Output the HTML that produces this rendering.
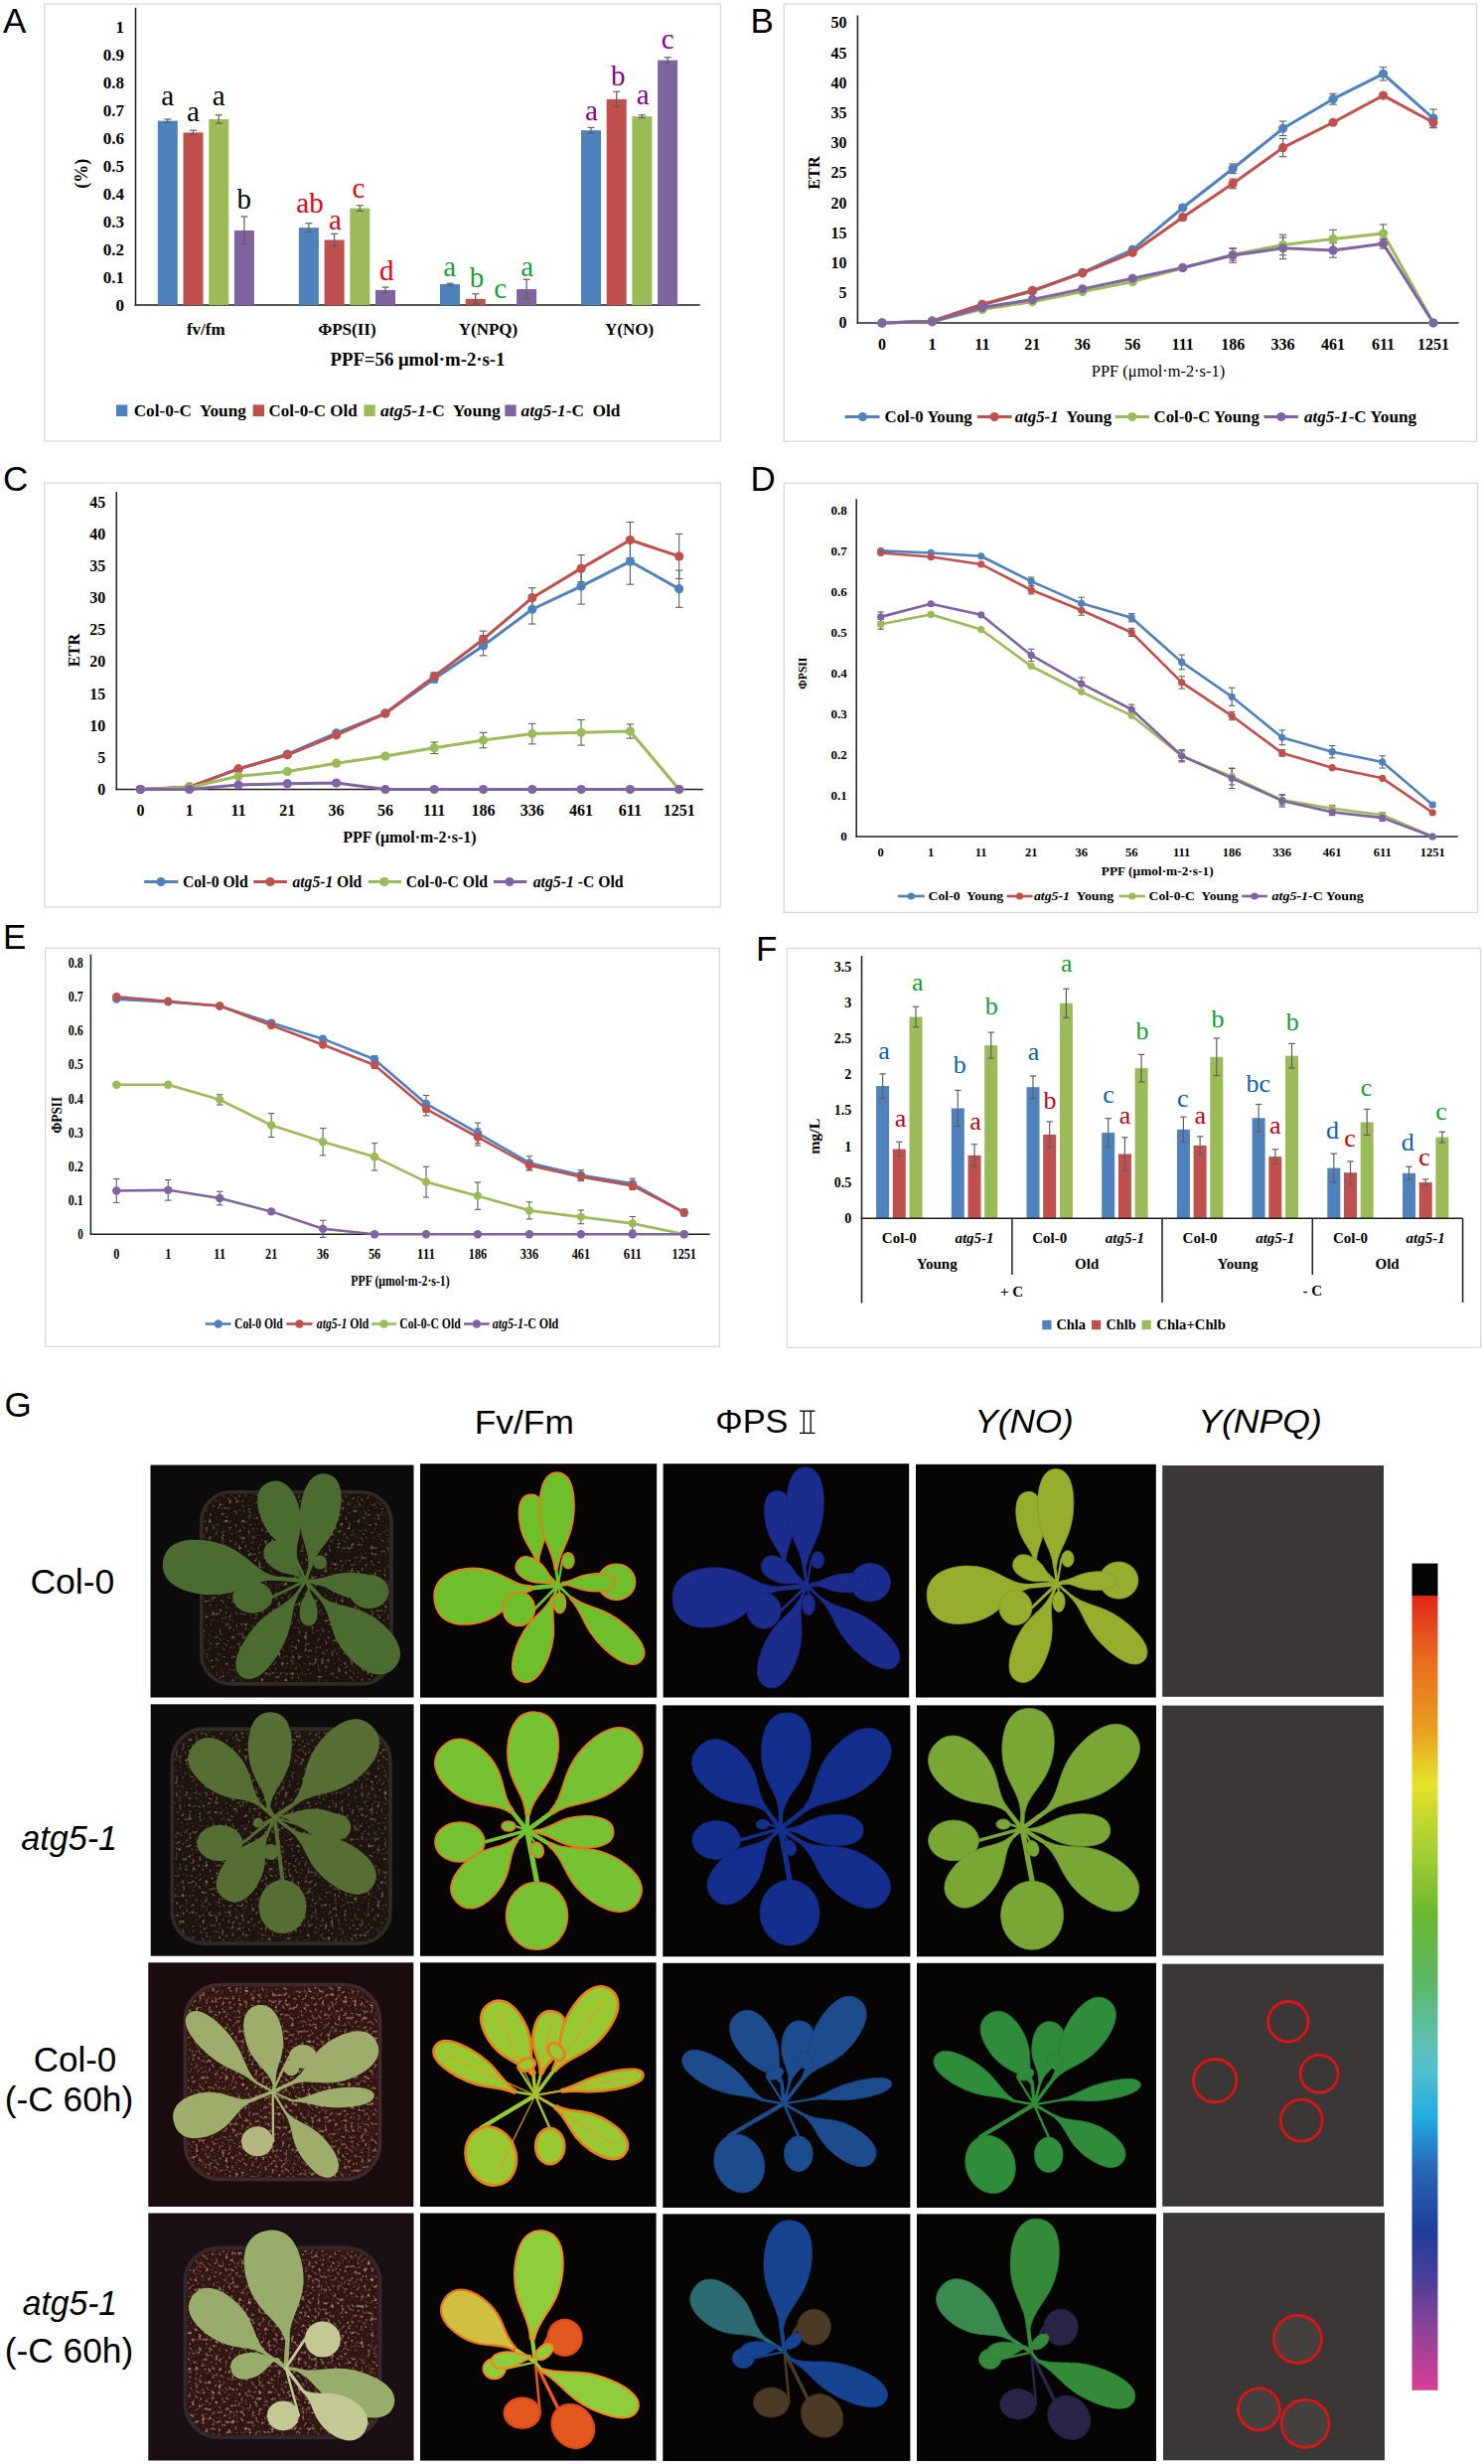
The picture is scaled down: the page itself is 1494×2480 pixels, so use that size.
<!DOCTYPE html><html><head><meta charset="utf-8"><style>html,body{margin:0;padding:0;background:#fff;width:1494px;height:2480px;overflow:hidden}svg{display:block}</style></head><body>
<svg width="1494" height="2480" viewBox="0 0 1494 2480">
<rect x="0" y="0" width="1494" height="2480" fill="#fff" stroke="none" stroke-width="0"/>
<rect x="44.8" y="4" width="680.6" height="440" fill="#fff" stroke="#d9d9d9" stroke-width="1.3"/>
<text x="3" y="33" font-family='"Liberation Sans", sans-serif' font-size="35" font-weight="normal" font-style="normal" text-anchor="start" fill="#000">A</text>
<text x="125" y="312.8" font-family='"Liberation Serif", serif' font-size="17" font-weight="bold" font-style="normal" text-anchor="end" fill="#000">0</text>
<text x="125" y="284.8" font-family='"Liberation Serif", serif' font-size="17" font-weight="bold" font-style="normal" text-anchor="end" fill="#000">0.1</text>
<text x="125" y="256.8" font-family='"Liberation Serif", serif' font-size="17" font-weight="bold" font-style="normal" text-anchor="end" fill="#000">0.2</text>
<text x="125" y="228.8" font-family='"Liberation Serif", serif' font-size="17" font-weight="bold" font-style="normal" text-anchor="end" fill="#000">0.3</text>
<text x="125" y="200.8" font-family='"Liberation Serif", serif' font-size="17" font-weight="bold" font-style="normal" text-anchor="end" fill="#000">0.4</text>
<text x="125" y="172.8" font-family='"Liberation Serif", serif' font-size="17" font-weight="bold" font-style="normal" text-anchor="end" fill="#000">0.5</text>
<text x="125" y="144.8" font-family='"Liberation Serif", serif' font-size="17" font-weight="bold" font-style="normal" text-anchor="end" fill="#000">0.6</text>
<text x="125" y="116.8" font-family='"Liberation Serif", serif' font-size="17" font-weight="bold" font-style="normal" text-anchor="end" fill="#000">0.7</text>
<text x="125" y="88.8" font-family='"Liberation Serif", serif' font-size="17" font-weight="bold" font-style="normal" text-anchor="end" fill="#000">0.8</text>
<text x="125" y="60.8" font-family='"Liberation Serif", serif' font-size="17" font-weight="bold" font-style="normal" text-anchor="end" fill="#000">0.9</text>
<text x="125" y="32.8" font-family='"Liberation Serif", serif' font-size="17" font-weight="bold" font-style="normal" text-anchor="end" fill="#000">1</text>
<text x="0" y="0" font-family='"Liberation Serif", serif' font-size="18" font-weight="bold" font-style="normal" text-anchor="middle" fill="#000" transform="translate(87.5,174.8) rotate(-90)">(%)</text>
<line x1="136.5" y1="7.7" x2="136.5" y2="307.7" stroke="#1e1e1e" stroke-width="1.5"/>
<line x1="135.8" y1="307" x2="704.7" y2="307" stroke="#1e1e1e" stroke-width="1.6"/>
<rect x="158.8" y="121.64" width="20" height="185.36" fill="#4f81bd" stroke="none" stroke-width="0"/>
<rect x="184.5" y="133.4" width="20" height="173.6" fill="#c0504d" stroke="none" stroke-width="0"/>
<rect x="210.2" y="119.96" width="20" height="187.04" fill="#9bbb59" stroke="none" stroke-width="0"/>
<rect x="235.9" y="231.96" width="20" height="75.04" fill="#8064a2" stroke="none" stroke-width="0"/>
<rect x="300.9" y="229.16" width="20" height="77.84" fill="#4f81bd" stroke="none" stroke-width="0"/>
<rect x="326.6" y="241.48" width="20" height="65.52" fill="#c0504d" stroke="none" stroke-width="0"/>
<rect x="352.3" y="209.56" width="20" height="97.44" fill="#9bbb59" stroke="none" stroke-width="0"/>
<rect x="378" y="291.88" width="20" height="15.12" fill="#8064a2" stroke="none" stroke-width="0"/>
<rect x="443" y="286" width="20" height="21" fill="#4f81bd" stroke="none" stroke-width="0"/>
<rect x="468.7" y="300.84" width="20" height="6.16" fill="#c0504d" stroke="none" stroke-width="0"/>
<rect x="520.1" y="291.04" width="20" height="15.96" fill="#8064a2" stroke="none" stroke-width="0"/>
<rect x="585" y="131.16" width="20" height="175.84" fill="#4f81bd" stroke="none" stroke-width="0"/>
<rect x="610.7" y="99.8" width="20" height="207.2" fill="#c0504d" stroke="none" stroke-width="0"/>
<rect x="636.4" y="117.16" width="20" height="189.84" fill="#9bbb59" stroke="none" stroke-width="0"/>
<rect x="662.1" y="60.6" width="20" height="246.4" fill="#8064a2" stroke="none" stroke-width="0"/>
<line x1="168.8" y1="119.96" x2="168.8" y2="123.32" stroke="#5f5f5f" stroke-width="1.2"/>
<line x1="165.3" y1="119.96" x2="172.3" y2="119.96" stroke="#5f5f5f" stroke-width="1.2"/>
<line x1="165.3" y1="123.32" x2="172.3" y2="123.32" stroke="#5f5f5f" stroke-width="1.2"/>
<line x1="194.5" y1="131.16" x2="194.5" y2="135.64" stroke="#5f5f5f" stroke-width="1.2"/>
<line x1="191" y1="131.16" x2="198" y2="131.16" stroke="#5f5f5f" stroke-width="1.2"/>
<line x1="191" y1="135.64" x2="198" y2="135.64" stroke="#5f5f5f" stroke-width="1.2"/>
<line x1="220.2" y1="115.76" x2="220.2" y2="124.16" stroke="#5f5f5f" stroke-width="1.2"/>
<line x1="216.7" y1="115.76" x2="223.7" y2="115.76" stroke="#5f5f5f" stroke-width="1.2"/>
<line x1="216.7" y1="124.16" x2="223.7" y2="124.16" stroke="#5f5f5f" stroke-width="1.2"/>
<line x1="245.9" y1="217.96" x2="245.9" y2="245.96" stroke="#5f5f5f" stroke-width="1.2"/>
<line x1="242.4" y1="217.96" x2="249.4" y2="217.96" stroke="#5f5f5f" stroke-width="1.2"/>
<line x1="242.4" y1="245.96" x2="249.4" y2="245.96" stroke="#5f5f5f" stroke-width="1.2"/>
<line x1="310.9" y1="224.68" x2="310.9" y2="233.64" stroke="#5f5f5f" stroke-width="1.2"/>
<line x1="307.4" y1="224.68" x2="314.4" y2="224.68" stroke="#5f5f5f" stroke-width="1.2"/>
<line x1="307.4" y1="233.64" x2="314.4" y2="233.64" stroke="#5f5f5f" stroke-width="1.2"/>
<line x1="336.6" y1="235.32" x2="336.6" y2="247.64" stroke="#5f5f5f" stroke-width="1.2"/>
<line x1="333.1" y1="235.32" x2="340.1" y2="235.32" stroke="#5f5f5f" stroke-width="1.2"/>
<line x1="333.1" y1="247.64" x2="340.1" y2="247.64" stroke="#5f5f5f" stroke-width="1.2"/>
<line x1="362.3" y1="206.76" x2="362.3" y2="212.36" stroke="#5f5f5f" stroke-width="1.2"/>
<line x1="358.8" y1="206.76" x2="365.8" y2="206.76" stroke="#5f5f5f" stroke-width="1.2"/>
<line x1="358.8" y1="212.36" x2="365.8" y2="212.36" stroke="#5f5f5f" stroke-width="1.2"/>
<line x1="388" y1="289.08" x2="388" y2="294.68" stroke="#5f5f5f" stroke-width="1.2"/>
<line x1="384.5" y1="289.08" x2="391.5" y2="289.08" stroke="#5f5f5f" stroke-width="1.2"/>
<line x1="384.5" y1="294.68" x2="391.5" y2="294.68" stroke="#5f5f5f" stroke-width="1.2"/>
<line x1="453" y1="285.16" x2="453" y2="286.84" stroke="#5f5f5f" stroke-width="1.2"/>
<line x1="449.5" y1="285.16" x2="456.5" y2="285.16" stroke="#5f5f5f" stroke-width="1.2"/>
<line x1="449.5" y1="286.84" x2="456.5" y2="286.84" stroke="#5f5f5f" stroke-width="1.2"/>
<line x1="478.7" y1="295.8" x2="478.7" y2="305.88" stroke="#5f5f5f" stroke-width="1.2"/>
<line x1="475.2" y1="295.8" x2="482.2" y2="295.8" stroke="#5f5f5f" stroke-width="1.2"/>
<line x1="475.2" y1="305.88" x2="482.2" y2="305.88" stroke="#5f5f5f" stroke-width="1.2"/>
<line x1="530.1" y1="281.24" x2="530.1" y2="300.84" stroke="#5f5f5f" stroke-width="1.2"/>
<line x1="526.6" y1="281.24" x2="533.6" y2="281.24" stroke="#5f5f5f" stroke-width="1.2"/>
<line x1="526.6" y1="300.84" x2="533.6" y2="300.84" stroke="#5f5f5f" stroke-width="1.2"/>
<line x1="595" y1="128.36" x2="595" y2="133.96" stroke="#5f5f5f" stroke-width="1.2"/>
<line x1="591.5" y1="128.36" x2="598.5" y2="128.36" stroke="#5f5f5f" stroke-width="1.2"/>
<line x1="591.5" y1="133.96" x2="598.5" y2="133.96" stroke="#5f5f5f" stroke-width="1.2"/>
<line x1="620.7" y1="92.24" x2="620.7" y2="107.36" stroke="#5f5f5f" stroke-width="1.2"/>
<line x1="617.2" y1="92.24" x2="624.2" y2="92.24" stroke="#5f5f5f" stroke-width="1.2"/>
<line x1="617.2" y1="107.36" x2="624.2" y2="107.36" stroke="#5f5f5f" stroke-width="1.2"/>
<line x1="646.4" y1="115.76" x2="646.4" y2="118.56" stroke="#5f5f5f" stroke-width="1.2"/>
<line x1="642.9" y1="115.76" x2="649.9" y2="115.76" stroke="#5f5f5f" stroke-width="1.2"/>
<line x1="642.9" y1="118.56" x2="649.9" y2="118.56" stroke="#5f5f5f" stroke-width="1.2"/>
<line x1="672.1" y1="57.8" x2="672.1" y2="63.4" stroke="#5f5f5f" stroke-width="1.2"/>
<line x1="668.6" y1="57.8" x2="675.6" y2="57.8" stroke="#5f5f5f" stroke-width="1.2"/>
<line x1="668.6" y1="63.4" x2="675.6" y2="63.4" stroke="#5f5f5f" stroke-width="1.2"/>
<text x="168.8" y="106" font-family='"Liberation Serif", serif' font-size="29" font-weight="normal" font-style="normal" text-anchor="middle" fill="#000">a</text>
<text x="194.5" y="122" font-family='"Liberation Serif", serif' font-size="29" font-weight="normal" font-style="normal" text-anchor="middle" fill="#000">a</text>
<text x="220.2" y="106" font-family='"Liberation Serif", serif' font-size="29" font-weight="normal" font-style="normal" text-anchor="middle" fill="#000">a</text>
<text x="245.8" y="210" font-family='"Liberation Serif", serif' font-size="29" font-weight="normal" font-style="normal" text-anchor="middle" fill="#000">b</text>
<text x="312" y="213.8" font-family='"Liberation Serif", serif' font-size="29" font-weight="normal" font-style="normal" text-anchor="middle" fill="#e00010">ab</text>
<text x="337.5" y="230.5" font-family='"Liberation Serif", serif' font-size="29" font-weight="normal" font-style="normal" text-anchor="middle" fill="#e00010">a</text>
<text x="361" y="198.5" font-family='"Liberation Serif", serif' font-size="29" font-weight="normal" font-style="normal" text-anchor="middle" fill="#e00010">c</text>
<text x="389.2" y="281.7" font-family='"Liberation Serif", serif' font-size="29" font-weight="normal" font-style="normal" text-anchor="middle" fill="#e00010">d</text>
<text x="452.7" y="277.8" font-family='"Liberation Serif", serif' font-size="29" font-weight="normal" font-style="normal" text-anchor="middle" fill="#18a038">a</text>
<text x="480.1" y="289.4" font-family='"Liberation Serif", serif' font-size="29" font-weight="normal" font-style="normal" text-anchor="middle" fill="#18a038">b</text>
<text x="503.7" y="299.6" font-family='"Liberation Serif", serif' font-size="29" font-weight="normal" font-style="normal" text-anchor="middle" fill="#18a038">c</text>
<text x="530.8" y="277.8" font-family='"Liberation Serif", serif' font-size="29" font-weight="normal" font-style="normal" text-anchor="middle" fill="#18a038">a</text>
<text x="595.4" y="120.9" font-family='"Liberation Serif", serif' font-size="29" font-weight="normal" font-style="normal" text-anchor="middle" fill="#850085">a</text>
<text x="622.2" y="85.8" font-family='"Liberation Serif", serif' font-size="29" font-weight="normal" font-style="normal" text-anchor="middle" fill="#850085">b</text>
<text x="647.3" y="105" font-family='"Liberation Serif", serif' font-size="29" font-weight="normal" font-style="normal" text-anchor="middle" fill="#850085">a</text>
<text x="672.2" y="48.7" font-family='"Liberation Serif", serif' font-size="29" font-weight="normal" font-style="normal" text-anchor="middle" fill="#850085">c</text>
<text x="207.3" y="336.5" font-family='"Liberation Serif", serif' font-size="17" font-weight="bold" font-style="normal" text-anchor="middle" fill="#000">fv/fm</text>
<text x="349.4" y="336.5" font-family='"Liberation Serif", serif' font-size="17" font-weight="bold" font-style="normal" text-anchor="middle" fill="#000">ΦPS(II)</text>
<text x="491.5" y="336.5" font-family='"Liberation Serif", serif' font-size="17" font-weight="bold" font-style="normal" text-anchor="middle" fill="#000">Y(NPQ)</text>
<text x="633.5" y="336.5" font-family='"Liberation Serif", serif' font-size="17" font-weight="bold" font-style="normal" text-anchor="middle" fill="#000">Y(NO)</text>
<text x="420.5" y="367.5" font-family='"Liberation Serif", serif' font-size="19" font-weight="bold" font-style="normal" text-anchor="middle" fill="#000" textLength="176" lengthAdjust="spacingAndGlyphs">PPF=56 μmol·m-2·s-1</text>
<rect x="117" y="407.4" width="11.3" height="11.6" fill="#4f81bd" stroke="none" stroke-width="0"/>
<rect x="254.7" y="407.4" width="11.3" height="11.6" fill="#c0504d" stroke="none" stroke-width="0"/>
<rect x="366.4" y="407.4" width="11.3" height="11.6" fill="#9bbb59" stroke="none" stroke-width="0"/>
<rect x="508.3" y="407.4" width="11.3" height="11.6" fill="#8064a2" stroke="none" stroke-width="0"/>
<text x="134.7" y="419.2" font-family='"Liberation Serif", serif' font-size="17.5" font-weight="bold" font-style="normal" text-anchor="start" fill="#000" textLength="113.2" lengthAdjust="spacingAndGlyphs">Col-0-C&#160; Young</text>
<text x="270.6" y="419.2" font-family='"Liberation Serif", serif' font-size="17.5" font-weight="bold" font-style="normal" text-anchor="start" fill="#000" textLength="89" lengthAdjust="spacingAndGlyphs">Col-0-C Old</text>
<text x="383" y="419.2" font-family='"Liberation Serif", serif' font-size="17.5" font-weight="bold" font-style="normal" text-anchor="start" fill="#000" textLength="120.8" lengthAdjust="spacingAndGlyphs"><tspan font-style="italic">atg5-1</tspan>-C&#160; Young</text>
<text x="524.5" y="419.2" font-family='"Liberation Serif", serif' font-size="17.5" font-weight="bold" font-style="normal" text-anchor="start" fill="#000" textLength="100" lengthAdjust="spacingAndGlyphs"><tspan font-style="italic">atg5-1</tspan>-C&#160; Old</text>
<rect x="789.2" y="4.1" width="697.5" height="440.2" fill="#fff" stroke="#d9d9d9" stroke-width="1.3"/>
<text x="755.5" y="32.5" font-family='"Liberation Sans", sans-serif' font-size="35" font-weight="normal" font-style="normal" text-anchor="start" fill="#000">B</text>
<line x1="863.4" y1="15.4" x2="863.4" y2="325.7" stroke="#1e1e1e" stroke-width="1.5"/>
<line x1="862.7" y1="325" x2="1468.6" y2="325" stroke="#1e1e1e" stroke-width="1.6"/>
<text x="852.5" y="330.44" font-family='"Liberation Serif", serif' font-size="16" font-weight="bold" font-style="normal" text-anchor="end" fill="#000">0</text>
<text x="852.5" y="300.24" font-family='"Liberation Serif", serif' font-size="16" font-weight="bold" font-style="normal" text-anchor="end" fill="#000">5</text>
<text x="852.5" y="270.04" font-family='"Liberation Serif", serif' font-size="16" font-weight="bold" font-style="normal" text-anchor="end" fill="#000">10</text>
<text x="852.5" y="239.84" font-family='"Liberation Serif", serif' font-size="16" font-weight="bold" font-style="normal" text-anchor="end" fill="#000">15</text>
<text x="852.5" y="209.64" font-family='"Liberation Serif", serif' font-size="16" font-weight="bold" font-style="normal" text-anchor="end" fill="#000">20</text>
<text x="852.5" y="179.44" font-family='"Liberation Serif", serif' font-size="16" font-weight="bold" font-style="normal" text-anchor="end" fill="#000">25</text>
<text x="852.5" y="149.24" font-family='"Liberation Serif", serif' font-size="16" font-weight="bold" font-style="normal" text-anchor="end" fill="#000">30</text>
<text x="852.5" y="119.04" font-family='"Liberation Serif", serif' font-size="16" font-weight="bold" font-style="normal" text-anchor="end" fill="#000">35</text>
<text x="852.5" y="88.84" font-family='"Liberation Serif", serif' font-size="16" font-weight="bold" font-style="normal" text-anchor="end" fill="#000">40</text>
<text x="852.5" y="58.64" font-family='"Liberation Serif", serif' font-size="16" font-weight="bold" font-style="normal" text-anchor="end" fill="#000">45</text>
<text x="852.5" y="28.44" font-family='"Liberation Serif", serif' font-size="16" font-weight="bold" font-style="normal" text-anchor="end" fill="#000">50</text>
<text x="888" y="351.64" font-family='"Liberation Serif", serif' font-size="16" font-weight="bold" font-style="normal" text-anchor="middle" fill="#000">0</text>
<text x="938.45" y="351.64" font-family='"Liberation Serif", serif' font-size="16" font-weight="bold" font-style="normal" text-anchor="middle" fill="#000">1</text>
<text x="988.9" y="351.64" font-family='"Liberation Serif", serif' font-size="16" font-weight="bold" font-style="normal" text-anchor="middle" fill="#000">11</text>
<text x="1039.35" y="351.64" font-family='"Liberation Serif", serif' font-size="16" font-weight="bold" font-style="normal" text-anchor="middle" fill="#000">21</text>
<text x="1089.8" y="351.64" font-family='"Liberation Serif", serif' font-size="16" font-weight="bold" font-style="normal" text-anchor="middle" fill="#000">36</text>
<text x="1140.25" y="351.64" font-family='"Liberation Serif", serif' font-size="16" font-weight="bold" font-style="normal" text-anchor="middle" fill="#000">56</text>
<text x="1190.7" y="351.64" font-family='"Liberation Serif", serif' font-size="16" font-weight="bold" font-style="normal" text-anchor="middle" fill="#000">111</text>
<text x="1241.15" y="351.64" font-family='"Liberation Serif", serif' font-size="16" font-weight="bold" font-style="normal" text-anchor="middle" fill="#000">186</text>
<text x="1291.6" y="351.64" font-family='"Liberation Serif", serif' font-size="16" font-weight="bold" font-style="normal" text-anchor="middle" fill="#000">336</text>
<text x="1342.05" y="351.64" font-family='"Liberation Serif", serif' font-size="16" font-weight="bold" font-style="normal" text-anchor="middle" fill="#000">461</text>
<text x="1392.5" y="351.64" font-family='"Liberation Serif", serif' font-size="16" font-weight="bold" font-style="normal" text-anchor="middle" fill="#000">611</text>
<text x="1442.95" y="351.64" font-family='"Liberation Serif", serif' font-size="16" font-weight="bold" font-style="normal" text-anchor="middle" fill="#000">1251</text>
<polyline points="888,325 938.45,323.19 988.9,306.88 1039.35,292.99 1089.8,274.26 1140.25,251.31 1190.7,209.03 1241.15,169.77 1291.6,129.3 1342.05,99.71 1392.5,74.34 1442.95,119.04" fill="none" stroke="#4f81bd" stroke-width="3" stroke-linejoin="round"/>
<polyline points="888,325 938.45,323.19 988.9,306.28 1039.35,292.38 1089.8,274.87 1140.25,254.33 1190.7,218.7 1241.15,184.87 1291.6,148.63 1342.05,123.26 1392.5,96.08 1442.95,123.26" fill="none" stroke="#c0504d" stroke-width="3" stroke-linejoin="round"/>
<polyline points="888,325 938.45,323.79 988.9,311.41 1039.35,303.86 1089.8,293.59 1140.25,283.63 1190.7,269.73 1241.15,256.14 1291.6,246.48 1342.05,240.44 1392.5,235 1442.95,325" fill="none" stroke="#9bbb59" stroke-width="3" stroke-linejoin="round"/>
<polyline points="888,325 938.45,323.79 988.9,309.6 1039.35,301.44 1089.8,290.87 1140.25,280.3 1190.7,269.43 1241.15,257.05 1291.6,249.8 1342.05,251.92 1392.5,245.27 1442.95,325" fill="none" stroke="#8064a2" stroke-width="3" stroke-linejoin="round"/>
<line x1="1190.7" y1="206.62" x2="1190.7" y2="211.45" stroke="#5f5f5f" stroke-width="1.1"/>
<line x1="1186.9" y1="206.62" x2="1194.5" y2="206.62" stroke="#5f5f5f" stroke-width="1.1"/>
<line x1="1186.9" y1="211.45" x2="1194.5" y2="211.45" stroke="#5f5f5f" stroke-width="1.1"/>
<line x1="1241.15" y1="164.94" x2="1241.15" y2="174.6" stroke="#5f5f5f" stroke-width="1.1"/>
<line x1="1237.35" y1="164.94" x2="1244.95" y2="164.94" stroke="#5f5f5f" stroke-width="1.1"/>
<line x1="1237.35" y1="174.6" x2="1244.95" y2="174.6" stroke="#5f5f5f" stroke-width="1.1"/>
<line x1="1291.6" y1="122.06" x2="1291.6" y2="136.55" stroke="#5f5f5f" stroke-width="1.1"/>
<line x1="1287.8" y1="122.06" x2="1295.4" y2="122.06" stroke="#5f5f5f" stroke-width="1.1"/>
<line x1="1287.8" y1="136.55" x2="1295.4" y2="136.55" stroke="#5f5f5f" stroke-width="1.1"/>
<line x1="1342.05" y1="94.27" x2="1342.05" y2="105.14" stroke="#5f5f5f" stroke-width="1.1"/>
<line x1="1338.25" y1="94.27" x2="1345.85" y2="94.27" stroke="#5f5f5f" stroke-width="1.1"/>
<line x1="1338.25" y1="105.14" x2="1345.85" y2="105.14" stroke="#5f5f5f" stroke-width="1.1"/>
<line x1="1392.5" y1="67.7" x2="1392.5" y2="80.98" stroke="#5f5f5f" stroke-width="1.1"/>
<line x1="1388.7" y1="67.7" x2="1396.3" y2="67.7" stroke="#5f5f5f" stroke-width="1.1"/>
<line x1="1388.7" y1="80.98" x2="1396.3" y2="80.98" stroke="#5f5f5f" stroke-width="1.1"/>
<line x1="1442.95" y1="109.98" x2="1442.95" y2="128.1" stroke="#5f5f5f" stroke-width="1.1"/>
<line x1="1439.15" y1="109.98" x2="1446.75" y2="109.98" stroke="#5f5f5f" stroke-width="1.1"/>
<line x1="1439.15" y1="128.1" x2="1446.75" y2="128.1" stroke="#5f5f5f" stroke-width="1.1"/>
<line x1="1190.7" y1="215.68" x2="1190.7" y2="221.72" stroke="#5f5f5f" stroke-width="1.1"/>
<line x1="1186.9" y1="215.68" x2="1194.5" y2="215.68" stroke="#5f5f5f" stroke-width="1.1"/>
<line x1="1186.9" y1="221.72" x2="1194.5" y2="221.72" stroke="#5f5f5f" stroke-width="1.1"/>
<line x1="1241.15" y1="180.04" x2="1241.15" y2="189.7" stroke="#5f5f5f" stroke-width="1.1"/>
<line x1="1237.35" y1="180.04" x2="1244.95" y2="180.04" stroke="#5f5f5f" stroke-width="1.1"/>
<line x1="1237.35" y1="189.7" x2="1244.95" y2="189.7" stroke="#5f5f5f" stroke-width="1.1"/>
<line x1="1291.6" y1="139.57" x2="1291.6" y2="157.69" stroke="#5f5f5f" stroke-width="1.1"/>
<line x1="1287.8" y1="139.57" x2="1295.4" y2="139.57" stroke="#5f5f5f" stroke-width="1.1"/>
<line x1="1287.8" y1="157.69" x2="1295.4" y2="157.69" stroke="#5f5f5f" stroke-width="1.1"/>
<line x1="1342.05" y1="121.45" x2="1342.05" y2="125.08" stroke="#5f5f5f" stroke-width="1.1"/>
<line x1="1338.25" y1="121.45" x2="1345.85" y2="121.45" stroke="#5f5f5f" stroke-width="1.1"/>
<line x1="1338.25" y1="125.08" x2="1345.85" y2="125.08" stroke="#5f5f5f" stroke-width="1.1"/>
<line x1="1392.5" y1="94.27" x2="1392.5" y2="97.9" stroke="#5f5f5f" stroke-width="1.1"/>
<line x1="1388.7" y1="94.27" x2="1396.3" y2="94.27" stroke="#5f5f5f" stroke-width="1.1"/>
<line x1="1388.7" y1="97.9" x2="1396.3" y2="97.9" stroke="#5f5f5f" stroke-width="1.1"/>
<line x1="1442.95" y1="117.83" x2="1442.95" y2="128.7" stroke="#5f5f5f" stroke-width="1.1"/>
<line x1="1439.15" y1="117.83" x2="1446.75" y2="117.83" stroke="#5f5f5f" stroke-width="1.1"/>
<line x1="1439.15" y1="128.7" x2="1446.75" y2="128.7" stroke="#5f5f5f" stroke-width="1.1"/>
<line x1="1241.15" y1="250.1" x2="1241.15" y2="262.18" stroke="#5f5f5f" stroke-width="1.1"/>
<line x1="1237.35" y1="250.1" x2="1244.95" y2="250.1" stroke="#5f5f5f" stroke-width="1.1"/>
<line x1="1237.35" y1="262.18" x2="1244.95" y2="262.18" stroke="#5f5f5f" stroke-width="1.1"/>
<line x1="1291.6" y1="236.21" x2="1291.6" y2="256.75" stroke="#5f5f5f" stroke-width="1.1"/>
<line x1="1287.8" y1="236.21" x2="1295.4" y2="236.21" stroke="#5f5f5f" stroke-width="1.1"/>
<line x1="1287.8" y1="256.75" x2="1295.4" y2="256.75" stroke="#5f5f5f" stroke-width="1.1"/>
<line x1="1342.05" y1="231.38" x2="1342.05" y2="249.5" stroke="#5f5f5f" stroke-width="1.1"/>
<line x1="1338.25" y1="231.38" x2="1345.85" y2="231.38" stroke="#5f5f5f" stroke-width="1.1"/>
<line x1="1338.25" y1="249.5" x2="1345.85" y2="249.5" stroke="#5f5f5f" stroke-width="1.1"/>
<line x1="1392.5" y1="225.94" x2="1392.5" y2="244.06" stroke="#5f5f5f" stroke-width="1.1"/>
<line x1="1388.7" y1="225.94" x2="1396.3" y2="225.94" stroke="#5f5f5f" stroke-width="1.1"/>
<line x1="1388.7" y1="244.06" x2="1396.3" y2="244.06" stroke="#5f5f5f" stroke-width="1.1"/>
<line x1="1241.15" y1="249.8" x2="1241.15" y2="264.3" stroke="#5f5f5f" stroke-width="1.1"/>
<line x1="1237.35" y1="249.8" x2="1244.95" y2="249.8" stroke="#5f5f5f" stroke-width="1.1"/>
<line x1="1237.35" y1="264.3" x2="1244.95" y2="264.3" stroke="#5f5f5f" stroke-width="1.1"/>
<line x1="1291.6" y1="238.93" x2="1291.6" y2="260.67" stroke="#5f5f5f" stroke-width="1.1"/>
<line x1="1287.8" y1="238.93" x2="1295.4" y2="238.93" stroke="#5f5f5f" stroke-width="1.1"/>
<line x1="1287.8" y1="260.67" x2="1295.4" y2="260.67" stroke="#5f5f5f" stroke-width="1.1"/>
<line x1="1342.05" y1="244.67" x2="1342.05" y2="259.16" stroke="#5f5f5f" stroke-width="1.1"/>
<line x1="1338.25" y1="244.67" x2="1345.85" y2="244.67" stroke="#5f5f5f" stroke-width="1.1"/>
<line x1="1338.25" y1="259.16" x2="1345.85" y2="259.16" stroke="#5f5f5f" stroke-width="1.1"/>
<line x1="1392.5" y1="240.44" x2="1392.5" y2="250.1" stroke="#5f5f5f" stroke-width="1.1"/>
<line x1="1388.7" y1="240.44" x2="1396.3" y2="240.44" stroke="#5f5f5f" stroke-width="1.1"/>
<line x1="1388.7" y1="250.1" x2="1396.3" y2="250.1" stroke="#5f5f5f" stroke-width="1.1"/>
<circle cx="888" cy="325" r="4.6" fill="#4f81bd"/>
<circle cx="938.45" cy="323.19" r="4.6" fill="#4f81bd"/>
<circle cx="988.9" cy="306.88" r="4.6" fill="#4f81bd"/>
<circle cx="1039.35" cy="292.99" r="4.6" fill="#4f81bd"/>
<circle cx="1089.8" cy="274.26" r="4.6" fill="#4f81bd"/>
<circle cx="1140.25" cy="251.31" r="4.6" fill="#4f81bd"/>
<circle cx="1190.7" cy="209.03" r="4.6" fill="#4f81bd"/>
<circle cx="1241.15" cy="169.77" r="4.6" fill="#4f81bd"/>
<circle cx="1291.6" cy="129.3" r="4.6" fill="#4f81bd"/>
<circle cx="1342.05" cy="99.71" r="4.6" fill="#4f81bd"/>
<circle cx="1392.5" cy="74.34" r="4.6" fill="#4f81bd"/>
<circle cx="1442.95" cy="119.04" r="4.6" fill="#4f81bd"/>
<circle cx="888" cy="325" r="4.6" fill="#c0504d"/>
<circle cx="938.45" cy="323.19" r="4.6" fill="#c0504d"/>
<circle cx="988.9" cy="306.28" r="4.6" fill="#c0504d"/>
<circle cx="1039.35" cy="292.38" r="4.6" fill="#c0504d"/>
<circle cx="1089.8" cy="274.87" r="4.6" fill="#c0504d"/>
<circle cx="1140.25" cy="254.33" r="4.6" fill="#c0504d"/>
<circle cx="1190.7" cy="218.7" r="4.6" fill="#c0504d"/>
<circle cx="1241.15" cy="184.87" r="4.6" fill="#c0504d"/>
<circle cx="1291.6" cy="148.63" r="4.6" fill="#c0504d"/>
<circle cx="1342.05" cy="123.26" r="4.6" fill="#c0504d"/>
<circle cx="1392.5" cy="96.08" r="4.6" fill="#c0504d"/>
<circle cx="1442.95" cy="123.26" r="4.6" fill="#c0504d"/>
<circle cx="888" cy="325" r="4.6" fill="#9bbb59"/>
<circle cx="938.45" cy="323.79" r="4.6" fill="#9bbb59"/>
<circle cx="988.9" cy="311.41" r="4.6" fill="#9bbb59"/>
<circle cx="1039.35" cy="303.86" r="4.6" fill="#9bbb59"/>
<circle cx="1089.8" cy="293.59" r="4.6" fill="#9bbb59"/>
<circle cx="1140.25" cy="283.63" r="4.6" fill="#9bbb59"/>
<circle cx="1190.7" cy="269.73" r="4.6" fill="#9bbb59"/>
<circle cx="1241.15" cy="256.14" r="4.6" fill="#9bbb59"/>
<circle cx="1291.6" cy="246.48" r="4.6" fill="#9bbb59"/>
<circle cx="1342.05" cy="240.44" r="4.6" fill="#9bbb59"/>
<circle cx="1392.5" cy="235" r="4.6" fill="#9bbb59"/>
<circle cx="1442.95" cy="325" r="4.6" fill="#9bbb59"/>
<circle cx="888" cy="325" r="4.6" fill="#8064a2"/>
<circle cx="938.45" cy="323.79" r="4.6" fill="#8064a2"/>
<circle cx="988.9" cy="309.6" r="4.6" fill="#8064a2"/>
<circle cx="1039.35" cy="301.44" r="4.6" fill="#8064a2"/>
<circle cx="1089.8" cy="290.87" r="4.6" fill="#8064a2"/>
<circle cx="1140.25" cy="280.3" r="4.6" fill="#8064a2"/>
<circle cx="1190.7" cy="269.43" r="4.6" fill="#8064a2"/>
<circle cx="1241.15" cy="257.05" r="4.6" fill="#8064a2"/>
<circle cx="1291.6" cy="249.8" r="4.6" fill="#8064a2"/>
<circle cx="1342.05" cy="251.92" r="4.6" fill="#8064a2"/>
<circle cx="1392.5" cy="245.27" r="4.6" fill="#8064a2"/>
<circle cx="1442.95" cy="325" r="4.6" fill="#8064a2"/>
<line x1="850.6" y1="419.5" x2="885.5" y2="419.5" stroke="#4f81bd" stroke-width="3"/>
<circle cx="868.5" cy="419.5" r="4.6" fill="#4f81bd"/>
<line x1="983.8" y1="419.5" x2="1018.6" y2="419.5" stroke="#c0504d" stroke-width="3"/>
<circle cx="1001.2" cy="419.5" r="4.6" fill="#c0504d"/>
<line x1="1122.6" y1="419.5" x2="1157" y2="419.5" stroke="#9bbb59" stroke-width="3"/>
<circle cx="1139.8" cy="419.5" r="4.6" fill="#9bbb59"/>
<line x1="1272.6" y1="419.5" x2="1307" y2="419.5" stroke="#8064a2" stroke-width="3"/>
<circle cx="1289.8" cy="419.5" r="4.6" fill="#8064a2"/>
<text x="890.6" y="425.11" font-family='"Liberation Serif", serif' font-size="17" font-weight="bold" font-style="normal" text-anchor="start" fill="#000" textLength="88.1" lengthAdjust="spacingAndGlyphs">Col-0 Young</text>
<text x="1021.7" y="425.11" font-family='"Liberation Serif", serif' font-size="17" font-weight="bold" font-style="normal" text-anchor="start" fill="#000" textLength="97.4" lengthAdjust="spacingAndGlyphs"><tspan font-style="italic">atg5-1</tspan>&#160; Young</text>
<text x="1161.6" y="425.11" font-family='"Liberation Serif", serif' font-size="17" font-weight="bold" font-style="normal" text-anchor="start" fill="#000" textLength="106.2" lengthAdjust="spacingAndGlyphs">Col-0-C Young</text>
<text x="1313" y="425.11" font-family='"Liberation Serif", serif' font-size="17" font-weight="bold" font-style="normal" text-anchor="start" fill="#000" textLength="113" lengthAdjust="spacingAndGlyphs"><tspan font-style="italic">atg5-1</tspan>-C Young</text>
<text x="1166" y="379.3" font-family='"Liberation Serif", serif' font-size="17" font-weight="normal" font-style="normal" text-anchor="middle" fill="#000" textLength="134.3" lengthAdjust="spacingAndGlyphs">PPF (μmol·m-2·s-1)</text>
<text x="0" y="0" font-family='"Liberation Serif", serif' font-size="16" font-weight="bold" font-style="normal" text-anchor="middle" fill="#000" textLength="33.5" lengthAdjust="spacingAndGlyphs" transform="translate(825,174) rotate(-90)">ETR</text>
<rect x="44.8" y="486" width="680.6" height="427" fill="#fff" stroke="#d9d9d9" stroke-width="1.3"/>
<text x="3" y="494" font-family='"Liberation Sans", sans-serif' font-size="35" font-weight="normal" font-style="normal" text-anchor="start" fill="#000">C</text>
<line x1="117.3" y1="495" x2="117.3" y2="795.2" stroke="#1e1e1e" stroke-width="1.5"/>
<line x1="116.6" y1="794.5" x2="707.8" y2="794.5" stroke="#1e1e1e" stroke-width="1.6"/>
<text x="106.3" y="799.94" font-family='"Liberation Serif", serif' font-size="16" font-weight="bold" font-style="normal" text-anchor="end" fill="#000">0</text>
<text x="106.3" y="767.81" font-family='"Liberation Serif", serif' font-size="16" font-weight="bold" font-style="normal" text-anchor="end" fill="#000">5</text>
<text x="106.3" y="735.67" font-family='"Liberation Serif", serif' font-size="16" font-weight="bold" font-style="normal" text-anchor="end" fill="#000">10</text>
<text x="106.3" y="703.54" font-family='"Liberation Serif", serif' font-size="16" font-weight="bold" font-style="normal" text-anchor="end" fill="#000">15</text>
<text x="106.3" y="671.4" font-family='"Liberation Serif", serif' font-size="16" font-weight="bold" font-style="normal" text-anchor="end" fill="#000">20</text>
<text x="106.3" y="639.27" font-family='"Liberation Serif", serif' font-size="16" font-weight="bold" font-style="normal" text-anchor="end" fill="#000">25</text>
<text x="106.3" y="607.13" font-family='"Liberation Serif", serif' font-size="16" font-weight="bold" font-style="normal" text-anchor="end" fill="#000">30</text>
<text x="106.3" y="575" font-family='"Liberation Serif", serif' font-size="16" font-weight="bold" font-style="normal" text-anchor="end" fill="#000">35</text>
<text x="106.3" y="542.86" font-family='"Liberation Serif", serif' font-size="16" font-weight="bold" font-style="normal" text-anchor="end" fill="#000">40</text>
<text x="106.3" y="510.73" font-family='"Liberation Serif", serif' font-size="16" font-weight="bold" font-style="normal" text-anchor="end" fill="#000">45</text>
<text x="141.4" y="821.44" font-family='"Liberation Serif", serif' font-size="16" font-weight="bold" font-style="normal" text-anchor="middle" fill="#000">0</text>
<text x="190.7" y="821.44" font-family='"Liberation Serif", serif' font-size="16" font-weight="bold" font-style="normal" text-anchor="middle" fill="#000">1</text>
<text x="240" y="821.44" font-family='"Liberation Serif", serif' font-size="16" font-weight="bold" font-style="normal" text-anchor="middle" fill="#000">11</text>
<text x="289.3" y="821.44" font-family='"Liberation Serif", serif' font-size="16" font-weight="bold" font-style="normal" text-anchor="middle" fill="#000">21</text>
<text x="338.6" y="821.44" font-family='"Liberation Serif", serif' font-size="16" font-weight="bold" font-style="normal" text-anchor="middle" fill="#000">36</text>
<text x="387.9" y="821.44" font-family='"Liberation Serif", serif' font-size="16" font-weight="bold" font-style="normal" text-anchor="middle" fill="#000">56</text>
<text x="437.2" y="821.44" font-family='"Liberation Serif", serif' font-size="16" font-weight="bold" font-style="normal" text-anchor="middle" fill="#000">111</text>
<text x="486.5" y="821.44" font-family='"Liberation Serif", serif' font-size="16" font-weight="bold" font-style="normal" text-anchor="middle" fill="#000">186</text>
<text x="535.8" y="821.44" font-family='"Liberation Serif", serif' font-size="16" font-weight="bold" font-style="normal" text-anchor="middle" fill="#000">336</text>
<text x="585.1" y="821.44" font-family='"Liberation Serif", serif' font-size="16" font-weight="bold" font-style="normal" text-anchor="middle" fill="#000">461</text>
<text x="634.4" y="821.44" font-family='"Liberation Serif", serif' font-size="16" font-weight="bold" font-style="normal" text-anchor="middle" fill="#000">611</text>
<text x="683.7" y="821.44" font-family='"Liberation Serif", serif' font-size="16" font-weight="bold" font-style="normal" text-anchor="middle" fill="#000">1251</text>
<polyline points="141.4,794.5 190.7,792.57 240,773.93 289.3,759.15 338.6,737.94 387.9,718.02 437.2,683.31 486.5,649.89 535.8,613.26 585.1,590.12 634.4,565.06 683.7,592.69" fill="none" stroke="#4f81bd" stroke-width="3" stroke-linejoin="round"/>
<polyline points="141.4,794.5 190.7,791.93 240,773.93 289.3,759.79 338.6,739.87 387.9,718.02 437.2,680.74 486.5,643.47 535.8,601.69 585.1,572.13 634.4,543.53 683.7,559.91" fill="none" stroke="#c0504d" stroke-width="3" stroke-linejoin="round"/>
<polyline points="141.4,794.5 190.7,792.57 240,781.32 289.3,776.5 338.6,768.15 387.9,761.08 437.2,752.72 486.5,745.01 535.8,738.59 585.1,737.3 634.4,736.01 683.7,794.5" fill="none" stroke="#9bbb59" stroke-width="3" stroke-linejoin="round"/>
<polyline points="141.4,794.5 190.7,794.5 240,790 289.3,788.72 338.6,788.07 387.9,794.5 437.2,794.5 486.5,794.5 535.8,794.5 585.1,794.5 634.4,794.5 683.7,794.5" fill="none" stroke="#8064a2" stroke-width="3" stroke-linejoin="round"/>
<line x1="437.2" y1="679.46" x2="437.2" y2="687.17" stroke="#5f5f5f" stroke-width="1.1"/>
<line x1="433.4" y1="679.46" x2="441" y2="679.46" stroke="#5f5f5f" stroke-width="1.1"/>
<line x1="433.4" y1="687.17" x2="441" y2="687.17" stroke="#5f5f5f" stroke-width="1.1"/>
<line x1="486.5" y1="639.93" x2="486.5" y2="659.85" stroke="#5f5f5f" stroke-width="1.1"/>
<line x1="482.7" y1="639.93" x2="490.3" y2="639.93" stroke="#5f5f5f" stroke-width="1.1"/>
<line x1="482.7" y1="659.85" x2="490.3" y2="659.85" stroke="#5f5f5f" stroke-width="1.1"/>
<line x1="535.8" y1="598.48" x2="535.8" y2="628.04" stroke="#5f5f5f" stroke-width="1.1"/>
<line x1="532" y1="598.48" x2="539.6" y2="598.48" stroke="#5f5f5f" stroke-width="1.1"/>
<line x1="532" y1="628.04" x2="539.6" y2="628.04" stroke="#5f5f5f" stroke-width="1.1"/>
<line x1="585.1" y1="572.13" x2="585.1" y2="608.12" stroke="#5f5f5f" stroke-width="1.1"/>
<line x1="581.3" y1="572.13" x2="588.9" y2="572.13" stroke="#5f5f5f" stroke-width="1.1"/>
<line x1="581.3" y1="608.12" x2="588.9" y2="608.12" stroke="#5f5f5f" stroke-width="1.1"/>
<line x1="634.4" y1="541.92" x2="634.4" y2="588.19" stroke="#5f5f5f" stroke-width="1.1"/>
<line x1="630.6" y1="541.92" x2="638.2" y2="541.92" stroke="#5f5f5f" stroke-width="1.1"/>
<line x1="630.6" y1="588.19" x2="638.2" y2="588.19" stroke="#5f5f5f" stroke-width="1.1"/>
<line x1="683.7" y1="574.05" x2="683.7" y2="611.33" stroke="#5f5f5f" stroke-width="1.1"/>
<line x1="679.9" y1="574.05" x2="687.5" y2="574.05" stroke="#5f5f5f" stroke-width="1.1"/>
<line x1="679.9" y1="611.33" x2="687.5" y2="611.33" stroke="#5f5f5f" stroke-width="1.1"/>
<line x1="437.2" y1="676.89" x2="437.2" y2="684.6" stroke="#5f5f5f" stroke-width="1.1"/>
<line x1="433.4" y1="676.89" x2="441" y2="676.89" stroke="#5f5f5f" stroke-width="1.1"/>
<line x1="433.4" y1="684.6" x2="441" y2="684.6" stroke="#5f5f5f" stroke-width="1.1"/>
<line x1="486.5" y1="635.11" x2="486.5" y2="651.82" stroke="#5f5f5f" stroke-width="1.1"/>
<line x1="482.7" y1="635.11" x2="490.3" y2="635.11" stroke="#5f5f5f" stroke-width="1.1"/>
<line x1="482.7" y1="651.82" x2="490.3" y2="651.82" stroke="#5f5f5f" stroke-width="1.1"/>
<line x1="535.8" y1="591.73" x2="535.8" y2="611.65" stroke="#5f5f5f" stroke-width="1.1"/>
<line x1="532" y1="591.73" x2="539.6" y2="591.73" stroke="#5f5f5f" stroke-width="1.1"/>
<line x1="532" y1="611.65" x2="539.6" y2="611.65" stroke="#5f5f5f" stroke-width="1.1"/>
<line x1="585.1" y1="558.63" x2="585.1" y2="585.62" stroke="#5f5f5f" stroke-width="1.1"/>
<line x1="581.3" y1="558.63" x2="588.9" y2="558.63" stroke="#5f5f5f" stroke-width="1.1"/>
<line x1="581.3" y1="585.62" x2="588.9" y2="585.62" stroke="#5f5f5f" stroke-width="1.1"/>
<line x1="634.4" y1="525.53" x2="634.4" y2="561.52" stroke="#5f5f5f" stroke-width="1.1"/>
<line x1="630.6" y1="525.53" x2="638.2" y2="525.53" stroke="#5f5f5f" stroke-width="1.1"/>
<line x1="630.6" y1="561.52" x2="638.2" y2="561.52" stroke="#5f5f5f" stroke-width="1.1"/>
<line x1="683.7" y1="537.42" x2="683.7" y2="582.41" stroke="#5f5f5f" stroke-width="1.1"/>
<line x1="679.9" y1="537.42" x2="687.5" y2="537.42" stroke="#5f5f5f" stroke-width="1.1"/>
<line x1="679.9" y1="582.41" x2="687.5" y2="582.41" stroke="#5f5f5f" stroke-width="1.1"/>
<line x1="437.2" y1="746.94" x2="437.2" y2="758.51" stroke="#5f5f5f" stroke-width="1.1"/>
<line x1="433.4" y1="746.94" x2="441" y2="746.94" stroke="#5f5f5f" stroke-width="1.1"/>
<line x1="433.4" y1="758.51" x2="441" y2="758.51" stroke="#5f5f5f" stroke-width="1.1"/>
<line x1="486.5" y1="737.3" x2="486.5" y2="752.72" stroke="#5f5f5f" stroke-width="1.1"/>
<line x1="482.7" y1="737.3" x2="490.3" y2="737.3" stroke="#5f5f5f" stroke-width="1.1"/>
<line x1="482.7" y1="752.72" x2="490.3" y2="752.72" stroke="#5f5f5f" stroke-width="1.1"/>
<line x1="535.8" y1="728.3" x2="535.8" y2="748.87" stroke="#5f5f5f" stroke-width="1.1"/>
<line x1="532" y1="728.3" x2="539.6" y2="728.3" stroke="#5f5f5f" stroke-width="1.1"/>
<line x1="532" y1="748.87" x2="539.6" y2="748.87" stroke="#5f5f5f" stroke-width="1.1"/>
<line x1="585.1" y1="724.45" x2="585.1" y2="750.15" stroke="#5f5f5f" stroke-width="1.1"/>
<line x1="581.3" y1="724.45" x2="588.9" y2="724.45" stroke="#5f5f5f" stroke-width="1.1"/>
<line x1="581.3" y1="750.15" x2="588.9" y2="750.15" stroke="#5f5f5f" stroke-width="1.1"/>
<line x1="634.4" y1="728.94" x2="634.4" y2="743.08" stroke="#5f5f5f" stroke-width="1.1"/>
<line x1="630.6" y1="728.94" x2="638.2" y2="728.94" stroke="#5f5f5f" stroke-width="1.1"/>
<line x1="630.6" y1="743.08" x2="638.2" y2="743.08" stroke="#5f5f5f" stroke-width="1.1"/>
<circle cx="141.4" cy="794.5" r="4.6" fill="#4f81bd"/>
<circle cx="190.7" cy="792.57" r="4.6" fill="#4f81bd"/>
<circle cx="240" cy="773.93" r="4.6" fill="#4f81bd"/>
<circle cx="289.3" cy="759.15" r="4.6" fill="#4f81bd"/>
<circle cx="338.6" cy="737.94" r="4.6" fill="#4f81bd"/>
<circle cx="387.9" cy="718.02" r="4.6" fill="#4f81bd"/>
<circle cx="437.2" cy="683.31" r="4.6" fill="#4f81bd"/>
<circle cx="486.5" cy="649.89" r="4.6" fill="#4f81bd"/>
<circle cx="535.8" cy="613.26" r="4.6" fill="#4f81bd"/>
<circle cx="585.1" cy="590.12" r="4.6" fill="#4f81bd"/>
<circle cx="634.4" cy="565.06" r="4.6" fill="#4f81bd"/>
<circle cx="683.7" cy="592.69" r="4.6" fill="#4f81bd"/>
<circle cx="141.4" cy="794.5" r="4.6" fill="#c0504d"/>
<circle cx="190.7" cy="791.93" r="4.6" fill="#c0504d"/>
<circle cx="240" cy="773.93" r="4.6" fill="#c0504d"/>
<circle cx="289.3" cy="759.79" r="4.6" fill="#c0504d"/>
<circle cx="338.6" cy="739.87" r="4.6" fill="#c0504d"/>
<circle cx="387.9" cy="718.02" r="4.6" fill="#c0504d"/>
<circle cx="437.2" cy="680.74" r="4.6" fill="#c0504d"/>
<circle cx="486.5" cy="643.47" r="4.6" fill="#c0504d"/>
<circle cx="535.8" cy="601.69" r="4.6" fill="#c0504d"/>
<circle cx="585.1" cy="572.13" r="4.6" fill="#c0504d"/>
<circle cx="634.4" cy="543.53" r="4.6" fill="#c0504d"/>
<circle cx="683.7" cy="559.91" r="4.6" fill="#c0504d"/>
<circle cx="141.4" cy="794.5" r="4.6" fill="#9bbb59"/>
<circle cx="190.7" cy="792.57" r="4.6" fill="#9bbb59"/>
<circle cx="240" cy="781.32" r="4.6" fill="#9bbb59"/>
<circle cx="289.3" cy="776.5" r="4.6" fill="#9bbb59"/>
<circle cx="338.6" cy="768.15" r="4.6" fill="#9bbb59"/>
<circle cx="387.9" cy="761.08" r="4.6" fill="#9bbb59"/>
<circle cx="437.2" cy="752.72" r="4.6" fill="#9bbb59"/>
<circle cx="486.5" cy="745.01" r="4.6" fill="#9bbb59"/>
<circle cx="535.8" cy="738.59" r="4.6" fill="#9bbb59"/>
<circle cx="585.1" cy="737.3" r="4.6" fill="#9bbb59"/>
<circle cx="634.4" cy="736.01" r="4.6" fill="#9bbb59"/>
<circle cx="683.7" cy="794.5" r="4.6" fill="#9bbb59"/>
<circle cx="141.4" cy="794.5" r="4.6" fill="#8064a2"/>
<circle cx="190.7" cy="794.5" r="4.6" fill="#8064a2"/>
<circle cx="240" cy="790" r="4.6" fill="#8064a2"/>
<circle cx="289.3" cy="788.72" r="4.6" fill="#8064a2"/>
<circle cx="338.6" cy="788.07" r="4.6" fill="#8064a2"/>
<circle cx="387.9" cy="794.5" r="4.6" fill="#8064a2"/>
<circle cx="437.2" cy="794.5" r="4.6" fill="#8064a2"/>
<circle cx="486.5" cy="794.5" r="4.6" fill="#8064a2"/>
<circle cx="535.8" cy="794.5" r="4.6" fill="#8064a2"/>
<circle cx="585.1" cy="794.5" r="4.6" fill="#8064a2"/>
<circle cx="634.4" cy="794.5" r="4.6" fill="#8064a2"/>
<circle cx="683.7" cy="794.5" r="4.6" fill="#8064a2"/>
<line x1="145.2" y1="887.5" x2="179.3" y2="887.5" stroke="#4f81bd" stroke-width="3"/>
<circle cx="162" cy="887.5" r="4.6" fill="#4f81bd"/>
<line x1="255.3" y1="887.5" x2="288.9" y2="887.5" stroke="#c0504d" stroke-width="3"/>
<circle cx="272" cy="887.5" r="4.6" fill="#c0504d"/>
<line x1="370.8" y1="887.5" x2="404" y2="887.5" stroke="#9bbb59" stroke-width="3"/>
<circle cx="386.9" cy="887.5" r="4.6" fill="#9bbb59"/>
<line x1="497" y1="887.5" x2="530.3" y2="887.5" stroke="#8064a2" stroke-width="3"/>
<circle cx="513" cy="887.5" r="4.6" fill="#8064a2"/>
<text x="183.9" y="893.11" font-family='"Liberation Serif", serif' font-size="17" font-weight="bold" font-style="normal" text-anchor="start" fill="#000" textLength="65.8" lengthAdjust="spacingAndGlyphs">Col-0 Old</text>
<text x="294.5" y="893.11" font-family='"Liberation Serif", serif' font-size="17" font-weight="bold" font-style="normal" text-anchor="start" fill="#000" textLength="69.7" lengthAdjust="spacingAndGlyphs"><tspan font-style="italic">atg5-1</tspan> Old</text>
<text x="408.7" y="893.11" font-family='"Liberation Serif", serif' font-size="17" font-weight="bold" font-style="normal" text-anchor="start" fill="#000" textLength="82.3" lengthAdjust="spacingAndGlyphs">Col-0-C Old</text>
<text x="536.7" y="893.11" font-family='"Liberation Serif", serif' font-size="17" font-weight="bold" font-style="normal" text-anchor="start" fill="#000" textLength="90.9" lengthAdjust="spacingAndGlyphs"><tspan font-style="italic">atg5-1</tspan> -C Old</text>
<text x="412.4" y="848.3" font-family='"Liberation Serif", serif' font-size="17" font-weight="bold" font-style="normal" text-anchor="middle" fill="#000" textLength="134.4" lengthAdjust="spacingAndGlyphs">PPF (μmol·m-2·s-1)</text>
<text x="0" y="0" font-family='"Liberation Serif", serif' font-size="16" font-weight="bold" font-style="normal" text-anchor="middle" fill="#000" textLength="33.5" lengthAdjust="spacingAndGlyphs" transform="translate(79.5,654.6) rotate(-90)">ETR</text>
<rect x="789.2" y="486.3" width="698.5" height="432.1" fill="#fff" stroke="#d9d9d9" stroke-width="1.3"/>
<text x="755.5" y="494" font-family='"Liberation Sans", sans-serif' font-size="35" font-weight="normal" font-style="normal" text-anchor="start" fill="#000">D</text>
<line x1="862.2" y1="502.3" x2="862.2" y2="842.7" stroke="#1e1e1e" stroke-width="1.5"/>
<line x1="861.5" y1="842" x2="1467.8" y2="842" stroke="#1e1e1e" stroke-width="1.6"/>
<text x="852.7" y="846.42" font-family='"Liberation Serif", serif' font-size="13" font-weight="bold" font-style="normal" text-anchor="end" fill="#000">0</text>
<text x="852.7" y="805.39" font-family='"Liberation Serif", serif' font-size="13" font-weight="bold" font-style="normal" text-anchor="end" fill="#000">0.1</text>
<text x="852.7" y="764.37" font-family='"Liberation Serif", serif' font-size="13" font-weight="bold" font-style="normal" text-anchor="end" fill="#000">0.2</text>
<text x="852.7" y="723.34" font-family='"Liberation Serif", serif' font-size="13" font-weight="bold" font-style="normal" text-anchor="end" fill="#000">0.3</text>
<text x="852.7" y="682.32" font-family='"Liberation Serif", serif' font-size="13" font-weight="bold" font-style="normal" text-anchor="end" fill="#000">0.4</text>
<text x="852.7" y="641.29" font-family='"Liberation Serif", serif' font-size="13" font-weight="bold" font-style="normal" text-anchor="end" fill="#000">0.5</text>
<text x="852.7" y="600.27" font-family='"Liberation Serif", serif' font-size="13" font-weight="bold" font-style="normal" text-anchor="end" fill="#000">0.6</text>
<text x="852.7" y="559.25" font-family='"Liberation Serif", serif' font-size="13" font-weight="bold" font-style="normal" text-anchor="end" fill="#000">0.7</text>
<text x="852.7" y="518.22" font-family='"Liberation Serif", serif' font-size="13" font-weight="bold" font-style="normal" text-anchor="end" fill="#000">0.8</text>
<text x="886.7" y="861.55" font-family='"Liberation Serif", serif' font-size="12.5" font-weight="bold" font-style="normal" text-anchor="middle" fill="#000">0</text>
<text x="937.2" y="861.55" font-family='"Liberation Serif", serif' font-size="12.5" font-weight="bold" font-style="normal" text-anchor="middle" fill="#000">1</text>
<text x="987.7" y="861.55" font-family='"Liberation Serif", serif' font-size="12.5" font-weight="bold" font-style="normal" text-anchor="middle" fill="#000">11</text>
<text x="1038.2" y="861.55" font-family='"Liberation Serif", serif' font-size="12.5" font-weight="bold" font-style="normal" text-anchor="middle" fill="#000">21</text>
<text x="1088.7" y="861.55" font-family='"Liberation Serif", serif' font-size="12.5" font-weight="bold" font-style="normal" text-anchor="middle" fill="#000">36</text>
<text x="1139.2" y="861.55" font-family='"Liberation Serif", serif' font-size="12.5" font-weight="bold" font-style="normal" text-anchor="middle" fill="#000">56</text>
<text x="1189.7" y="861.55" font-family='"Liberation Serif", serif' font-size="12.5" font-weight="bold" font-style="normal" text-anchor="middle" fill="#000">111</text>
<text x="1240.2" y="861.55" font-family='"Liberation Serif", serif' font-size="12.5" font-weight="bold" font-style="normal" text-anchor="middle" fill="#000">186</text>
<text x="1290.7" y="861.55" font-family='"Liberation Serif", serif' font-size="12.5" font-weight="bold" font-style="normal" text-anchor="middle" fill="#000">336</text>
<text x="1341.2" y="861.55" font-family='"Liberation Serif", serif' font-size="12.5" font-weight="bold" font-style="normal" text-anchor="middle" fill="#000">461</text>
<text x="1391.7" y="861.55" font-family='"Liberation Serif", serif' font-size="12.5" font-weight="bold" font-style="normal" text-anchor="middle" fill="#000">611</text>
<text x="1442.2" y="861.55" font-family='"Liberation Serif", serif' font-size="12.5" font-weight="bold" font-style="normal" text-anchor="middle" fill="#000">1251</text>
<polyline points="886.7,554.41 937.2,556.47 987.7,559.75 1038.2,585.18 1088.7,607.34 1139.2,621.7 1189.7,666.41 1240.2,701.28 1290.7,742.31 1341.2,756.67 1391.7,766.92 1442.2,810" fill="none" stroke="#4f81bd" stroke-width="2.6" stroke-linejoin="round"/>
<polyline points="886.7,556.47 937.2,560.57 987.7,567.95 1038.2,593.8 1088.7,614.31 1139.2,636.46 1189.7,686.93 1240.2,720.57 1290.7,757.9 1341.2,772.67 1391.7,783.33 1442.2,817.8" fill="none" stroke="#c0504d" stroke-width="2.6" stroke-linejoin="round"/>
<polyline points="886.7,628.26 937.2,618.41 987.7,633.59 1038.2,670.52 1088.7,696.36 1139.2,720.16 1189.7,760.77 1240.2,781.69 1290.7,805.08 1341.2,813.69 1391.7,820.26 1442.2,842" fill="none" stroke="#9bbb59" stroke-width="2.6" stroke-linejoin="round"/>
<polyline points="886.7,620.88 937.2,607.75 987.7,618.82 1038.2,659.44 1088.7,688.16 1139.2,714 1189.7,760.77 1240.2,783.33 1290.7,805.9 1341.2,817.38 1391.7,823.13 1442.2,842" fill="none" stroke="#8064a2" stroke-width="2.6" stroke-linejoin="round"/>
<line x1="1038.2" y1="581.08" x2="1038.2" y2="589.29" stroke="#5f5f5f" stroke-width="1.1"/>
<line x1="1035" y1="581.08" x2="1041.4" y2="581.08" stroke="#5f5f5f" stroke-width="1.1"/>
<line x1="1035" y1="589.29" x2="1041.4" y2="589.29" stroke="#5f5f5f" stroke-width="1.1"/>
<line x1="1088.7" y1="601.18" x2="1088.7" y2="613.49" stroke="#5f5f5f" stroke-width="1.1"/>
<line x1="1085.5" y1="601.18" x2="1091.9" y2="601.18" stroke="#5f5f5f" stroke-width="1.1"/>
<line x1="1085.5" y1="613.49" x2="1091.9" y2="613.49" stroke="#5f5f5f" stroke-width="1.1"/>
<line x1="1139.2" y1="617.59" x2="1139.2" y2="625.8" stroke="#5f5f5f" stroke-width="1.1"/>
<line x1="1136" y1="617.59" x2="1142.4" y2="617.59" stroke="#5f5f5f" stroke-width="1.1"/>
<line x1="1136" y1="625.8" x2="1142.4" y2="625.8" stroke="#5f5f5f" stroke-width="1.1"/>
<line x1="1189.7" y1="659.03" x2="1189.7" y2="673.8" stroke="#5f5f5f" stroke-width="1.1"/>
<line x1="1186.5" y1="659.03" x2="1192.9" y2="659.03" stroke="#5f5f5f" stroke-width="1.1"/>
<line x1="1186.5" y1="673.8" x2="1192.9" y2="673.8" stroke="#5f5f5f" stroke-width="1.1"/>
<line x1="1240.2" y1="692.26" x2="1240.2" y2="710.31" stroke="#5f5f5f" stroke-width="1.1"/>
<line x1="1237" y1="692.26" x2="1243.4" y2="692.26" stroke="#5f5f5f" stroke-width="1.1"/>
<line x1="1237" y1="710.31" x2="1243.4" y2="710.31" stroke="#5f5f5f" stroke-width="1.1"/>
<line x1="1290.7" y1="734.92" x2="1290.7" y2="749.69" stroke="#5f5f5f" stroke-width="1.1"/>
<line x1="1287.5" y1="734.92" x2="1293.9" y2="734.92" stroke="#5f5f5f" stroke-width="1.1"/>
<line x1="1287.5" y1="749.69" x2="1293.9" y2="749.69" stroke="#5f5f5f" stroke-width="1.1"/>
<line x1="1341.2" y1="750.51" x2="1341.2" y2="762.82" stroke="#5f5f5f" stroke-width="1.1"/>
<line x1="1338" y1="750.51" x2="1344.4" y2="750.51" stroke="#5f5f5f" stroke-width="1.1"/>
<line x1="1338" y1="762.82" x2="1344.4" y2="762.82" stroke="#5f5f5f" stroke-width="1.1"/>
<line x1="1391.7" y1="760.77" x2="1391.7" y2="773.08" stroke="#5f5f5f" stroke-width="1.1"/>
<line x1="1388.5" y1="760.77" x2="1394.9" y2="760.77" stroke="#5f5f5f" stroke-width="1.1"/>
<line x1="1388.5" y1="773.08" x2="1394.9" y2="773.08" stroke="#5f5f5f" stroke-width="1.1"/>
<line x1="1442.2" y1="807.54" x2="1442.2" y2="812.46" stroke="#5f5f5f" stroke-width="1.1"/>
<line x1="1439" y1="807.54" x2="1445.4" y2="807.54" stroke="#5f5f5f" stroke-width="1.1"/>
<line x1="1439" y1="812.46" x2="1445.4" y2="812.46" stroke="#5f5f5f" stroke-width="1.1"/>
<line x1="1038.2" y1="589.7" x2="1038.2" y2="597.9" stroke="#5f5f5f" stroke-width="1.1"/>
<line x1="1035" y1="589.7" x2="1041.4" y2="589.7" stroke="#5f5f5f" stroke-width="1.1"/>
<line x1="1035" y1="597.9" x2="1041.4" y2="597.9" stroke="#5f5f5f" stroke-width="1.1"/>
<line x1="1088.7" y1="609.39" x2="1088.7" y2="619.23" stroke="#5f5f5f" stroke-width="1.1"/>
<line x1="1085.5" y1="609.39" x2="1091.9" y2="609.39" stroke="#5f5f5f" stroke-width="1.1"/>
<line x1="1085.5" y1="619.23" x2="1091.9" y2="619.23" stroke="#5f5f5f" stroke-width="1.1"/>
<line x1="1139.2" y1="632.36" x2="1139.2" y2="640.57" stroke="#5f5f5f" stroke-width="1.1"/>
<line x1="1136" y1="632.36" x2="1142.4" y2="632.36" stroke="#5f5f5f" stroke-width="1.1"/>
<line x1="1136" y1="640.57" x2="1142.4" y2="640.57" stroke="#5f5f5f" stroke-width="1.1"/>
<line x1="1189.7" y1="680.77" x2="1189.7" y2="693.08" stroke="#5f5f5f" stroke-width="1.1"/>
<line x1="1186.5" y1="680.77" x2="1192.9" y2="680.77" stroke="#5f5f5f" stroke-width="1.1"/>
<line x1="1186.5" y1="693.08" x2="1192.9" y2="693.08" stroke="#5f5f5f" stroke-width="1.1"/>
<line x1="1240.2" y1="716.46" x2="1240.2" y2="724.67" stroke="#5f5f5f" stroke-width="1.1"/>
<line x1="1237" y1="716.46" x2="1243.4" y2="716.46" stroke="#5f5f5f" stroke-width="1.1"/>
<line x1="1237" y1="724.67" x2="1243.4" y2="724.67" stroke="#5f5f5f" stroke-width="1.1"/>
<line x1="1290.7" y1="754.62" x2="1290.7" y2="761.18" stroke="#5f5f5f" stroke-width="1.1"/>
<line x1="1287.5" y1="754.62" x2="1293.9" y2="754.62" stroke="#5f5f5f" stroke-width="1.1"/>
<line x1="1287.5" y1="761.18" x2="1293.9" y2="761.18" stroke="#5f5f5f" stroke-width="1.1"/>
<line x1="886.7" y1="623.34" x2="886.7" y2="633.18" stroke="#5f5f5f" stroke-width="1.1"/>
<line x1="883.5" y1="623.34" x2="889.9" y2="623.34" stroke="#5f5f5f" stroke-width="1.1"/>
<line x1="883.5" y1="633.18" x2="889.9" y2="633.18" stroke="#5f5f5f" stroke-width="1.1"/>
<line x1="1189.7" y1="755.85" x2="1189.7" y2="765.69" stroke="#5f5f5f" stroke-width="1.1"/>
<line x1="1186.5" y1="755.85" x2="1192.9" y2="755.85" stroke="#5f5f5f" stroke-width="1.1"/>
<line x1="1186.5" y1="765.69" x2="1192.9" y2="765.69" stroke="#5f5f5f" stroke-width="1.1"/>
<line x1="1240.2" y1="773.49" x2="1240.2" y2="789.9" stroke="#5f5f5f" stroke-width="1.1"/>
<line x1="1237" y1="773.49" x2="1243.4" y2="773.49" stroke="#5f5f5f" stroke-width="1.1"/>
<line x1="1237" y1="789.9" x2="1243.4" y2="789.9" stroke="#5f5f5f" stroke-width="1.1"/>
<line x1="1290.7" y1="800.15" x2="1290.7" y2="810" stroke="#5f5f5f" stroke-width="1.1"/>
<line x1="1287.5" y1="800.15" x2="1293.9" y2="800.15" stroke="#5f5f5f" stroke-width="1.1"/>
<line x1="1287.5" y1="810" x2="1293.9" y2="810" stroke="#5f5f5f" stroke-width="1.1"/>
<line x1="1341.2" y1="810.41" x2="1341.2" y2="816.97" stroke="#5f5f5f" stroke-width="1.1"/>
<line x1="1338" y1="810.41" x2="1344.4" y2="810.41" stroke="#5f5f5f" stroke-width="1.1"/>
<line x1="1338" y1="816.97" x2="1344.4" y2="816.97" stroke="#5f5f5f" stroke-width="1.1"/>
<line x1="1391.7" y1="817.8" x2="1391.7" y2="822.72" stroke="#5f5f5f" stroke-width="1.1"/>
<line x1="1388.5" y1="817.8" x2="1394.9" y2="817.8" stroke="#5f5f5f" stroke-width="1.1"/>
<line x1="1388.5" y1="822.72" x2="1394.9" y2="822.72" stroke="#5f5f5f" stroke-width="1.1"/>
<line x1="886.7" y1="615.95" x2="886.7" y2="625.8" stroke="#5f5f5f" stroke-width="1.1"/>
<line x1="883.5" y1="615.95" x2="889.9" y2="615.95" stroke="#5f5f5f" stroke-width="1.1"/>
<line x1="883.5" y1="625.8" x2="889.9" y2="625.8" stroke="#5f5f5f" stroke-width="1.1"/>
<line x1="1038.2" y1="653.28" x2="1038.2" y2="665.59" stroke="#5f5f5f" stroke-width="1.1"/>
<line x1="1035" y1="653.28" x2="1041.4" y2="653.28" stroke="#5f5f5f" stroke-width="1.1"/>
<line x1="1035" y1="665.59" x2="1041.4" y2="665.59" stroke="#5f5f5f" stroke-width="1.1"/>
<line x1="1088.7" y1="682" x2="1088.7" y2="694.31" stroke="#5f5f5f" stroke-width="1.1"/>
<line x1="1085.5" y1="682" x2="1091.9" y2="682" stroke="#5f5f5f" stroke-width="1.1"/>
<line x1="1085.5" y1="694.31" x2="1091.9" y2="694.31" stroke="#5f5f5f" stroke-width="1.1"/>
<line x1="1139.2" y1="709.08" x2="1139.2" y2="718.92" stroke="#5f5f5f" stroke-width="1.1"/>
<line x1="1136" y1="709.08" x2="1142.4" y2="709.08" stroke="#5f5f5f" stroke-width="1.1"/>
<line x1="1136" y1="718.92" x2="1142.4" y2="718.92" stroke="#5f5f5f" stroke-width="1.1"/>
<line x1="1189.7" y1="754.62" x2="1189.7" y2="766.92" stroke="#5f5f5f" stroke-width="1.1"/>
<line x1="1186.5" y1="754.62" x2="1192.9" y2="754.62" stroke="#5f5f5f" stroke-width="1.1"/>
<line x1="1186.5" y1="766.92" x2="1192.9" y2="766.92" stroke="#5f5f5f" stroke-width="1.1"/>
<line x1="1240.2" y1="773.08" x2="1240.2" y2="793.59" stroke="#5f5f5f" stroke-width="1.1"/>
<line x1="1237" y1="773.08" x2="1243.4" y2="773.08" stroke="#5f5f5f" stroke-width="1.1"/>
<line x1="1237" y1="793.59" x2="1243.4" y2="793.59" stroke="#5f5f5f" stroke-width="1.1"/>
<line x1="1290.7" y1="799.74" x2="1290.7" y2="812.05" stroke="#5f5f5f" stroke-width="1.1"/>
<line x1="1287.5" y1="799.74" x2="1293.9" y2="799.74" stroke="#5f5f5f" stroke-width="1.1"/>
<line x1="1287.5" y1="812.05" x2="1293.9" y2="812.05" stroke="#5f5f5f" stroke-width="1.1"/>
<line x1="1341.2" y1="814.1" x2="1341.2" y2="820.67" stroke="#5f5f5f" stroke-width="1.1"/>
<line x1="1338" y1="814.1" x2="1344.4" y2="814.1" stroke="#5f5f5f" stroke-width="1.1"/>
<line x1="1338" y1="820.67" x2="1344.4" y2="820.67" stroke="#5f5f5f" stroke-width="1.1"/>
<line x1="1391.7" y1="819.85" x2="1391.7" y2="826.41" stroke="#5f5f5f" stroke-width="1.1"/>
<line x1="1388.5" y1="819.85" x2="1394.9" y2="819.85" stroke="#5f5f5f" stroke-width="1.1"/>
<line x1="1388.5" y1="826.41" x2="1394.9" y2="826.41" stroke="#5f5f5f" stroke-width="1.1"/>
<circle cx="886.7" cy="554.41" r="3.6" fill="#4f81bd"/>
<circle cx="937.2" cy="556.47" r="3.6" fill="#4f81bd"/>
<circle cx="987.7" cy="559.75" r="3.6" fill="#4f81bd"/>
<circle cx="1038.2" cy="585.18" r="3.6" fill="#4f81bd"/>
<circle cx="1088.7" cy="607.34" r="3.6" fill="#4f81bd"/>
<circle cx="1139.2" cy="621.7" r="3.6" fill="#4f81bd"/>
<circle cx="1189.7" cy="666.41" r="3.6" fill="#4f81bd"/>
<circle cx="1240.2" cy="701.28" r="3.6" fill="#4f81bd"/>
<circle cx="1290.7" cy="742.31" r="3.6" fill="#4f81bd"/>
<circle cx="1341.2" cy="756.67" r="3.6" fill="#4f81bd"/>
<circle cx="1391.7" cy="766.92" r="3.6" fill="#4f81bd"/>
<circle cx="1442.2" cy="810" r="3.6" fill="#4f81bd"/>
<circle cx="886.7" cy="556.47" r="3.6" fill="#c0504d"/>
<circle cx="937.2" cy="560.57" r="3.6" fill="#c0504d"/>
<circle cx="987.7" cy="567.95" r="3.6" fill="#c0504d"/>
<circle cx="1038.2" cy="593.8" r="3.6" fill="#c0504d"/>
<circle cx="1088.7" cy="614.31" r="3.6" fill="#c0504d"/>
<circle cx="1139.2" cy="636.46" r="3.6" fill="#c0504d"/>
<circle cx="1189.7" cy="686.93" r="3.6" fill="#c0504d"/>
<circle cx="1240.2" cy="720.57" r="3.6" fill="#c0504d"/>
<circle cx="1290.7" cy="757.9" r="3.6" fill="#c0504d"/>
<circle cx="1341.2" cy="772.67" r="3.6" fill="#c0504d"/>
<circle cx="1391.7" cy="783.33" r="3.6" fill="#c0504d"/>
<circle cx="1442.2" cy="817.8" r="3.6" fill="#c0504d"/>
<circle cx="886.7" cy="628.26" r="3.6" fill="#9bbb59"/>
<circle cx="937.2" cy="618.41" r="3.6" fill="#9bbb59"/>
<circle cx="987.7" cy="633.59" r="3.6" fill="#9bbb59"/>
<circle cx="1038.2" cy="670.52" r="3.6" fill="#9bbb59"/>
<circle cx="1088.7" cy="696.36" r="3.6" fill="#9bbb59"/>
<circle cx="1139.2" cy="720.16" r="3.6" fill="#9bbb59"/>
<circle cx="1189.7" cy="760.77" r="3.6" fill="#9bbb59"/>
<circle cx="1240.2" cy="781.69" r="3.6" fill="#9bbb59"/>
<circle cx="1290.7" cy="805.08" r="3.6" fill="#9bbb59"/>
<circle cx="1341.2" cy="813.69" r="3.6" fill="#9bbb59"/>
<circle cx="1391.7" cy="820.26" r="3.6" fill="#9bbb59"/>
<circle cx="1442.2" cy="842" r="3.6" fill="#9bbb59"/>
<circle cx="886.7" cy="620.88" r="3.6" fill="#8064a2"/>
<circle cx="937.2" cy="607.75" r="3.6" fill="#8064a2"/>
<circle cx="987.7" cy="618.82" r="3.6" fill="#8064a2"/>
<circle cx="1038.2" cy="659.44" r="3.6" fill="#8064a2"/>
<circle cx="1088.7" cy="688.16" r="3.6" fill="#8064a2"/>
<circle cx="1139.2" cy="714" r="3.6" fill="#8064a2"/>
<circle cx="1189.7" cy="760.77" r="3.6" fill="#8064a2"/>
<circle cx="1240.2" cy="783.33" r="3.6" fill="#8064a2"/>
<circle cx="1290.7" cy="805.9" r="3.6" fill="#8064a2"/>
<circle cx="1341.2" cy="817.38" r="3.6" fill="#8064a2"/>
<circle cx="1391.7" cy="823.13" r="3.6" fill="#8064a2"/>
<circle cx="1442.2" cy="842" r="3.6" fill="#8064a2"/>
<line x1="903.9" y1="902" x2="930.8" y2="902" stroke="#4f81bd" stroke-width="2.6"/>
<circle cx="917.4" cy="902" r="3.6" fill="#4f81bd"/>
<line x1="1013.5" y1="902" x2="1039.6" y2="902" stroke="#c0504d" stroke-width="2.6"/>
<circle cx="1026.5" cy="902" r="3.6" fill="#c0504d"/>
<line x1="1126.5" y1="902" x2="1153" y2="902" stroke="#9bbb59" stroke-width="2.6"/>
<circle cx="1139.8" cy="902" r="3.6" fill="#9bbb59"/>
<line x1="1250" y1="902" x2="1275.8" y2="902" stroke="#8064a2" stroke-width="2.6"/>
<circle cx="1263" cy="902" r="3.6" fill="#8064a2"/>
<text x="934.6" y="906.29" font-family='"Liberation Serif", serif' font-size="13" font-weight="bold" font-style="normal" text-anchor="start" fill="#000" textLength="75.6" lengthAdjust="spacingAndGlyphs">Col-0&#160; Young</text>
<text x="1040.9" y="906.29" font-family='"Liberation Serif", serif' font-size="13" font-weight="bold" font-style="normal" text-anchor="start" fill="#000" textLength="80.3" lengthAdjust="spacingAndGlyphs"><tspan font-style="italic">atg5-1</tspan>&#160; Young</text>
<text x="1156.6" y="906.29" font-family='"Liberation Serif", serif' font-size="13" font-weight="bold" font-style="normal" text-anchor="start" fill="#000" textLength="90" lengthAdjust="spacingAndGlyphs">Col-0-C&#160; Young</text>
<text x="1280.6" y="906.29" font-family='"Liberation Serif", serif' font-size="13" font-weight="bold" font-style="normal" text-anchor="start" fill="#000" textLength="92.1" lengthAdjust="spacingAndGlyphs"><tspan font-style="italic">atg5-1</tspan>-C Young</text>
<text x="1165.2" y="881" font-family='"Liberation Serif", serif' font-size="13" font-weight="bold" font-style="normal" text-anchor="middle" fill="#000" textLength="112.8" lengthAdjust="spacingAndGlyphs">PPF (μmol·m-2·s-1)</text>
<text x="0" y="0" font-family='"Liberation Serif", serif' font-size="13" font-weight="bold" font-style="normal" text-anchor="middle" fill="#000" textLength="32" lengthAdjust="spacingAndGlyphs" transform="translate(811.5,677.7) rotate(-90)">ΦPSII</text>
<rect x="45.6" y="954.3" width="678.8" height="401.1" fill="#fff" stroke="#d9d9d9" stroke-width="1.3"/>
<text x="3" y="955" font-family='"Liberation Sans", sans-serif' font-size="35" font-weight="normal" font-style="normal" text-anchor="start" fill="#000">E</text>
<line x1="91.4" y1="960.5" x2="91.4" y2="1243" stroke="#1e1e1e" stroke-width="1.5"/>
<line x1="90.7" y1="1242.3" x2="714.7" y2="1242.3" stroke="#1e1e1e" stroke-width="1.6"/>
<text x="83.7" y="1247.4" font-family='"Liberation Serif", serif' font-size="15" font-weight="bold" font-style="normal" text-anchor="end" fill="#000" textLength="5.5" lengthAdjust="spacingAndGlyphs">0</text>
<text x="83.7" y="1213.2" font-family='"Liberation Serif", serif' font-size="15" font-weight="bold" font-style="normal" text-anchor="end" fill="#000" textLength="15" lengthAdjust="spacingAndGlyphs">0.1</text>
<text x="83.7" y="1179" font-family='"Liberation Serif", serif' font-size="15" font-weight="bold" font-style="normal" text-anchor="end" fill="#000" textLength="15" lengthAdjust="spacingAndGlyphs">0.2</text>
<text x="83.7" y="1144.8" font-family='"Liberation Serif", serif' font-size="15" font-weight="bold" font-style="normal" text-anchor="end" fill="#000" textLength="15" lengthAdjust="spacingAndGlyphs">0.3</text>
<text x="83.7" y="1110.6" font-family='"Liberation Serif", serif' font-size="15" font-weight="bold" font-style="normal" text-anchor="end" fill="#000" textLength="15" lengthAdjust="spacingAndGlyphs">0.4</text>
<text x="83.7" y="1076.4" font-family='"Liberation Serif", serif' font-size="15" font-weight="bold" font-style="normal" text-anchor="end" fill="#000" textLength="15" lengthAdjust="spacingAndGlyphs">0.5</text>
<text x="83.7" y="1042.2" font-family='"Liberation Serif", serif' font-size="15" font-weight="bold" font-style="normal" text-anchor="end" fill="#000" textLength="15" lengthAdjust="spacingAndGlyphs">0.6</text>
<text x="83.7" y="1008" font-family='"Liberation Serif", serif' font-size="15" font-weight="bold" font-style="normal" text-anchor="end" fill="#000" textLength="15" lengthAdjust="spacingAndGlyphs">0.7</text>
<text x="83.7" y="973.8" font-family='"Liberation Serif", serif' font-size="15" font-weight="bold" font-style="normal" text-anchor="end" fill="#000" textLength="15" lengthAdjust="spacingAndGlyphs">0.8</text>
<text x="117.3" y="1267.3" font-family='"Liberation Serif", serif' font-size="15" font-weight="bold" font-style="normal" text-anchor="middle" fill="#000" textLength="6.1" lengthAdjust="spacingAndGlyphs">0</text>
<text x="169.25" y="1267.3" font-family='"Liberation Serif", serif' font-size="15" font-weight="bold" font-style="normal" text-anchor="middle" fill="#000" textLength="6.1" lengthAdjust="spacingAndGlyphs">1</text>
<text x="221.2" y="1267.3" font-family='"Liberation Serif", serif' font-size="15" font-weight="bold" font-style="normal" text-anchor="middle" fill="#000" textLength="12.2" lengthAdjust="spacingAndGlyphs">11</text>
<text x="273.15" y="1267.3" font-family='"Liberation Serif", serif' font-size="15" font-weight="bold" font-style="normal" text-anchor="middle" fill="#000" textLength="12.2" lengthAdjust="spacingAndGlyphs">21</text>
<text x="325.1" y="1267.3" font-family='"Liberation Serif", serif' font-size="15" font-weight="bold" font-style="normal" text-anchor="middle" fill="#000" textLength="12.2" lengthAdjust="spacingAndGlyphs">36</text>
<text x="377.05" y="1267.3" font-family='"Liberation Serif", serif' font-size="15" font-weight="bold" font-style="normal" text-anchor="middle" fill="#000" textLength="12.2" lengthAdjust="spacingAndGlyphs">56</text>
<text x="429" y="1267.3" font-family='"Liberation Serif", serif' font-size="15" font-weight="bold" font-style="normal" text-anchor="middle" fill="#000" textLength="18.3" lengthAdjust="spacingAndGlyphs">111</text>
<text x="480.95" y="1267.3" font-family='"Liberation Serif", serif' font-size="15" font-weight="bold" font-style="normal" text-anchor="middle" fill="#000" textLength="18.3" lengthAdjust="spacingAndGlyphs">186</text>
<text x="532.9" y="1267.3" font-family='"Liberation Serif", serif' font-size="15" font-weight="bold" font-style="normal" text-anchor="middle" fill="#000" textLength="18.3" lengthAdjust="spacingAndGlyphs">336</text>
<text x="584.85" y="1267.3" font-family='"Liberation Serif", serif' font-size="15" font-weight="bold" font-style="normal" text-anchor="middle" fill="#000" textLength="18.3" lengthAdjust="spacingAndGlyphs">461</text>
<text x="636.8" y="1267.3" font-family='"Liberation Serif", serif' font-size="15" font-weight="bold" font-style="normal" text-anchor="middle" fill="#000" textLength="18.3" lengthAdjust="spacingAndGlyphs">611</text>
<text x="688.75" y="1267.3" font-family='"Liberation Serif", serif' font-size="15" font-weight="bold" font-style="normal" text-anchor="middle" fill="#000" textLength="24.4" lengthAdjust="spacingAndGlyphs">1251</text>
<polyline points="117.3,1005.64 169.25,1008.37 221.2,1012.48 273.15,1029.58 325.1,1045.65 377.05,1066.17 429,1110.97 480.95,1140.38 532.9,1170.48 584.85,1182.79 636.8,1191.34 688.75,1220.41" fill="none" stroke="#4f81bd" stroke-width="2.6" stroke-linejoin="round"/>
<polyline points="117.3,1003.24 169.25,1007.69 221.2,1012.48 273.15,1031.97 325.1,1051.46 377.05,1071.98 429,1116.1 480.95,1144.49 532.9,1172.87 584.85,1184.5 636.8,1193.39 688.75,1220.41" fill="none" stroke="#c0504d" stroke-width="2.6" stroke-linejoin="round"/>
<polyline points="117.3,1091.82 169.25,1091.82 221.2,1106.87 273.15,1132.52 325.1,1149.28 377.05,1164.32 429,1189.63 480.95,1203.65 532.9,1218.36 584.85,1224.86 636.8,1231.36 688.75,1242.3" fill="none" stroke="#9bbb59" stroke-width="2.6" stroke-linejoin="round"/>
<polyline points="117.3,1198.52 169.25,1197.84 221.2,1206.05 273.15,1219.39 325.1,1236.83 377.05,1242.3 429,1242.3 480.95,1242.3 532.9,1242.3 584.85,1242.3 636.8,1242.3 688.75,1242.3" fill="none" stroke="#8064a2" stroke-width="2.6" stroke-linejoin="round"/>
<line x1="377.05" y1="1062.75" x2="377.05" y2="1069.59" stroke="#5f5f5f" stroke-width="1.1"/>
<line x1="373.85" y1="1062.75" x2="380.25" y2="1062.75" stroke="#5f5f5f" stroke-width="1.1"/>
<line x1="373.85" y1="1069.59" x2="380.25" y2="1069.59" stroke="#5f5f5f" stroke-width="1.1"/>
<line x1="429" y1="1102.42" x2="429" y2="1119.52" stroke="#5f5f5f" stroke-width="1.1"/>
<line x1="425.8" y1="1102.42" x2="432.2" y2="1102.42" stroke="#5f5f5f" stroke-width="1.1"/>
<line x1="425.8" y1="1119.52" x2="432.2" y2="1119.52" stroke="#5f5f5f" stroke-width="1.1"/>
<line x1="480.95" y1="1130.12" x2="480.95" y2="1150.64" stroke="#5f5f5f" stroke-width="1.1"/>
<line x1="477.75" y1="1130.12" x2="484.15" y2="1130.12" stroke="#5f5f5f" stroke-width="1.1"/>
<line x1="477.75" y1="1150.64" x2="484.15" y2="1150.64" stroke="#5f5f5f" stroke-width="1.1"/>
<line x1="532.9" y1="1163.64" x2="532.9" y2="1177.32" stroke="#5f5f5f" stroke-width="1.1"/>
<line x1="529.7" y1="1163.64" x2="536.1" y2="1163.64" stroke="#5f5f5f" stroke-width="1.1"/>
<line x1="529.7" y1="1177.32" x2="536.1" y2="1177.32" stroke="#5f5f5f" stroke-width="1.1"/>
<line x1="584.85" y1="1177.66" x2="584.85" y2="1187.92" stroke="#5f5f5f" stroke-width="1.1"/>
<line x1="581.65" y1="1177.66" x2="588.05" y2="1177.66" stroke="#5f5f5f" stroke-width="1.1"/>
<line x1="581.65" y1="1187.92" x2="588.05" y2="1187.92" stroke="#5f5f5f" stroke-width="1.1"/>
<line x1="636.8" y1="1186.21" x2="636.8" y2="1196.47" stroke="#5f5f5f" stroke-width="1.1"/>
<line x1="633.6" y1="1186.21" x2="640" y2="1186.21" stroke="#5f5f5f" stroke-width="1.1"/>
<line x1="633.6" y1="1196.47" x2="640" y2="1196.47" stroke="#5f5f5f" stroke-width="1.1"/>
<line x1="688.75" y1="1216.99" x2="688.75" y2="1223.83" stroke="#5f5f5f" stroke-width="1.1"/>
<line x1="685.55" y1="1216.99" x2="691.95" y2="1216.99" stroke="#5f5f5f" stroke-width="1.1"/>
<line x1="685.55" y1="1223.83" x2="691.95" y2="1223.83" stroke="#5f5f5f" stroke-width="1.1"/>
<line x1="377.05" y1="1068.56" x2="377.05" y2="1075.4" stroke="#5f5f5f" stroke-width="1.1"/>
<line x1="373.85" y1="1068.56" x2="380.25" y2="1068.56" stroke="#5f5f5f" stroke-width="1.1"/>
<line x1="373.85" y1="1075.4" x2="380.25" y2="1075.4" stroke="#5f5f5f" stroke-width="1.1"/>
<line x1="429" y1="1109.26" x2="429" y2="1122.94" stroke="#5f5f5f" stroke-width="1.1"/>
<line x1="425.8" y1="1109.26" x2="432.2" y2="1109.26" stroke="#5f5f5f" stroke-width="1.1"/>
<line x1="425.8" y1="1122.94" x2="432.2" y2="1122.94" stroke="#5f5f5f" stroke-width="1.1"/>
<line x1="480.95" y1="1135.94" x2="480.95" y2="1153.04" stroke="#5f5f5f" stroke-width="1.1"/>
<line x1="477.75" y1="1135.94" x2="484.15" y2="1135.94" stroke="#5f5f5f" stroke-width="1.1"/>
<line x1="477.75" y1="1153.04" x2="484.15" y2="1153.04" stroke="#5f5f5f" stroke-width="1.1"/>
<line x1="532.9" y1="1167.74" x2="532.9" y2="1178" stroke="#5f5f5f" stroke-width="1.1"/>
<line x1="529.7" y1="1167.74" x2="536.1" y2="1167.74" stroke="#5f5f5f" stroke-width="1.1"/>
<line x1="529.7" y1="1178" x2="536.1" y2="1178" stroke="#5f5f5f" stroke-width="1.1"/>
<line x1="584.85" y1="1180.4" x2="584.85" y2="1188.61" stroke="#5f5f5f" stroke-width="1.1"/>
<line x1="581.65" y1="1180.4" x2="588.05" y2="1180.4" stroke="#5f5f5f" stroke-width="1.1"/>
<line x1="581.65" y1="1188.61" x2="588.05" y2="1188.61" stroke="#5f5f5f" stroke-width="1.1"/>
<line x1="636.8" y1="1189.29" x2="636.8" y2="1197.5" stroke="#5f5f5f" stroke-width="1.1"/>
<line x1="633.6" y1="1189.29" x2="640" y2="1189.29" stroke="#5f5f5f" stroke-width="1.1"/>
<line x1="633.6" y1="1197.5" x2="640" y2="1197.5" stroke="#5f5f5f" stroke-width="1.1"/>
<line x1="117.3" y1="1090.11" x2="117.3" y2="1093.53" stroke="#5f5f5f" stroke-width="1.1"/>
<line x1="114.1" y1="1090.11" x2="120.5" y2="1090.11" stroke="#5f5f5f" stroke-width="1.1"/>
<line x1="114.1" y1="1093.53" x2="120.5" y2="1093.53" stroke="#5f5f5f" stroke-width="1.1"/>
<line x1="169.25" y1="1090.11" x2="169.25" y2="1093.53" stroke="#5f5f5f" stroke-width="1.1"/>
<line x1="166.05" y1="1090.11" x2="172.45" y2="1090.11" stroke="#5f5f5f" stroke-width="1.1"/>
<line x1="166.05" y1="1093.53" x2="172.45" y2="1093.53" stroke="#5f5f5f" stroke-width="1.1"/>
<line x1="221.2" y1="1101.74" x2="221.2" y2="1112" stroke="#5f5f5f" stroke-width="1.1"/>
<line x1="218" y1="1101.74" x2="224.4" y2="1101.74" stroke="#5f5f5f" stroke-width="1.1"/>
<line x1="218" y1="1112" x2="224.4" y2="1112" stroke="#5f5f5f" stroke-width="1.1"/>
<line x1="273.15" y1="1120.55" x2="273.15" y2="1144.49" stroke="#5f5f5f" stroke-width="1.1"/>
<line x1="269.95" y1="1120.55" x2="276.35" y2="1120.55" stroke="#5f5f5f" stroke-width="1.1"/>
<line x1="269.95" y1="1144.49" x2="276.35" y2="1144.49" stroke="#5f5f5f" stroke-width="1.1"/>
<line x1="325.1" y1="1135.6" x2="325.1" y2="1162.96" stroke="#5f5f5f" stroke-width="1.1"/>
<line x1="321.9" y1="1135.6" x2="328.3" y2="1135.6" stroke="#5f5f5f" stroke-width="1.1"/>
<line x1="321.9" y1="1162.96" x2="328.3" y2="1162.96" stroke="#5f5f5f" stroke-width="1.1"/>
<line x1="377.05" y1="1150.64" x2="377.05" y2="1178" stroke="#5f5f5f" stroke-width="1.1"/>
<line x1="373.85" y1="1150.64" x2="380.25" y2="1150.64" stroke="#5f5f5f" stroke-width="1.1"/>
<line x1="373.85" y1="1178" x2="380.25" y2="1178" stroke="#5f5f5f" stroke-width="1.1"/>
<line x1="429" y1="1174.24" x2="429" y2="1205.02" stroke="#5f5f5f" stroke-width="1.1"/>
<line x1="425.8" y1="1174.24" x2="432.2" y2="1174.24" stroke="#5f5f5f" stroke-width="1.1"/>
<line x1="425.8" y1="1205.02" x2="432.2" y2="1205.02" stroke="#5f5f5f" stroke-width="1.1"/>
<line x1="480.95" y1="1189.97" x2="480.95" y2="1217.33" stroke="#5f5f5f" stroke-width="1.1"/>
<line x1="477.75" y1="1189.97" x2="484.15" y2="1189.97" stroke="#5f5f5f" stroke-width="1.1"/>
<line x1="477.75" y1="1217.33" x2="484.15" y2="1217.33" stroke="#5f5f5f" stroke-width="1.1"/>
<line x1="532.9" y1="1209.81" x2="532.9" y2="1226.91" stroke="#5f5f5f" stroke-width="1.1"/>
<line x1="529.7" y1="1209.81" x2="536.1" y2="1209.81" stroke="#5f5f5f" stroke-width="1.1"/>
<line x1="529.7" y1="1226.91" x2="536.1" y2="1226.91" stroke="#5f5f5f" stroke-width="1.1"/>
<line x1="584.85" y1="1218.02" x2="584.85" y2="1231.7" stroke="#5f5f5f" stroke-width="1.1"/>
<line x1="581.65" y1="1218.02" x2="588.05" y2="1218.02" stroke="#5f5f5f" stroke-width="1.1"/>
<line x1="581.65" y1="1231.7" x2="588.05" y2="1231.7" stroke="#5f5f5f" stroke-width="1.1"/>
<line x1="636.8" y1="1224.52" x2="636.8" y2="1238.2" stroke="#5f5f5f" stroke-width="1.1"/>
<line x1="633.6" y1="1224.52" x2="640" y2="1224.52" stroke="#5f5f5f" stroke-width="1.1"/>
<line x1="633.6" y1="1238.2" x2="640" y2="1238.2" stroke="#5f5f5f" stroke-width="1.1"/>
<line x1="117.3" y1="1186.55" x2="117.3" y2="1210.49" stroke="#5f5f5f" stroke-width="1.1"/>
<line x1="114.1" y1="1186.55" x2="120.5" y2="1186.55" stroke="#5f5f5f" stroke-width="1.1"/>
<line x1="114.1" y1="1210.49" x2="120.5" y2="1210.49" stroke="#5f5f5f" stroke-width="1.1"/>
<line x1="169.25" y1="1187.58" x2="169.25" y2="1208.1" stroke="#5f5f5f" stroke-width="1.1"/>
<line x1="166.05" y1="1187.58" x2="172.45" y2="1187.58" stroke="#5f5f5f" stroke-width="1.1"/>
<line x1="166.05" y1="1208.1" x2="172.45" y2="1208.1" stroke="#5f5f5f" stroke-width="1.1"/>
<line x1="221.2" y1="1199.21" x2="221.2" y2="1212.89" stroke="#5f5f5f" stroke-width="1.1"/>
<line x1="218" y1="1199.21" x2="224.4" y2="1199.21" stroke="#5f5f5f" stroke-width="1.1"/>
<line x1="218" y1="1212.89" x2="224.4" y2="1212.89" stroke="#5f5f5f" stroke-width="1.1"/>
<line x1="325.1" y1="1228.28" x2="325.1" y2="1245.38" stroke="#5f5f5f" stroke-width="1.1"/>
<line x1="321.9" y1="1228.28" x2="328.3" y2="1228.28" stroke="#5f5f5f" stroke-width="1.1"/>
<line x1="321.9" y1="1245.38" x2="328.3" y2="1245.38" stroke="#5f5f5f" stroke-width="1.1"/>
<circle cx="117.3" cy="1005.64" r="4.2" fill="#4f81bd"/>
<circle cx="169.25" cy="1008.37" r="4.2" fill="#4f81bd"/>
<circle cx="221.2" cy="1012.48" r="4.2" fill="#4f81bd"/>
<circle cx="273.15" cy="1029.58" r="4.2" fill="#4f81bd"/>
<circle cx="325.1" cy="1045.65" r="4.2" fill="#4f81bd"/>
<circle cx="377.05" cy="1066.17" r="4.2" fill="#4f81bd"/>
<circle cx="429" cy="1110.97" r="4.2" fill="#4f81bd"/>
<circle cx="480.95" cy="1140.38" r="4.2" fill="#4f81bd"/>
<circle cx="532.9" cy="1170.48" r="4.2" fill="#4f81bd"/>
<circle cx="584.85" cy="1182.79" r="4.2" fill="#4f81bd"/>
<circle cx="636.8" cy="1191.34" r="4.2" fill="#4f81bd"/>
<circle cx="688.75" cy="1220.41" r="4.2" fill="#4f81bd"/>
<circle cx="117.3" cy="1003.24" r="4.2" fill="#c0504d"/>
<circle cx="169.25" cy="1007.69" r="4.2" fill="#c0504d"/>
<circle cx="221.2" cy="1012.48" r="4.2" fill="#c0504d"/>
<circle cx="273.15" cy="1031.97" r="4.2" fill="#c0504d"/>
<circle cx="325.1" cy="1051.46" r="4.2" fill="#c0504d"/>
<circle cx="377.05" cy="1071.98" r="4.2" fill="#c0504d"/>
<circle cx="429" cy="1116.1" r="4.2" fill="#c0504d"/>
<circle cx="480.95" cy="1144.49" r="4.2" fill="#c0504d"/>
<circle cx="532.9" cy="1172.87" r="4.2" fill="#c0504d"/>
<circle cx="584.85" cy="1184.5" r="4.2" fill="#c0504d"/>
<circle cx="636.8" cy="1193.39" r="4.2" fill="#c0504d"/>
<circle cx="688.75" cy="1220.41" r="4.2" fill="#c0504d"/>
<circle cx="117.3" cy="1091.82" r="4.2" fill="#9bbb59"/>
<circle cx="169.25" cy="1091.82" r="4.2" fill="#9bbb59"/>
<circle cx="221.2" cy="1106.87" r="4.2" fill="#9bbb59"/>
<circle cx="273.15" cy="1132.52" r="4.2" fill="#9bbb59"/>
<circle cx="325.1" cy="1149.28" r="4.2" fill="#9bbb59"/>
<circle cx="377.05" cy="1164.32" r="4.2" fill="#9bbb59"/>
<circle cx="429" cy="1189.63" r="4.2" fill="#9bbb59"/>
<circle cx="480.95" cy="1203.65" r="4.2" fill="#9bbb59"/>
<circle cx="532.9" cy="1218.36" r="4.2" fill="#9bbb59"/>
<circle cx="584.85" cy="1224.86" r="4.2" fill="#9bbb59"/>
<circle cx="636.8" cy="1231.36" r="4.2" fill="#9bbb59"/>
<circle cx="688.75" cy="1242.3" r="4.2" fill="#9bbb59"/>
<circle cx="117.3" cy="1198.52" r="4.2" fill="#8064a2"/>
<circle cx="169.25" cy="1197.84" r="4.2" fill="#8064a2"/>
<circle cx="221.2" cy="1206.05" r="4.2" fill="#8064a2"/>
<circle cx="273.15" cy="1219.39" r="4.2" fill="#8064a2"/>
<circle cx="325.1" cy="1236.83" r="4.2" fill="#8064a2"/>
<circle cx="377.05" cy="1242.3" r="4.2" fill="#8064a2"/>
<circle cx="429" cy="1242.3" r="4.2" fill="#8064a2"/>
<circle cx="480.95" cy="1242.3" r="4.2" fill="#8064a2"/>
<circle cx="532.9" cy="1242.3" r="4.2" fill="#8064a2"/>
<circle cx="584.85" cy="1242.3" r="4.2" fill="#8064a2"/>
<circle cx="636.8" cy="1242.3" r="4.2" fill="#8064a2"/>
<circle cx="688.75" cy="1242.3" r="4.2" fill="#8064a2"/>
<line x1="206.9" y1="1332.5" x2="232.5" y2="1332.5" stroke="#4f81bd" stroke-width="2.6"/>
<circle cx="219.7" cy="1332.5" r="4.2" fill="#4f81bd"/>
<line x1="288.3" y1="1332.5" x2="314.5" y2="1332.5" stroke="#c0504d" stroke-width="2.6"/>
<circle cx="301.4" cy="1332.5" r="4.2" fill="#c0504d"/>
<line x1="374" y1="1332.5" x2="399" y2="1332.5" stroke="#9bbb59" stroke-width="2.6"/>
<circle cx="386.5" cy="1332.5" r="4.2" fill="#9bbb59"/>
<line x1="467" y1="1332.5" x2="492.7" y2="1332.5" stroke="#8064a2" stroke-width="2.6"/>
<circle cx="479.9" cy="1332.5" r="4.2" fill="#8064a2"/>
<text x="236" y="1337.45" font-family='"Liberation Serif", serif' font-size="15" font-weight="bold" font-style="normal" text-anchor="start" fill="#000" textLength="48.8" lengthAdjust="spacingAndGlyphs">Col-0 Old</text>
<text x="318.8" y="1337.45" font-family='"Liberation Serif", serif' font-size="15" font-weight="bold" font-style="normal" text-anchor="start" fill="#000" textLength="52.5" lengthAdjust="spacingAndGlyphs"><tspan font-style="italic">atg5-1</tspan> Old</text>
<text x="402.3" y="1337.45" font-family='"Liberation Serif", serif' font-size="15" font-weight="bold" font-style="normal" text-anchor="start" fill="#000" textLength="61.4" lengthAdjust="spacingAndGlyphs">Col-0-C Old</text>
<text x="495.7" y="1337.45" font-family='"Liberation Serif", serif' font-size="15" font-weight="bold" font-style="normal" text-anchor="start" fill="#000" textLength="66.6" lengthAdjust="spacingAndGlyphs"><tspan font-style="italic">atg5-1</tspan>-C Old</text>
<text x="403" y="1293.5" font-family='"Liberation Serif", serif' font-size="15" font-weight="bold" font-style="normal" text-anchor="middle" fill="#000" textLength="99.3" lengthAdjust="spacingAndGlyphs">PPF (μmol·m-2·s-1)</text>
<text x="0" y="0" font-family='"Liberation Serif", serif' font-size="15" font-weight="bold" font-style="normal" text-anchor="middle" fill="#000" textLength="37" lengthAdjust="spacingAndGlyphs" transform="translate(61.5,1122.3) rotate(-90)">ΦPSII</text>
<rect x="792.5" y="954.4" width="698.3" height="401.9" fill="#fff" stroke="#d9d9d9" stroke-width="1.3"/>
<text x="761" y="967" font-family='"Liberation Sans", sans-serif' font-size="35" font-weight="normal" font-style="normal" text-anchor="start" fill="#000">F</text>
<text x="857.3" y="1231.1" font-family='"Liberation Serif", serif' font-size="14" font-weight="bold" font-style="normal" text-anchor="end" fill="#000">0</text>
<text x="857.3" y="1194.88" font-family='"Liberation Serif", serif' font-size="14" font-weight="bold" font-style="normal" text-anchor="end" fill="#000">0.5</text>
<text x="857.3" y="1158.67" font-family='"Liberation Serif", serif' font-size="14" font-weight="bold" font-style="normal" text-anchor="end" fill="#000">1</text>
<text x="857.3" y="1122.45" font-family='"Liberation Serif", serif' font-size="14" font-weight="bold" font-style="normal" text-anchor="end" fill="#000">1.5</text>
<text x="857.3" y="1086.24" font-family='"Liberation Serif", serif' font-size="14" font-weight="bold" font-style="normal" text-anchor="end" fill="#000">2</text>
<text x="857.3" y="1050.02" font-family='"Liberation Serif", serif' font-size="14" font-weight="bold" font-style="normal" text-anchor="end" fill="#000">2.5</text>
<text x="857.3" y="1013.81" font-family='"Liberation Serif", serif' font-size="14" font-weight="bold" font-style="normal" text-anchor="end" fill="#000">3</text>
<text x="857.3" y="977.59" font-family='"Liberation Serif", serif' font-size="14" font-weight="bold" font-style="normal" text-anchor="end" fill="#000">3.5</text>
<text x="0" y="0" font-family='"Liberation Serif", serif' font-size="15" font-weight="bold" font-style="normal" text-anchor="middle" fill="#000" textLength="36" lengthAdjust="spacingAndGlyphs" transform="translate(824.5,1143.8) rotate(-90)">mg/L</text>
<rect x="882.1" y="1093.03" width="13" height="133.27" fill="#4f81bd" stroke="none" stroke-width="0"/>
<rect x="898.8" y="1156.55" width="13" height="69.75" fill="#c0504d" stroke="none" stroke-width="0"/>
<rect x="915.5" y="1023.5" width="13" height="202.8" fill="#9bbb59" stroke="none" stroke-width="0"/>
<rect x="957.8" y="1115.48" width="13" height="110.82" fill="#4f81bd" stroke="none" stroke-width="0"/>
<rect x="974.5" y="1162.92" width="13" height="63.38" fill="#c0504d" stroke="none" stroke-width="0"/>
<rect x="991.2" y="1052.11" width="13" height="174.19" fill="#9bbb59" stroke="none" stroke-width="0"/>
<rect x="1033.5" y="1094.19" width="13" height="132.11" fill="#4f81bd" stroke="none" stroke-width="0"/>
<rect x="1050.2" y="1141.99" width="13" height="84.31" fill="#c0504d" stroke="none" stroke-width="0"/>
<rect x="1066.9" y="1009.73" width="13" height="216.57" fill="#9bbb59" stroke="none" stroke-width="0"/>
<rect x="1109.2" y="1140.11" width="13" height="86.19" fill="#4f81bd" stroke="none" stroke-width="0"/>
<rect x="1125.9" y="1161.48" width="13" height="64.82" fill="#c0504d" stroke="none" stroke-width="0"/>
<rect x="1142.6" y="1075.14" width="13" height="151.16" fill="#9bbb59" stroke="none" stroke-width="0"/>
<rect x="1184.9" y="1136.85" width="13" height="89.45" fill="#4f81bd" stroke="none" stroke-width="0"/>
<rect x="1201.6" y="1153" width="13" height="73.3" fill="#c0504d" stroke="none" stroke-width="0"/>
<rect x="1218.3" y="1063.77" width="13" height="162.53" fill="#9bbb59" stroke="none" stroke-width="0"/>
<rect x="1260.6" y="1125.26" width="13" height="101.04" fill="#4f81bd" stroke="none" stroke-width="0"/>
<rect x="1277.3" y="1164.16" width="13" height="62.14" fill="#c0504d" stroke="none" stroke-width="0"/>
<rect x="1294" y="1062.68" width="13" height="163.62" fill="#9bbb59" stroke="none" stroke-width="0"/>
<rect x="1336.3" y="1175.6" width="13" height="50.7" fill="#4f81bd" stroke="none" stroke-width="0"/>
<rect x="1353" y="1180.31" width="13" height="45.99" fill="#c0504d" stroke="none" stroke-width="0"/>
<rect x="1369.7" y="1129.46" width="13" height="96.84" fill="#9bbb59" stroke="none" stroke-width="0"/>
<rect x="1412" y="1180.81" width="13" height="45.49" fill="#4f81bd" stroke="none" stroke-width="0"/>
<rect x="1428.7" y="1190.09" width="13" height="36.21" fill="#c0504d" stroke="none" stroke-width="0"/>
<rect x="1445.4" y="1144.6" width="13" height="81.7" fill="#9bbb59" stroke="none" stroke-width="0"/>
<line x1="888.6" y1="1080.86" x2="888.6" y2="1105.2" stroke="#5f5f5f" stroke-width="1.2"/>
<line x1="885.4" y1="1080.86" x2="891.8" y2="1080.86" stroke="#5f5f5f" stroke-width="1.2"/>
<line x1="885.4" y1="1105.2" x2="891.8" y2="1105.2" stroke="#5f5f5f" stroke-width="1.2"/>
<line x1="905.3" y1="1149.31" x2="905.3" y2="1163.79" stroke="#5f5f5f" stroke-width="1.2"/>
<line x1="902.1" y1="1149.31" x2="908.5" y2="1149.31" stroke="#5f5f5f" stroke-width="1.2"/>
<line x1="902.1" y1="1163.79" x2="908.5" y2="1163.79" stroke="#5f5f5f" stroke-width="1.2"/>
<line x1="922" y1="1013.21" x2="922" y2="1033.78" stroke="#5f5f5f" stroke-width="1.2"/>
<line x1="918.8" y1="1013.21" x2="925.2" y2="1013.21" stroke="#5f5f5f" stroke-width="1.2"/>
<line x1="918.8" y1="1033.78" x2="925.2" y2="1033.78" stroke="#5f5f5f" stroke-width="1.2"/>
<line x1="964.3" y1="1097.37" x2="964.3" y2="1133.59" stroke="#5f5f5f" stroke-width="1.2"/>
<line x1="961.1" y1="1097.37" x2="967.5" y2="1097.37" stroke="#5f5f5f" stroke-width="1.2"/>
<line x1="961.1" y1="1133.59" x2="967.5" y2="1133.59" stroke="#5f5f5f" stroke-width="1.2"/>
<line x1="981" y1="1151.7" x2="981" y2="1174.15" stroke="#5f5f5f" stroke-width="1.2"/>
<line x1="977.8" y1="1151.7" x2="984.2" y2="1151.7" stroke="#5f5f5f" stroke-width="1.2"/>
<line x1="977.8" y1="1174.15" x2="984.2" y2="1174.15" stroke="#5f5f5f" stroke-width="1.2"/>
<line x1="997.7" y1="1039.07" x2="997.7" y2="1065.14" stroke="#5f5f5f" stroke-width="1.2"/>
<line x1="994.5" y1="1039.07" x2="1000.9" y2="1039.07" stroke="#5f5f5f" stroke-width="1.2"/>
<line x1="994.5" y1="1065.14" x2="1000.9" y2="1065.14" stroke="#5f5f5f" stroke-width="1.2"/>
<line x1="1040" y1="1082.96" x2="1040" y2="1105.41" stroke="#5f5f5f" stroke-width="1.2"/>
<line x1="1036.8" y1="1082.96" x2="1043.2" y2="1082.96" stroke="#5f5f5f" stroke-width="1.2"/>
<line x1="1036.8" y1="1105.41" x2="1043.2" y2="1105.41" stroke="#5f5f5f" stroke-width="1.2"/>
<line x1="1056.7" y1="1128.95" x2="1056.7" y2="1155.03" stroke="#5f5f5f" stroke-width="1.2"/>
<line x1="1053.5" y1="1128.95" x2="1059.9" y2="1128.95" stroke="#5f5f5f" stroke-width="1.2"/>
<line x1="1053.5" y1="1155.03" x2="1059.9" y2="1155.03" stroke="#5f5f5f" stroke-width="1.2"/>
<line x1="1073.4" y1="995.25" x2="1073.4" y2="1024.22" stroke="#5f5f5f" stroke-width="1.2"/>
<line x1="1070.2" y1="995.25" x2="1076.6" y2="995.25" stroke="#5f5f5f" stroke-width="1.2"/>
<line x1="1070.2" y1="1024.22" x2="1076.6" y2="1024.22" stroke="#5f5f5f" stroke-width="1.2"/>
<line x1="1115.7" y1="1125.62" x2="1115.7" y2="1154.59" stroke="#5f5f5f" stroke-width="1.2"/>
<line x1="1112.5" y1="1125.62" x2="1118.9" y2="1125.62" stroke="#5f5f5f" stroke-width="1.2"/>
<line x1="1112.5" y1="1154.59" x2="1118.9" y2="1154.59" stroke="#5f5f5f" stroke-width="1.2"/>
<line x1="1132.4" y1="1144.82" x2="1132.4" y2="1178.13" stroke="#5f5f5f" stroke-width="1.2"/>
<line x1="1129.2" y1="1144.82" x2="1135.6" y2="1144.82" stroke="#5f5f5f" stroke-width="1.2"/>
<line x1="1129.2" y1="1178.13" x2="1135.6" y2="1178.13" stroke="#5f5f5f" stroke-width="1.2"/>
<line x1="1149.1" y1="1061.38" x2="1149.1" y2="1088.9" stroke="#5f5f5f" stroke-width="1.2"/>
<line x1="1145.9" y1="1061.38" x2="1152.3" y2="1061.38" stroke="#5f5f5f" stroke-width="1.2"/>
<line x1="1145.9" y1="1088.9" x2="1152.3" y2="1088.9" stroke="#5f5f5f" stroke-width="1.2"/>
<line x1="1191.4" y1="1124.17" x2="1191.4" y2="1149.52" stroke="#5f5f5f" stroke-width="1.2"/>
<line x1="1188.2" y1="1124.17" x2="1194.6" y2="1124.17" stroke="#5f5f5f" stroke-width="1.2"/>
<line x1="1188.2" y1="1149.52" x2="1194.6" y2="1149.52" stroke="#5f5f5f" stroke-width="1.2"/>
<line x1="1208.1" y1="1143.8" x2="1208.1" y2="1162.2" stroke="#5f5f5f" stroke-width="1.2"/>
<line x1="1204.9" y1="1143.8" x2="1211.3" y2="1143.8" stroke="#5f5f5f" stroke-width="1.2"/>
<line x1="1204.9" y1="1162.2" x2="1211.3" y2="1162.2" stroke="#5f5f5f" stroke-width="1.2"/>
<line x1="1224.8" y1="1044.94" x2="1224.8" y2="1082.6" stroke="#5f5f5f" stroke-width="1.2"/>
<line x1="1221.6" y1="1044.94" x2="1228" y2="1044.94" stroke="#5f5f5f" stroke-width="1.2"/>
<line x1="1221.6" y1="1082.6" x2="1228" y2="1082.6" stroke="#5f5f5f" stroke-width="1.2"/>
<line x1="1267.1" y1="1111.5" x2="1267.1" y2="1139.02" stroke="#5f5f5f" stroke-width="1.2"/>
<line x1="1263.9" y1="1111.5" x2="1270.3" y2="1111.5" stroke="#5f5f5f" stroke-width="1.2"/>
<line x1="1263.9" y1="1139.02" x2="1270.3" y2="1139.02" stroke="#5f5f5f" stroke-width="1.2"/>
<line x1="1283.8" y1="1156.91" x2="1283.8" y2="1171.4" stroke="#5f5f5f" stroke-width="1.2"/>
<line x1="1280.6" y1="1156.91" x2="1287" y2="1156.91" stroke="#5f5f5f" stroke-width="1.2"/>
<line x1="1280.6" y1="1171.4" x2="1287" y2="1171.4" stroke="#5f5f5f" stroke-width="1.2"/>
<line x1="1300.5" y1="1050.37" x2="1300.5" y2="1074.99" stroke="#5f5f5f" stroke-width="1.2"/>
<line x1="1297.3" y1="1050.37" x2="1303.7" y2="1050.37" stroke="#5f5f5f" stroke-width="1.2"/>
<line x1="1297.3" y1="1074.99" x2="1303.7" y2="1074.99" stroke="#5f5f5f" stroke-width="1.2"/>
<line x1="1342.8" y1="1161.11" x2="1342.8" y2="1190.09" stroke="#5f5f5f" stroke-width="1.2"/>
<line x1="1339.6" y1="1161.11" x2="1346" y2="1161.11" stroke="#5f5f5f" stroke-width="1.2"/>
<line x1="1339.6" y1="1190.09" x2="1346" y2="1190.09" stroke="#5f5f5f" stroke-width="1.2"/>
<line x1="1359.5" y1="1168.94" x2="1359.5" y2="1191.68" stroke="#5f5f5f" stroke-width="1.2"/>
<line x1="1356.3" y1="1168.94" x2="1362.7" y2="1168.94" stroke="#5f5f5f" stroke-width="1.2"/>
<line x1="1356.3" y1="1191.68" x2="1362.7" y2="1191.68" stroke="#5f5f5f" stroke-width="1.2"/>
<line x1="1376.2" y1="1116.42" x2="1376.2" y2="1142.5" stroke="#5f5f5f" stroke-width="1.2"/>
<line x1="1373" y1="1116.42" x2="1379.4" y2="1116.42" stroke="#5f5f5f" stroke-width="1.2"/>
<line x1="1373" y1="1142.5" x2="1379.4" y2="1142.5" stroke="#5f5f5f" stroke-width="1.2"/>
<line x1="1418.5" y1="1174.3" x2="1418.5" y2="1187.33" stroke="#5f5f5f" stroke-width="1.2"/>
<line x1="1415.3" y1="1174.3" x2="1421.7" y2="1174.3" stroke="#5f5f5f" stroke-width="1.2"/>
<line x1="1415.3" y1="1187.33" x2="1421.7" y2="1187.33" stroke="#5f5f5f" stroke-width="1.2"/>
<line x1="1435.2" y1="1186.9" x2="1435.2" y2="1193.27" stroke="#5f5f5f" stroke-width="1.2"/>
<line x1="1432" y1="1186.9" x2="1438.4" y2="1186.9" stroke="#5f5f5f" stroke-width="1.2"/>
<line x1="1432" y1="1193.27" x2="1438.4" y2="1193.27" stroke="#5f5f5f" stroke-width="1.2"/>
<line x1="1451.9" y1="1139.17" x2="1451.9" y2="1150.03" stroke="#5f5f5f" stroke-width="1.2"/>
<line x1="1448.7" y1="1139.17" x2="1455.1" y2="1139.17" stroke="#5f5f5f" stroke-width="1.2"/>
<line x1="1448.7" y1="1150.03" x2="1455.1" y2="1150.03" stroke="#5f5f5f" stroke-width="1.2"/>
<line x1="867.5" y1="962" x2="867.5" y2="1311.6" stroke="#1e1e1e" stroke-width="1.5"/>
<line x1="866.8" y1="1226.3" x2="1472.6" y2="1226.3" stroke="#1e1e1e" stroke-width="1.6"/>
<line x1="1018.9" y1="1226.3" x2="1018.9" y2="1283" stroke="#1e1e1e" stroke-width="1.5"/>
<line x1="1170" y1="1226.3" x2="1170" y2="1311" stroke="#1e1e1e" stroke-width="1.5"/>
<line x1="1321.3" y1="1226.3" x2="1321.3" y2="1283" stroke="#1e1e1e" stroke-width="1.5"/>
<line x1="1472.6" y1="1226.3" x2="1472.6" y2="1311" stroke="#1e1e1e" stroke-width="1.5"/>
<text x="890.1" y="1066" font-family='"Liberation Serif", serif' font-size="26" font-weight="normal" font-style="normal" text-anchor="middle" fill="#1060b0">a</text>
<text x="906.5" y="1133.6" font-family='"Liberation Serif", serif' font-size="26" font-weight="normal" font-style="normal" text-anchor="middle" fill="#c00010">a</text>
<text x="923.8" y="996.9" font-family='"Liberation Serif", serif' font-size="26" font-weight="normal" font-style="normal" text-anchor="middle" fill="#10a030">a</text>
<text x="966.2" y="1080" font-family='"Liberation Serif", serif' font-size="26" font-weight="normal" font-style="normal" text-anchor="middle" fill="#1060b0">b</text>
<text x="982" y="1136.9" font-family='"Liberation Serif", serif' font-size="26" font-weight="normal" font-style="normal" text-anchor="middle" fill="#c00010">a</text>
<text x="998.3" y="1020.7" font-family='"Liberation Serif", serif' font-size="26" font-weight="normal" font-style="normal" text-anchor="middle" fill="#10a030">b</text>
<text x="1040.5" y="1067.4" font-family='"Liberation Serif", serif' font-size="26" font-weight="normal" font-style="normal" text-anchor="middle" fill="#1060b0">a</text>
<text x="1057" y="1115.7" font-family='"Liberation Serif", serif' font-size="26" font-weight="normal" font-style="normal" text-anchor="middle" fill="#c00010">b</text>
<text x="1073.8" y="978.2" font-family='"Liberation Serif", serif' font-size="26" font-weight="normal" font-style="normal" text-anchor="middle" fill="#10a030">a</text>
<text x="1116" y="1110" font-family='"Liberation Serif", serif' font-size="26" font-weight="normal" font-style="normal" text-anchor="middle" fill="#1060b0">c</text>
<text x="1132.4" y="1130.5" font-family='"Liberation Serif", serif' font-size="26" font-weight="normal" font-style="normal" text-anchor="middle" fill="#c00010">a</text>
<text x="1150" y="1046.3" font-family='"Liberation Serif", serif' font-size="26" font-weight="normal" font-style="normal" text-anchor="middle" fill="#10a030">b</text>
<text x="1190.8" y="1113.7" font-family='"Liberation Serif", serif' font-size="26" font-weight="normal" font-style="normal" text-anchor="middle" fill="#1060b0">c</text>
<text x="1208.3" y="1130.5" font-family='"Liberation Serif", serif' font-size="26" font-weight="normal" font-style="normal" text-anchor="middle" fill="#c00010">a</text>
<text x="1225.9" y="1034.4" font-family='"Liberation Serif", serif' font-size="26" font-weight="normal" font-style="normal" text-anchor="middle" fill="#10a030">b</text>
<text x="1266.8" y="1098.6" font-family='"Liberation Serif", serif' font-size="26" font-weight="normal" font-style="normal" text-anchor="middle" fill="#1060b0">bc</text>
<text x="1283.7" y="1140.6" font-family='"Liberation Serif", serif' font-size="26" font-weight="normal" font-style="normal" text-anchor="middle" fill="#c00010">a</text>
<text x="1301.3" y="1037" font-family='"Liberation Serif", serif' font-size="26" font-weight="normal" font-style="normal" text-anchor="middle" fill="#10a030">b</text>
<text x="1341.6" y="1146.4" font-family='"Liberation Serif", serif' font-size="26" font-weight="normal" font-style="normal" text-anchor="middle" fill="#1060b0">d</text>
<text x="1358.9" y="1153.8" font-family='"Liberation Serif", serif' font-size="26" font-weight="normal" font-style="normal" text-anchor="middle" fill="#c00010">c</text>
<text x="1375.6" y="1102.6" font-family='"Liberation Serif", serif' font-size="26" font-weight="normal" font-style="normal" text-anchor="middle" fill="#10a030">c</text>
<text x="1417.3" y="1158.4" font-family='"Liberation Serif", serif' font-size="26" font-weight="normal" font-style="normal" text-anchor="middle" fill="#1060b0">d</text>
<text x="1434" y="1173" font-family='"Liberation Serif", serif' font-size="26" font-weight="normal" font-style="normal" text-anchor="middle" fill="#c00010">c</text>
<text x="1451" y="1126.5" font-family='"Liberation Serif", serif' font-size="26" font-weight="normal" font-style="normal" text-anchor="middle" fill="#10a030">c</text>
<text x="905.3" y="1250.5" font-family='"Liberation Serif", serif' font-size="15" font-weight="bold" font-style="normal" text-anchor="middle" fill="#000">Col-0</text>
<text x="981" y="1250.5" font-family='"Liberation Serif", serif' font-size="15" font-weight="bold" font-style="italic" text-anchor="middle" fill="#000">atg5-1</text>
<text x="1056.7" y="1250.5" font-family='"Liberation Serif", serif' font-size="15" font-weight="bold" font-style="normal" text-anchor="middle" fill="#000">Col-0</text>
<text x="1132.4" y="1250.5" font-family='"Liberation Serif", serif' font-size="15" font-weight="bold" font-style="italic" text-anchor="middle" fill="#000">atg5-1</text>
<text x="1208.1" y="1250.5" font-family='"Liberation Serif", serif' font-size="15" font-weight="bold" font-style="normal" text-anchor="middle" fill="#000">Col-0</text>
<text x="1283.8" y="1250.5" font-family='"Liberation Serif", serif' font-size="15" font-weight="bold" font-style="italic" text-anchor="middle" fill="#000">atg5-1</text>
<text x="1359.5" y="1250.5" font-family='"Liberation Serif", serif' font-size="15" font-weight="bold" font-style="normal" text-anchor="middle" fill="#000">Col-0</text>
<text x="1435.2" y="1250.5" font-family='"Liberation Serif", serif' font-size="15" font-weight="bold" font-style="italic" text-anchor="middle" fill="#000">atg5-1</text>
<text x="943.3" y="1277.4" font-family='"Liberation Serif", serif' font-size="15" font-weight="bold" font-style="normal" text-anchor="middle" fill="#000">Young</text>
<text x="1094.2" y="1277.4" font-family='"Liberation Serif", serif' font-size="15" font-weight="bold" font-style="normal" text-anchor="middle" fill="#000">Old</text>
<text x="1246" y="1277.4" font-family='"Liberation Serif", serif' font-size="15" font-weight="bold" font-style="normal" text-anchor="middle" fill="#000">Young</text>
<text x="1396.6" y="1277.4" font-family='"Liberation Serif", serif' font-size="15" font-weight="bold" font-style="normal" text-anchor="middle" fill="#000">Old</text>
<text x="1018.5" y="1304.6" font-family='"Liberation Serif", serif' font-size="15" font-weight="bold" font-style="normal" text-anchor="middle" fill="#000">+ C</text>
<text x="1321.3" y="1304.4" font-family='"Liberation Serif", serif' font-size="15" font-weight="bold" font-style="normal" text-anchor="middle" fill="#000">- C</text>
<rect x="1049.3" y="1328.8" width="9.2" height="9.4" fill="#4f81bd" stroke="none" stroke-width="0"/>
<rect x="1099" y="1328.8" width="9.2" height="9.4" fill="#c0504d" stroke="none" stroke-width="0"/>
<rect x="1149.6" y="1328.8" width="9.2" height="9.4" fill="#9bbb59" stroke="none" stroke-width="0"/>
<text x="1063.4" y="1338.4" font-family='"Liberation Serif", serif' font-size="15" font-weight="bold" font-style="normal" text-anchor="start" fill="#000" textLength="29.6" lengthAdjust="spacingAndGlyphs">Chla</text>
<text x="1113.6" y="1338.4" font-family='"Liberation Serif", serif' font-size="15" font-weight="bold" font-style="normal" text-anchor="start" fill="#000" textLength="30" lengthAdjust="spacingAndGlyphs">Chlb</text>
<text x="1164.3" y="1338.4" font-family='"Liberation Serif", serif' font-size="15" font-weight="bold" font-style="normal" text-anchor="start" fill="#000" textLength="69.5" lengthAdjust="spacingAndGlyphs">Chla+Chlb</text>
<text x="4.5" y="1425.8" font-family='"Liberation Sans", sans-serif' font-size="35" font-weight="normal" font-style="normal" text-anchor="start" fill="#000">G</text>
<text x="477.8" y="1443.4" font-family='"Liberation Sans", sans-serif' font-size="34" font-weight="normal" font-style="normal" text-anchor="start" fill="#000" textLength="100" lengthAdjust="spacingAndGlyphs">Fv/Fm</text>
<text x="720.3" y="1441.8" font-family='"Liberation Sans", sans-serif' font-size="34" font-weight="normal" font-style="normal" text-anchor="start" fill="#000" textLength="73.2" lengthAdjust="spacingAndGlyphs">ΦPS</text>
<g stroke="#000" fill="none" stroke-width="1.3"><line x1="805" y1="1420.2" x2="820.5" y2="1420.2"/><line x1="805" y1="1442.4" x2="820.5" y2="1442.4"/><line x1="809.3" y1="1420.2" x2="809.3" y2="1442.4"/><line x1="816.2" y1="1420.2" x2="816.2" y2="1442.4"/></g>
<text x="981.3" y="1441.8" font-family='"Liberation Sans", sans-serif' font-size="34" font-weight="normal" font-style="italic" text-anchor="start" fill="#000" textLength="99.5" lengthAdjust="spacingAndGlyphs">Y(NO)</text>
<text x="1206.3" y="1441.8" font-family='"Liberation Sans", sans-serif' font-size="34" font-weight="normal" font-style="italic" text-anchor="start" fill="#000" textLength="124.5" lengthAdjust="spacingAndGlyphs">Y(NPQ)</text>
<text x="30.4" y="1604" font-family='"Liberation Sans", sans-serif' font-size="35" font-weight="normal" font-style="normal" text-anchor="start" fill="#000" textLength="85" lengthAdjust="spacingAndGlyphs">Col-0</text>
<text x="21.3" y="1862.3" font-family='"Liberation Sans", sans-serif' font-size="35" font-weight="normal" font-style="italic" text-anchor="start" fill="#000" textLength="96.8" lengthAdjust="spacingAndGlyphs">atg5-1</text>
<text x="33.7" y="2084.6" font-family='"Liberation Sans", sans-serif' font-size="35" font-weight="normal" font-style="normal" text-anchor="start" fill="#000" textLength="83.6" lengthAdjust="spacingAndGlyphs">Col-0</text>
<text x="4.7" y="2125" font-family='"Liberation Sans", sans-serif' font-size="35" font-weight="normal" font-style="normal" text-anchor="start" fill="#000" textLength="129.5" lengthAdjust="spacingAndGlyphs">(-C 60h)</text>
<text x="22.8" y="2329.5" font-family='"Liberation Sans", sans-serif' font-size="35" font-weight="normal" font-style="italic" text-anchor="start" fill="#000" textLength="95.2" lengthAdjust="spacingAndGlyphs">atg5-1</text>
<text x="4.7" y="2377.5" font-family='"Liberation Sans", sans-serif' font-size="35" font-weight="normal" font-style="normal" text-anchor="start" fill="#000" textLength="129.5" lengthAdjust="spacingAndGlyphs">(-C 60h)</text>
<defs>
<filter id="soiltex0" x="0" y="0" width="1" height="1"><feTurbulence type="fractalNoise" baseFrequency="0.3" numOctaves="2" seed="3" result="n"/><feColorMatrix in="n" type="matrix" values="0 0 0 0 0.24  0 0 0 0 0.15  0 0 0 0 0.1  3.4 0 0 0 -1.95" result="c"/><feComposite in="c" in2="SourceGraphic" operator="in"/></filter>
<filter id="soiltex1" x="0" y="0" width="1" height="1"><feTurbulence type="fractalNoise" baseFrequency="0.3" numOctaves="2" seed="4" result="n"/><feColorMatrix in="n" type="matrix" values="0 0 0 0 0.26  0 0 0 0 0.16  0 0 0 0 0.11  3.4 0 0 0 -1.92" result="c"/><feComposite in="c" in2="SourceGraphic" operator="in"/></filter>
<filter id="soiltex2" x="0" y="0" width="1" height="1"><feTurbulence type="fractalNoise" baseFrequency="0.3" numOctaves="2" seed="5" result="n"/><feColorMatrix in="n" type="matrix" values="0 0 0 0 0.42  0 0 0 0 0.2  0 0 0 0 0.15  3.4 0 0 0 -1.8" result="c"/><feComposite in="c" in2="SourceGraphic" operator="in"/></filter>
<filter id="soiltex3" x="0" y="0" width="1" height="1"><feTurbulence type="fractalNoise" baseFrequency="0.3" numOctaves="2" seed="6" result="n"/><feColorMatrix in="n" type="matrix" values="0 0 0 0 0.42  0 0 0 0 0.22  0 0 0 0 0.19  3.4 0 0 0 -1.8" result="c"/><feComposite in="c" in2="SourceGraphic" operator="in"/></filter>
<clipPath id="cp1_0"><rect x="151.5" y="1474.5" width="265" height="234"/></clipPath>
<clipPath id="cp2_0"><rect x="423" y="1473.2" width="238.2" height="235.4"/></clipPath>
<clipPath id="cp3_0"><rect x="667.6" y="1473.2" width="247.6" height="235.3"/></clipPath>
<clipPath id="cp4_0"><rect x="922" y="1473.8" width="241.8" height="234.7"/></clipPath>
<clipPath id="cp1_1"><rect x="151.7" y="1715.3" width="264.8" height="253.4"/></clipPath>
<clipPath id="cp2_1"><rect x="423" y="1715.3" width="237.6" height="253.5"/></clipPath>
<clipPath id="cp3_1"><rect x="667.3" y="1716.4" width="249.1" height="252.9"/></clipPath>
<clipPath id="cp4_1"><rect x="923" y="1716.4" width="241" height="252.9"/></clipPath>
<clipPath id="cp1_2"><rect x="149.3" y="1975.3" width="267" height="245.7"/></clipPath>
<clipPath id="cp2_2"><rect x="423" y="1975.3" width="237.6" height="245.7"/></clipPath>
<clipPath id="cp3_2"><rect x="667.3" y="1975.8" width="249.1" height="246.2"/></clipPath>
<clipPath id="cp4_2"><rect x="923" y="1975.8" width="241" height="246.2"/></clipPath>
<clipPath id="cp1_3"><rect x="149.3" y="2227.5" width="267.2" height="249"/></clipPath>
<clipPath id="cp2_3"><rect x="423" y="2227.5" width="237.6" height="249.1"/></clipPath>
<clipPath id="cp3_3"><rect x="667.3" y="2228.4" width="249.1" height="248.6"/></clipPath>
<clipPath id="cp4_3"><rect x="923" y="2228.4" width="241" height="248.6"/></clipPath>
</defs>
<rect x="151.5" y="1474.5" width="265" height="234" fill="#0c0a0a" stroke="none" stroke-width="0"/>
<rect x="202.7" y="1501.7" width="191.2" height="193.2" rx="30" fill="#1d130e" stroke="#2e2a28" stroke-width="3.6"/>
<rect x="205.2" y="1504.2" width="186.2" height="188.2" rx="27" fill="#000" filter="url(#soiltex0)"/>
<g clip-path="url(#cp1_0)"><line x1="307.5" y1="1591" x2="298.02" y2="1569.99" stroke="#4c6b31" stroke-width="3.2" stroke-linecap="round"/><path d="M299.53,1569.48 C295.6,1551.59 308.64,1540.2 300.02,1513.42 C293.67,1494.61 283.29,1487.63 271.54,1491.6 C259.8,1495.57 255.77,1507.4 262.13,1526.22 C271.5,1552.74 288.78,1553.9 296.5,1570.5Z" fill="#4c6b31" stroke="none" stroke-width="0"/><line x1="307.5" y1="1591" x2="311.92" y2="1577.52" stroke="#4c6b31" stroke-width="3.2" stroke-linecap="round"/><path d="M313.49,1577.8 C319.15,1557.47 336.24,1552.76 342.33,1520.87 C346.35,1498.31 340.88,1485.69 328.67,1483.52 C316.46,1481.34 306.97,1491.29 302.95,1513.85 C297.65,1545.88 312.06,1556.2 310.34,1577.23Z" fill="#4c6b31" stroke="none" stroke-width="0"/><line x1="307.5" y1="1591" x2="277.42" y2="1588.7" stroke="#4c6b31" stroke-width="4.32" stroke-linecap="round"/><path d="M277.75,1586.56 C253.25,1580.04 247.5,1557.3 209.08,1550.81 C181.9,1546.6 166.74,1554.64 164.18,1571.19 C161.63,1587.73 173.65,1599.97 200.82,1604.17 C239.41,1609.59 251.77,1589.65 277.09,1590.83Z" fill="#4c6b31" stroke="none" stroke-width="0"/><line x1="307.5" y1="1591" x2="303.41" y2="1588.01" stroke="#4c6b31" stroke-width="2.08" stroke-linecap="round"/><path d="M304.13,1587.26 C297.46,1578.95 301.96,1568.81 290.42,1557.21 C282.15,1549.16 274.57,1548.67 268.94,1554.44 C263.32,1560.22 264.01,1567.78 272.28,1575.84 C284.18,1587.06 294.19,1582.3 302.68,1588.75Z" fill="#4c6b31" stroke="none" stroke-width="0"/><line x1="307.5" y1="1591" x2="274.3" y2="1607.5" stroke="#4c6b31" stroke-width="2.56" stroke-linecap="round"/><ellipse cx="254.3" cy="1607.5" rx="20" ry="16" transform="rotate(0 254.3 1607.5)" fill="#4c6b31" stroke="none" stroke-width="0"/><line x1="307.5" y1="1591" x2="300.47" y2="1602.26" stroke="#4c6b31" stroke-width="2.88" stroke-linecap="round"/><path d="M299.28,1601.45 C285.2,1619.26 268.65,1618.09 248.91,1646.95 C235.18,1667.47 234,1681.53 243.28,1687.74 C252.55,1693.94 265.1,1687.49 278.83,1666.97 C297.97,1637.71 290.58,1622.86 301.67,1603.06Z" fill="#4c6b31" stroke="none" stroke-width="0"/><line x1="307.5" y1="1591" x2="310.74" y2="1598.35" stroke="#4c6b31" stroke-width="2" stroke-linecap="round"/><path d="M309.74,1598.34 C308.81,1606.68 301.88,1609.68 301.65,1622.57 C301.62,1631.66 305.03,1636.22 310.61,1636.24 C316.19,1636.26 319.62,1631.72 319.65,1622.63 C319.52,1609.75 312.61,1606.69 311.74,1598.35Z" fill="#4c6b31" stroke="none" stroke-width="0"/><line x1="307.5" y1="1591" x2="351.6" y2="1602" stroke="#4c6b31" stroke-width="2.72" stroke-linecap="round"/><ellipse cx="371.6" cy="1602" rx="20" ry="17" transform="rotate(0 371.6 1602)" fill="#4c6b31" stroke="none" stroke-width="0"/><line x1="307.5" y1="1591" x2="312.58" y2="1590.3" stroke="#4c6b31" stroke-width="2.08" stroke-linecap="round"/><path d="M312.45,1591.33 C328.46,1594.64 333.05,1605.69 358,1609.07 C375.63,1611.27 385.06,1607.47 386.06,1599.47 C387.06,1591.47 378.85,1585.47 361.22,1583.27 C336.2,1580.41 329.04,1590 312.71,1589.27Z" fill="#4c6b31" stroke="none" stroke-width="0"/><line x1="307.5" y1="1591" x2="322.7" y2="1608.12" stroke="#4c6b31" stroke-width="3.84" stroke-linecap="round"/><path d="M321.38,1609.51 C336.08,1626.81 328.8,1646.39 353.75,1670.79 C371.6,1687.77 386.81,1689.65 397.07,1678.87 C407.32,1668.09 404.68,1653 386.84,1636.02 C361.22,1612.31 342.04,1620.56 324.02,1606.73Z" fill="#4c6b31" stroke="none" stroke-width="0"/><line x1="307.5" y1="1591" x2="315.1" y2="1572.6" stroke="#4c6b31" stroke-width="2" stroke-linecap="round"/><ellipse cx="322.1" cy="1572.6" rx="7" ry="7" transform="rotate(0 322.1 1572.6)" fill="#4c6b31" stroke="none" stroke-width="0"/></g>
<rect x="423" y="1473.2" width="238.2" height="235.4" fill="#070404" stroke="none" stroke-width="0"/>
<g clip-path="url(#cp2_0)">
<line x1="562" y1="1595.5" x2="541.37" y2="1573.56" stroke="#6fbf2c" stroke-width="2.3" stroke-linecap="round"/><path d="M542.51,1573.43 C542.12,1558.06 552.16,1551.32 549.76,1527.77 C547.87,1511.17 541.83,1503.45 533.51,1504.39 C525.2,1505.34 521.04,1514.22 522.93,1530.82 C525.87,1554.3 537.16,1558.62 540.23,1573.69Z" fill="#6fbf2c" stroke="#f07818" stroke-width="1.6"/><line x1="562" y1="1595.5" x2="559.82" y2="1579.26" stroke="#6fbf2c" stroke-width="2.98" stroke-linecap="round"/><path d="M561.31,1579.28 C563.31,1557.91 577.31,1550.29 578.05,1517.24 C578.33,1493.9 571.82,1482.15 560.97,1482.03 C550.12,1481.9 543.33,1493.49 543.05,1516.82 C543.01,1549.89 556.83,1557.83 558.33,1579.24Z" fill="#6fbf2c" stroke="#f07818" stroke-width="1.6"/><line x1="562" y1="1595.5" x2="534.85" y2="1598.37" stroke="#6fbf2c" stroke-width="4.76" stroke-linecap="round"/><path d="M534.53,1596.01 C512.72,1596.07 502,1575.04 468.78,1578.88 C445.39,1581.98 435.09,1594.08 437.37,1611.29 C439.65,1628.5 452.75,1637.5 476.14,1634.39 C509.21,1629.44 514.08,1606.34 535.16,1600.73Z" fill="#6fbf2c" stroke="#f07818" stroke-width="1.6"/><line x1="562" y1="1595.5" x2="558.33" y2="1593.58" stroke="#6fbf2c" stroke-width="2.2" stroke-linecap="round"/><path d="M558.87,1592.62 C551.14,1586.92 552.39,1577.75 539.7,1570.22 C530.67,1565.05 524.07,1566.08 520.68,1572 C517.29,1577.92 519.73,1584.13 528.76,1589.31 C541.67,1596.46 548.95,1590.74 557.78,1594.53Z" fill="#6fbf2c" stroke="#f07818" stroke-width="1.6"/><line x1="562" y1="1595.5" x2="538.4" y2="1619.4" stroke="#6fbf2c" stroke-width="2.89" stroke-linecap="round"/><ellipse cx="522.4" cy="1619.4" rx="16" ry="17" transform="rotate(0 522.4 1619.4)" fill="#6fbf2c" stroke="#f07818" stroke-width="1.6"/><line x1="562" y1="1595.5" x2="557.18" y2="1607.69" stroke="#6fbf2c" stroke-width="2.89" stroke-linecap="round"/><path d="M555.83,1607.17 C547.07,1625.18 531.85,1627.09 520.44,1655.76 C512.62,1676.07 514.73,1688.55 524.57,1692.34 C534.4,1696.13 544.34,1688.3 552.17,1667.98 C562.94,1639.07 552.94,1627.44 558.53,1608.21Z" fill="#6fbf2c" stroke="#f07818" stroke-width="1.6"/><line x1="562" y1="1595.5" x2="574.88" y2="1608.29" stroke="#6fbf2c" stroke-width="2.72" stroke-linecap="round"/><path d="M573.97,1609.31 C588.51,1624.35 585.74,1638.9 609.64,1660.55 C626.66,1675.65 639.2,1678.66 645.79,1671.24 C652.37,1663.82 647.9,1651.72 630.88,1636.61 C606.56,1615.45 592.44,1619.93 575.78,1607.27Z" fill="#6fbf2c" stroke="#f07818" stroke-width="1.6"/><line x1="562" y1="1595.5" x2="601.6" y2="1592.2" stroke="#6fbf2c" stroke-width="3.06" stroke-linecap="round"/><ellipse cx="620.6" cy="1592.2" rx="19" ry="18" transform="rotate(0 620.6 1592.2)" fill="#6fbf2c" stroke="#f07818" stroke-width="1.6"/><line x1="562" y1="1595.5" x2="566.18" y2="1593.68" stroke="#6fbf2c" stroke-width="2.2" stroke-linecap="round"/><path d="M566.21,1594.78 C577.99,1595.36 582.45,1602.06 600.62,1601.73 C613.44,1601.37 619.76,1597.78 619.6,1592.2 C619.44,1586.62 612.94,1583.38 600.12,1583.74 C581.96,1584.42 577.88,1591.36 566.15,1592.59Z" fill="#6fbf2c" stroke="#f07818" stroke-width="1.6"/><line x1="562" y1="1595.5" x2="566" y2="1570.7" stroke="#6fbf2c" stroke-width="2.2" stroke-linecap="round"/><ellipse cx="572" cy="1570.7" rx="6" ry="8" transform="rotate(0 572 1570.7)" fill="#6fbf2c" stroke="#f07818" stroke-width="1.6"/><line x1="562" y1="1595.5" x2="563.6" y2="1603.6" stroke="#6fbf2c" stroke-width="2.2" stroke-linecap="round"/><ellipse cx="563.6" cy="1613.6" rx="10" ry="6" transform="rotate(90 563.6 1613.6)" fill="#6fbf2c" stroke="#f07818" stroke-width="1.6"/>
</g>
<rect x="667.6" y="1473.2" width="247.6" height="235.3" fill="#070404" stroke="none" stroke-width="0"/>
<g clip-path="url(#cp3_0)">
<line x1="812.3" y1="1596.1" x2="789.87" y2="1573.55" stroke="#1b2c8c" stroke-width="2.3" stroke-linecap="round"/><path d="M791.01,1573.41 C790.52,1557.16 801.26,1549.95 798.58,1525.07 C796.49,1507.54 790.01,1499.42 781.15,1500.48 C772.28,1501.53 767.9,1510.95 769.99,1528.49 C773.24,1553.3 785.38,1557.78 788.73,1573.68Z" fill="#1b2c8c" stroke="#182680" stroke-width="0.8"/><line x1="812.3" y1="1596.1" x2="809.94" y2="1579.71" stroke="#1b2c8c" stroke-width="2.98" stroke-linecap="round"/><path d="M811.43,1579.72 C813.56,1557.1 828.59,1549.03 829.37,1514.04 C829.66,1489.33 822.71,1476.89 811.14,1476.76 C799.57,1476.63 792.33,1488.9 792.04,1513.6 C792.01,1548.61 806.85,1557.02 808.45,1579.69Z" fill="#1b2c8c" stroke="#182680" stroke-width="0.8"/><line x1="812.3" y1="1596.1" x2="782.22" y2="1599.02" stroke="#1b2c8c" stroke-width="4.76" stroke-linecap="round"/><path d="M781.91,1596.66 C758.45,1596.71 746.97,1574.1 711.23,1578.16 C686.06,1581.44 674.94,1594.33 677.34,1612.69 C679.73,1631.05 693.78,1640.66 718.95,1637.38 C754.54,1632.14 759.84,1607.35 782.52,1601.38Z" fill="#1b2c8c" stroke="#182680" stroke-width="0.8"/><line x1="812.3" y1="1596.1" x2="808.07" y2="1594.22" stroke="#1b2c8c" stroke-width="2.2" stroke-linecap="round"/><path d="M808.61,1593.26 C800.3,1587.21 801.61,1577.36 787.99,1569.38 C778.29,1563.89 771.25,1565.02 767.67,1571.35 C764.09,1577.68 766.74,1584.31 776.43,1589.8 C790.29,1597.37 798.06,1591.17 807.53,1595.18Z" fill="#1b2c8c" stroke="#182680" stroke-width="0.8"/><line x1="812.3" y1="1596.1" x2="786.2" y2="1621.03" stroke="#1b2c8c" stroke-width="2.89" stroke-linecap="round"/><ellipse cx="769.14" cy="1621.03" rx="17.06" ry="18.13" transform="rotate(0 769.14 1621.03)" fill="#1b2c8c" stroke="#182680" stroke-width="0.8"/><line x1="812.3" y1="1596.1" x2="806.86" y2="1608.33" stroke="#1b2c8c" stroke-width="2.89" stroke-linecap="round"/><path d="M805.51,1607.8 C796.12,1626.87 779.8,1628.76 767.56,1659.11 C759.15,1680.63 761.36,1693.89 771.83,1697.99 C782.3,1702.08 792.92,1693.82 801.33,1672.31 C812.9,1641.69 802.19,1629.24 808.21,1608.85Z" fill="#1b2c8c" stroke="#182680" stroke-width="0.8"/><line x1="812.3" y1="1596.1" x2="826.73" y2="1609.1" stroke="#1b2c8c" stroke-width="2.72" stroke-linecap="round"/><path d="M825.83,1610.13 C841.47,1626.07 838.58,1641.68 864.26,1664.58 C882.55,1680.57 895.96,1683.68 902.92,1675.72 C909.88,1667.75 905.01,1654.88 886.72,1638.89 C860.59,1616.5 845.51,1621.45 827.62,1608.08Z" fill="#1b2c8c" stroke="#182680" stroke-width="0.8"/><line x1="812.3" y1="1596.1" x2="855.91" y2="1592.66" stroke="#1b2c8c" stroke-width="3.06" stroke-linecap="round"/><ellipse cx="876.17" cy="1592.66" rx="20.26" ry="19.2" transform="rotate(0 876.17 1592.66)" fill="#1b2c8c" stroke="#182680" stroke-width="0.8"/><line x1="812.3" y1="1596.1" x2="817.18" y2="1594.21" stroke="#1b2c8c" stroke-width="2.2" stroke-linecap="round"/><path d="M817.21,1595.31 C829.84,1595.93 834.63,1603.15 854.12,1602.81 C867.88,1602.44 874.66,1598.61 874.5,1592.66 C874.34,1586.71 867.36,1583.25 853.6,1583.62 C834.12,1584.34 829.73,1591.81 817.15,1593.11Z" fill="#1b2c8c" stroke="#182680" stroke-width="0.8"/><line x1="812.3" y1="1596.1" x2="816.8" y2="1570.23" stroke="#1b2c8c" stroke-width="2.2" stroke-linecap="round"/><ellipse cx="823.2" cy="1570.23" rx="6.4" ry="8.53" transform="rotate(0 823.2 1570.23)" fill="#1b2c8c" stroke="#182680" stroke-width="0.8"/><line x1="812.3" y1="1596.1" x2="814.04" y2="1604.31" stroke="#1b2c8c" stroke-width="2.2" stroke-linecap="round"/><ellipse cx="814.04" cy="1614.98" rx="10.66" ry="6.4" transform="rotate(90 814.04 1614.98)" fill="#1b2c8c" stroke="#182680" stroke-width="0.8"/>
</g>
<rect x="922" y="1473.8" width="241.8" height="234.7" fill="#070404" stroke="none" stroke-width="0"/>
<g clip-path="url(#cp4_0)">
<line x1="1064.3" y1="1593.9" x2="1042.55" y2="1572.13" stroke="#96ae2e" stroke-width="2.3" stroke-linecap="round"/><path d="M1043.69,1571.99 C1043.21,1556.27 1053.57,1549.3 1050.97,1525.23 C1048.94,1508.26 1042.66,1500.41 1034.08,1501.44 C1025.5,1502.47 1021.26,1511.58 1023.29,1528.55 C1026.45,1552.55 1038.16,1556.88 1041.41,1572.26Z" fill="#96ae2e" stroke="#849c2a" stroke-width="0.8"/><line x1="1064.3" y1="1593.9" x2="1062.01" y2="1578.1" stroke="#96ae2e" stroke-width="2.98" stroke-linecap="round"/><path d="M1063.5,1578.11 C1065.56,1556.22 1080.07,1548.42 1080.82,1514.56 C1081.1,1490.65 1074.37,1478.62 1063.17,1478.49 C1051.97,1478.36 1044.96,1490.23 1044.69,1514.14 C1044.66,1548.01 1058.97,1556.14 1060.53,1578.08Z" fill="#96ae2e" stroke="#849c2a" stroke-width="0.8"/><line x1="1064.3" y1="1593.9" x2="1035.09" y2="1596.72" stroke="#96ae2e" stroke-width="4.76" stroke-linecap="round"/><path d="M1034.78,1594.36 C1012.06,1594.4 1000.95,1572.59 966.33,1576.51 C941.95,1579.69 931.17,1592.17 933.49,1609.94 C935.8,1627.72 949.41,1637.03 973.8,1633.85 C1008.27,1628.78 1013.42,1604.85 1035.4,1599.08Z" fill="#96ae2e" stroke="#849c2a" stroke-width="0.8"/><line x1="1064.3" y1="1593.9" x2="1060.18" y2="1592.09" stroke="#96ae2e" stroke-width="2.2" stroke-linecap="round"/><path d="M1060.72,1591.14 C1052.67,1585.28 1053.92,1575.77 1040.73,1568.05 C1031.33,1562.74 1024.51,1563.84 1021.05,1569.97 C1017.58,1576.1 1020.15,1582.51 1029.55,1587.82 C1042.96,1595.15 1050.47,1589.17 1059.64,1593.05Z" fill="#96ae2e" stroke="#849c2a" stroke-width="0.8"/><line x1="1064.3" y1="1593.9" x2="1038.96" y2="1617.99" stroke="#96ae2e" stroke-width="2.89" stroke-linecap="round"/><ellipse cx="1022.44" cy="1617.99" rx="16.52" ry="17.55" transform="rotate(0 1022.44 1617.99)" fill="#96ae2e" stroke="#849c2a" stroke-width="0.8"/><line x1="1064.3" y1="1593.9" x2="1059.01" y2="1605.68" stroke="#96ae2e" stroke-width="2.89" stroke-linecap="round"/><path d="M1057.67,1605.15 C1048.57,1623.6 1032.81,1625.44 1020.95,1654.81 C1012.81,1675.63 1014.95,1688.47 1025.08,1692.43 C1035.22,1696.4 1045.5,1688.42 1053.64,1667.6 C1064.85,1637.97 1054.53,1625.93 1060.36,1606.21Z" fill="#96ae2e" stroke="#849c2a" stroke-width="0.8"/><line x1="1064.3" y1="1593.9" x2="1078.32" y2="1606.44" stroke="#96ae2e" stroke-width="2.72" stroke-linecap="round"/><path d="M1077.42,1607.46 C1092.57,1622.89 1089.81,1637.97 1114.69,1660.13 C1132.4,1675.6 1145.39,1678.61 1152.12,1670.89 C1158.86,1663.18 1154.13,1650.71 1136.42,1635.25 C1111.11,1613.58 1096.54,1618.35 1079.21,1605.42Z" fill="#96ae2e" stroke="#849c2a" stroke-width="0.8"/><line x1="1064.3" y1="1593.9" x2="1106.62" y2="1590.57" stroke="#96ae2e" stroke-width="3.06" stroke-linecap="round"/><ellipse cx="1126.24" cy="1590.57" rx="19.62" ry="18.59" transform="rotate(0 1126.24 1590.57)" fill="#96ae2e" stroke="#849c2a" stroke-width="0.8"/><line x1="1064.3" y1="1593.9" x2="1069.06" y2="1592.07" stroke="#96ae2e" stroke-width="2.2" stroke-linecap="round"/><path d="M1069.08,1593.17 C1081.32,1593.77 1085.96,1600.72 1104.84,1600.4 C1118.16,1600.04 1124.73,1596.33 1124.57,1590.57 C1124.42,1584.81 1117.66,1581.46 1104.33,1581.82 C1085.46,1582.52 1081.21,1589.71 1069.03,1590.97Z" fill="#96ae2e" stroke="#849c2a" stroke-width="0.8"/><line x1="1064.3" y1="1593.9" x2="1068.67" y2="1568.9" stroke="#96ae2e" stroke-width="2.2" stroke-linecap="round"/><ellipse cx="1074.87" cy="1568.9" rx="6.2" ry="8.26" transform="rotate(0 1074.87 1568.9)" fill="#96ae2e" stroke="#849c2a" stroke-width="0.8"/><line x1="1064.3" y1="1593.9" x2="1065.99" y2="1601.82" stroke="#96ae2e" stroke-width="2.2" stroke-linecap="round"/><ellipse cx="1065.99" cy="1612.14" rx="10.32" ry="6.2" transform="rotate(90 1065.99 1612.14)" fill="#96ae2e" stroke="#849c2a" stroke-width="0.8"/>
</g>
<rect x="1170.2" y="1475" width="222.8" height="232.8" fill="#3a3736" stroke="none" stroke-width="0"/>
<rect x="151.7" y="1715.3" width="264.8" height="253.4" fill="#0c0a0a" stroke="none" stroke-width="0"/>
<rect x="173.3" y="1740.1" width="219.7" height="216" rx="32" fill="#1e140f" stroke="#2e2a28" stroke-width="3.6"/>
<rect x="175.8" y="1742.6" width="214.7" height="211" rx="29" fill="#000" filter="url(#soiltex1)"/>
<g clip-path="url(#cp1_1)"><line x1="276.3" y1="1829.3" x2="270.18" y2="1819.14" stroke="#566d33" stroke-width="3.52" stroke-linecap="round"/><path d="M271.94,1819.19 C274.72,1798.14 292.53,1790.95 293.87,1758.33 C294.51,1735.29 286.47,1723.55 272.83,1723.17 C259.2,1722.79 250.52,1734.08 249.89,1757.11 C249.42,1789.75 266.8,1797.92 268.42,1819.09Z" fill="#566d33" stroke="none" stroke-width="0"/><line x1="276.3" y1="1829.3" x2="262.57" y2="1817.05" stroke="#566d33" stroke-width="3.68" stroke-linecap="round"/><path d="M263.8,1815.68 C250.44,1800.58 257.33,1782.03 234.61,1760.98 C218.36,1746.37 204.39,1745.57 194.86,1756.17 C185.33,1766.78 187.61,1780.58 203.86,1795.19 C227.19,1815.55 244.91,1806.74 261.34,1818.42Z" fill="#566d33" stroke="none" stroke-width="0"/><line x1="276.3" y1="1829.3" x2="296.71" y2="1815.17" stroke="#566d33" stroke-width="4.32" stroke-linecap="round"/><path d="M298.23,1816.71 C317.31,1801.6 338.76,1810.75 365.69,1784.82 C384.43,1766.25 386.57,1749.68 374.79,1737.79 C363.01,1725.9 346.41,1727.9 327.68,1746.47 C301.51,1773.16 310.47,1794.7 295.19,1813.64Z" fill="#566d33" stroke="none" stroke-width="0"/><line x1="276.3" y1="1829.3" x2="244.3" y2="1855" stroke="#566d33" stroke-width="2.88" stroke-linecap="round"/><ellipse cx="221.3" cy="1855" rx="23" ry="18" transform="rotate(0 221.3 1855)" fill="#566d33" stroke="none" stroke-width="0"/><line x1="276.3" y1="1829.3" x2="269.55" y2="1844.68" stroke="#566d33" stroke-width="3.2" stroke-linecap="round"/><path d="M268.21,1843.81 C256.99,1857.38 240.11,1853.99 225.03,1876.43 C214.61,1892.42 215.78,1904.57 226.17,1911.33 C236.56,1918.1 248.14,1914.24 258.55,1898.25 C272.96,1875.37 263.02,1861.31 270.89,1845.56Z" fill="#566d33" stroke="none" stroke-width="0"/><line x1="276.3" y1="1829.3" x2="284.5" y2="1892.1" stroke="#566d33" stroke-width="3.84" stroke-linecap="round"/><ellipse cx="284.5" cy="1919.1" rx="27" ry="24" transform="rotate(90 284.5 1919.1)" fill="#566d33" stroke="none" stroke-width="0"/><line x1="276.3" y1="1829.3" x2="296.54" y2="1835.35" stroke="#566d33" stroke-width="2.24" stroke-linecap="round"/><path d="M296.44,1836.47 C308.76,1838.95 312.31,1850.5 331.52,1852.46 C345.09,1853.65 352.34,1848.95 353.1,1840.3 C353.86,1831.65 347.53,1825.76 333.96,1824.57 C314.7,1823.17 309.2,1833.93 296.64,1834.23Z" fill="#566d33" stroke="none" stroke-width="0"/><line x1="276.3" y1="1829.3" x2="282.31" y2="1827.62" stroke="#566d33" stroke-width="2" stroke-linecap="round"/><path d="M282.17,1828.61 C295.22,1831.63 298.71,1841.77 319.1,1844.84 C333.52,1846.85 341.35,1843.33 342.37,1835.96 C343.4,1828.59 336.82,1823.07 322.4,1821.07 C301.95,1818.47 295.83,1827.27 282.45,1826.63Z" fill="#566d33" stroke="none" stroke-width="0"/><line x1="276.3" y1="1829.3" x2="294.36" y2="1842.68" stroke="#566d33" stroke-width="3.52" stroke-linecap="round"/><path d="M293.36,1844.13 C309.96,1858.2 306.49,1877.16 333.81,1896.46 C353.28,1909.82 367.74,1909.61 375.46,1898.37 C383.18,1887.12 378.18,1873.55 358.72,1860.18 C330.89,1841.61 314.44,1851.67 295.36,1841.23Z" fill="#566d33" stroke="none" stroke-width="0"/><line x1="276.3" y1="1829.3" x2="280.6" y2="1864.1" stroke="#566d33" stroke-width="2" stroke-linecap="round"/><ellipse cx="272.6" cy="1864.1" rx="8" ry="8" transform="rotate(0 272.6 1864.1)" fill="#566d33" stroke="none" stroke-width="0"/><line x1="276.3" y1="1829.3" x2="264.8" y2="1834.8" stroke="#566d33" stroke-width="2" stroke-linecap="round"/><ellipse cx="259.8" cy="1834.8" rx="5" ry="5" transform="rotate(0 259.8 1834.8)" fill="#566d33" stroke="none" stroke-width="0"/></g>
<rect x="423" y="1715.3" width="237.6" height="253.5" fill="#070404" stroke="none" stroke-width="0"/>
<g clip-path="url(#cp2_1)">
<line x1="530.6" y1="1842.4" x2="531.19" y2="1826.19" stroke="#76c232" stroke-width="4.35" stroke-linecap="round"/><path d="M533.36,1826.37 C537.75,1803.93 558.7,1797.34 562.04,1762.39 C564.04,1737.69 555.34,1724.55 539.52,1723.27 C523.7,1721.99 513.01,1733.56 511.01,1758.26 C508.69,1793.29 528.3,1803.17 529.02,1826.02Z" fill="#76c232" stroke="#f07018" stroke-width="1.6"/><line x1="530.6" y1="1842.4" x2="515.32" y2="1823.16" stroke="#76c232" stroke-width="4.42" stroke-linecap="round"/><path d="M516.81,1821.53 C503,1805.4 511.28,1784.97 487.58,1762.63 C470.61,1747.13 455.46,1746.67 444.59,1758.57 C433.72,1770.48 435.54,1785.52 452.52,1801.03 C476.92,1822.6 496.51,1812.51 513.83,1824.8Z" fill="#76c232" stroke="#f07018" stroke-width="1.6"/><line x1="530.6" y1="1842.4" x2="555.48" y2="1824.17" stroke="#76c232" stroke-width="4.59" stroke-linecap="round"/><path d="M557.02,1825.87 C577.56,1810.83 598.81,1820.51 628.11,1794.59 C648.53,1776 651.84,1759.12 640.57,1746.74 C629.3,1734.36 612.19,1736.06 591.76,1754.65 C563.2,1781.37 570.84,1803.44 553.93,1822.48Z" fill="#76c232" stroke="#f07018" stroke-width="1.6"/><line x1="530.6" y1="1842.4" x2="487.9" y2="1854" stroke="#76c232" stroke-width="3.4" stroke-linecap="round"/><ellipse cx="462.9" cy="1854" rx="25" ry="20" transform="rotate(0 462.9 1854)" fill="#76c232" stroke="#f07018" stroke-width="1.6"/><line x1="530.6" y1="1842.4" x2="520.16" y2="1851.5" stroke="#76c232" stroke-width="3.74" stroke-linecap="round"/><path d="M518.8,1850.22 C504.05,1862.69 486.52,1855.79 465.87,1877.11 C451.53,1892.36 450.44,1905.72 460.38,1915.06 C470.31,1924.41 483.58,1922.51 497.92,1907.25 C517.93,1885.34 509.97,1868.27 521.53,1852.78Z" fill="#76c232" stroke="#f07018" stroke-width="1.6"/><line x1="530.6" y1="1842.4" x2="540.5" y2="1894.3" stroke="#76c232" stroke-width="5.27" stroke-linecap="round"/><ellipse cx="540.5" cy="1928.3" rx="34" ry="31" transform="rotate(90 540.5 1928.3)" fill="#76c232" stroke="#f07018" stroke-width="1.6"/><line x1="530.6" y1="1842.4" x2="538.96" y2="1843.28" stroke="#76c232" stroke-width="2.72" stroke-linecap="round"/><path d="M538.95,1844.64 C556.28,1846.4 562.47,1859.18 589.27,1859.74 C608.19,1859.91 617.71,1853.92 617.8,1844 C617.89,1834.08 608.49,1827.91 589.56,1827.74 C562.76,1827.82 556.33,1840.48 538.97,1841.92Z" fill="#76c232" stroke="#f07018" stroke-width="1.6"/><line x1="530.6" y1="1842.4" x2="553.56" y2="1856.41" stroke="#76c232" stroke-width="4.25" stroke-linecap="round"/><path d="M552.4,1858.2 C570.6,1872.99 566.89,1894.28 596.85,1914.32 C618.18,1928.17 634.02,1927.12 642.46,1914.12 C650.9,1901.12 645.41,1886.23 624.07,1872.38 C593.57,1853.18 575.63,1865.23 554.71,1854.63Z" fill="#76c232" stroke="#f07018" stroke-width="1.6"/><line x1="530.6" y1="1842.4" x2="538.26" y2="1854.48" stroke="#76c232" stroke-width="2.2" stroke-linecap="round"/><ellipse cx="541" cy="1862" rx="8" ry="6" transform="rotate(70 541 1862)" fill="#76c232" stroke="#f07018" stroke-width="1.6"/><line x1="530.6" y1="1842.4" x2="519" y2="1838" stroke="#76c232" stroke-width="2.2" stroke-linecap="round"/><ellipse cx="512" cy="1838" rx="7" ry="5" transform="rotate(0 512 1838)" fill="#76c232" stroke="#f07018" stroke-width="1.6"/>
</g>
<rect x="667.3" y="1716.4" width="249.1" height="252.9" fill="#070404" stroke="none" stroke-width="0"/>
<g clip-path="url(#cp3_1)">
<line x1="785.6" y1="1840.6" x2="786.13" y2="1824.27" stroke="#142e8e" stroke-width="4.35" stroke-linecap="round"/><path d="M788.3,1824.44 C792.54,1802.6 812.76,1796.15 815.99,1762.12 C817.91,1738.08 809.49,1725.3 794.16,1724.07 C778.84,1722.84 768.49,1734.11 766.56,1758.16 C764.32,1792.27 783.26,1801.85 783.96,1824.09Z" fill="#142e8e" stroke="#122a80" stroke-width="0.8"/><line x1="785.6" y1="1840.6" x2="771.28" y2="1821.46" stroke="#142e8e" stroke-width="4.42" stroke-linecap="round"/><path d="M772.78,1819.84 C759.51,1804.14 767.61,1784.45 744.79,1762.67 C728.45,1747.56 713.78,1747.03 703.18,1758.49 C692.58,1769.96 694.26,1784.54 710.6,1799.65 C734.1,1820.69 753.09,1811.08 769.78,1823.09Z" fill="#142e8e" stroke="#122a80" stroke-width="0.8"/><line x1="785.6" y1="1840.6" x2="809.03" y2="1822.4" stroke="#142e8e" stroke-width="4.59" stroke-linecap="round"/><path d="M810.59,1824.09 C830.37,1809.41 850.96,1818.61 879.15,1793.34 C898.8,1775.24 901.89,1758.88 890.9,1746.96 C879.92,1735.03 863.36,1736.78 843.71,1754.88 C816.23,1780.92 823.72,1802.19 807.48,1820.71Z" fill="#142e8e" stroke="#122a80" stroke-width="0.8"/><line x1="785.6" y1="1840.6" x2="745.29" y2="1852.01" stroke="#142e8e" stroke-width="3.4" stroke-linecap="round"/><ellipse cx="721.08" cy="1852.01" rx="24.21" ry="19.37" transform="rotate(0 721.08 1852.01)" fill="#142e8e" stroke="#122a80" stroke-width="0.8"/><line x1="785.6" y1="1840.6" x2="775.87" y2="1849.79" stroke="#142e8e" stroke-width="3.74" stroke-linecap="round"/><path d="M774.5,1848.52 C760.27,1860.68 743.31,1854.13 723.42,1874.87 C709.59,1889.72 708.61,1902.66 718.28,1911.66 C727.95,1920.66 740.79,1918.76 754.61,1903.91 C773.88,1882.58 766.13,1866.13 777.24,1851.06Z" fill="#142e8e" stroke="#122a80" stroke-width="0.8"/><line x1="785.6" y1="1840.6" x2="795.03" y2="1892.2" stroke="#142e8e" stroke-width="5.27" stroke-linecap="round"/><ellipse cx="795.03" cy="1925.13" rx="32.93" ry="30.02" transform="rotate(90 795.03 1925.13)" fill="#142e8e" stroke="#122a80" stroke-width="0.8"/><line x1="785.6" y1="1840.6" x2="793.26" y2="1841.47" stroke="#142e8e" stroke-width="2.72" stroke-linecap="round"/><path d="M793.25,1842.83 C809.95,1844.53 815.92,1856.86 841.76,1857.41 C860,1857.58 869.17,1851.78 869.26,1842.17 C869.35,1832.57 860.28,1826.59 842.04,1826.42 C816.2,1826.49 810.01,1838.71 793.27,1840.11Z" fill="#142e8e" stroke="#122a80" stroke-width="0.8"/><line x1="785.6" y1="1840.6" x2="807.18" y2="1854.59" stroke="#142e8e" stroke-width="4.25" stroke-linecap="round"/><path d="M806.01,1856.36 C823.51,1870.76 819.82,1891.29 848.65,1910.81 C869.18,1924.3 884.51,1923.36 892.75,1910.81 C900.99,1898.27 895.78,1883.83 875.24,1870.34 C845.88,1851.62 828.5,1863.16 808.34,1852.81Z" fill="#142e8e" stroke="#122a80" stroke-width="0.8"/><line x1="785.6" y1="1840.6" x2="792.86" y2="1852.61" stroke="#142e8e" stroke-width="2.2" stroke-linecap="round"/><ellipse cx="795.51" cy="1859.89" rx="7.75" ry="5.81" transform="rotate(70 795.51 1859.89)" fill="#142e8e" stroke="#122a80" stroke-width="0.8"/><line x1="785.6" y1="1840.6" x2="774.65" y2="1836.27" stroke="#142e8e" stroke-width="2.2" stroke-linecap="round"/><ellipse cx="767.87" cy="1836.27" rx="6.78" ry="4.84" transform="rotate(0 767.87 1836.27)" fill="#142e8e" stroke="#122a80" stroke-width="0.8"/>
</g>
<rect x="923" y="1716.4" width="241" height="252.9" fill="#070404" stroke="none" stroke-width="0"/>
<g clip-path="url(#cp4_1)">
<line x1="1029" y1="1840.6" x2="1029.61" y2="1824.2" stroke="#7aa636" stroke-width="4.35" stroke-linecap="round"/><path d="M1031.78,1824.37 C1036.24,1801.57 1057.58,1794.88 1060.98,1759.35 C1063.02,1734.25 1054.17,1720.9 1038.08,1719.59 C1021.99,1718.29 1011.12,1730.04 1009.08,1755.15 C1006.72,1790.76 1026.71,1800.8 1027.44,1824.02Z" fill="#7aa636" stroke="#6a9630" stroke-width="0.8"/><line x1="1029" y1="1840.6" x2="1013.39" y2="1821.1" stroke="#7aa636" stroke-width="4.42" stroke-linecap="round"/><path d="M1014.88,1819.47 C1000.83,1803.08 1009.26,1782.26 985.14,1759.56 C967.87,1743.81 952.46,1743.35 941.41,1755.47 C930.37,1767.58 932.24,1782.88 949.51,1798.63 C974.34,1820.56 994.29,1810.25 1011.9,1822.74Z" fill="#7aa636" stroke="#6a9630" stroke-width="0.8"/><line x1="1029" y1="1840.6" x2="1054.38" y2="1822.13" stroke="#7aa636" stroke-width="4.59" stroke-linecap="round"/><path d="M1055.93,1823.83 C1076.83,1808.55 1098.46,1818.44 1128.28,1792.1 C1149.07,1773.21 1152.44,1756.04 1140.99,1743.44 C1129.55,1730.84 1112.14,1732.56 1091.35,1751.45 C1062.27,1778.61 1070.05,1801.09 1052.84,1820.44Z" fill="#7aa636" stroke="#6a9630" stroke-width="0.8"/><line x1="1029" y1="1840.6" x2="985.44" y2="1852.37" stroke="#7aa636" stroke-width="3.4" stroke-linecap="round"/><ellipse cx="960.01" cy="1852.37" rx="25.42" ry="20.34" transform="rotate(0 960.01 1852.37)" fill="#7aa636" stroke="#6a9630" stroke-width="0.8"/><line x1="1029" y1="1840.6" x2="1018.34" y2="1849.8" stroke="#7aa636" stroke-width="3.74" stroke-linecap="round"/><path d="M1016.98,1848.52 C1001.96,1861.2 984.12,1854.15 963.11,1875.81 C948.51,1891.32 947.39,1904.9 957.49,1914.41 C967.59,1923.92 981.08,1921.99 995.68,1906.49 C1016.05,1884.22 1007.94,1866.83 1019.7,1851.08Z" fill="#7aa636" stroke="#6a9630" stroke-width="0.8"/><line x1="1029" y1="1840.6" x2="1039.09" y2="1893.21" stroke="#7aa636" stroke-width="5.27" stroke-linecap="round"/><ellipse cx="1039.09" cy="1927.79" rx="34.58" ry="31.53" transform="rotate(90 1039.09 1927.79)" fill="#7aa636" stroke="#6a9630" stroke-width="0.8"/><line x1="1029" y1="1840.6" x2="1037.56" y2="1841.49" stroke="#7aa636" stroke-width="2.72" stroke-linecap="round"/><path d="M1037.55,1842.85 C1055.18,1844.64 1061.48,1857.66 1088.76,1858.23 C1108.01,1858.41 1117.69,1852.31 1117.78,1842.22 C1117.88,1832.14 1108.31,1825.86 1089.05,1825.69 C1061.77,1825.77 1055.24,1838.67 1037.57,1840.13Z" fill="#7aa636" stroke="#6a9630" stroke-width="0.8"/><line x1="1029" y1="1840.6" x2="1052.43" y2="1854.8" stroke="#7aa636" stroke-width="4.25" stroke-linecap="round"/><path d="M1051.27,1856.58 C1069.8,1871.62 1066.03,1893.3 1096.52,1913.67 C1118.23,1927.74 1134.35,1926.67 1142.92,1913.44 C1151.49,1900.21 1145.89,1885.07 1124.17,1870.99 C1093.13,1851.48 1074.88,1863.78 1053.59,1853.02Z" fill="#7aa636" stroke="#6a9630" stroke-width="0.8"/><line x1="1029" y1="1840.6" x2="1036.81" y2="1852.85" stroke="#7aa636" stroke-width="2.2" stroke-linecap="round"/><ellipse cx="1039.6" cy="1860.49" rx="8.14" ry="6.1" transform="rotate(70 1039.6 1860.49)" fill="#7aa636" stroke="#6a9630" stroke-width="0.8"/><line x1="1029" y1="1840.6" x2="1017.17" y2="1836.13" stroke="#7aa636" stroke-width="2.2" stroke-linecap="round"/><ellipse cx="1010.05" cy="1836.13" rx="7.12" ry="5.08" transform="rotate(0 1010.05 1836.13)" fill="#7aa636" stroke="#6a9630" stroke-width="0.8"/>
</g>
<rect x="1170.2" y="1716.6" width="222.8" height="251.7" fill="#3a3736" stroke="none" stroke-width="0"/>
<rect x="149.3" y="1975.3" width="267" height="245.7" fill="#1c0b0c" stroke="none" stroke-width="0"/>
<rect x="186.3" y="1997.5" width="196.2" height="196" rx="36" fill="#301510" stroke="#3e2a2e" stroke-width="3.6"/>
<rect x="188.8" y="2000" width="191.2" height="191" rx="33" fill="#000" filter="url(#soiltex2)"/>
<g clip-path="url(#cp1_2)"><line x1="274.7" y1="2105.3" x2="256.85" y2="2095.34" stroke="#9eac6c" stroke-width="2.4" stroke-linecap="round"/><path d="M257.71,2094.5 C244.02,2078.37 247.23,2064.5 224.63,2040.99 C208.53,2024.54 196.4,2020.31 189.76,2026.81 C183.11,2033.32 187.09,2045.53 203.19,2061.98 C226.22,2085.06 240.16,2082.15 255.99,2096.18Z" fill="#9eac6c" stroke="none" stroke-width="0"/><line x1="274.7" y1="2105.3" x2="276.18" y2="2098.02" stroke="#9eac6c" stroke-width="3.04" stroke-linecap="round"/><path d="M277.67,2097.7 C275.75,2079.77 289.23,2070.19 283.76,2043.02 C279.64,2023.89 270.52,2015.85 259.01,2018.33 C247.49,2020.81 242.49,2031.89 246.62,2051.02 C252.83,2078.04 269.06,2081.21 274.7,2098.34Z" fill="#9eac6c" stroke="none" stroke-width="0"/><line x1="274.7" y1="2105.3" x2="294.58" y2="2096.15" stroke="#9eac6c" stroke-width="3.52" stroke-linecap="round"/><path d="M295.35,2097.73 C314.91,2090.74 329.32,2103.32 358.27,2089.85 C378.57,2080.05 385.08,2067.63 379.15,2055.34 C373.23,2043.06 359.45,2040.42 339.15,2050.22 C310.58,2064.49 311.47,2083.6 293.82,2094.56Z" fill="#9eac6c" stroke="none" stroke-width="0"/><line x1="274.7" y1="2105.3" x2="291" y2="2070" stroke="#9eac6c" stroke-width="2" stroke-linecap="round"/><ellipse cx="305" cy="2070" rx="14" ry="12" transform="rotate(0 305 2070)" fill="#9eac6c" stroke="none" stroke-width="0"/><line x1="274.7" y1="2105.3" x2="294.07" y2="2114.48" stroke="#9eac6c" stroke-width="2" stroke-linecap="round"/><path d="M294.14,2115.48 C312.38,2115.27 319.5,2122.62 347.6,2120.96 C367.42,2119.65 377.08,2115.2 376.68,2109.01 C376.27,2102.83 366.1,2099.69 346.28,2101 C318.21,2103.06 312.11,2111.28 294.01,2113.48Z" fill="#9eac6c" stroke="none" stroke-width="0"/><line x1="274.7" y1="2105.3" x2="251.92" y2="2114.28" stroke="#9eac6c" stroke-width="3.52" stroke-linecap="round"/><path d="M251.41,2112.6 C233.93,2115.52 222.77,2100.49 196.6,2107.85 C178.22,2113.34 171.42,2124.1 175.32,2137.16 C179.23,2150.23 190.81,2155.5 209.19,2150.01 C235.11,2141.81 236.2,2123.11 252.42,2115.97Z" fill="#9eac6c" stroke="none" stroke-width="0"/><line x1="274.7" y1="2105.3" x2="275" y2="2155.3" stroke="#b4b880" stroke-width="2.4" stroke-linecap="round"/><ellipse cx="259" cy="2155.3" rx="16" ry="15" transform="rotate(0 259 2155.3)" fill="#b4b880" stroke="none" stroke-width="0"/><line x1="274.7" y1="2105.3" x2="287.52" y2="2126.27" stroke="#9eac6c" stroke-width="2.4" stroke-linecap="round"/><path d="M286.58,2127 C296.19,2141.81 290.64,2154.22 307.08,2175.87 C318.85,2191.01 329.24,2195.09 336.58,2189.38 C343.93,2183.67 342.54,2172.6 330.77,2157.45 C313.85,2136.18 300.45,2138.49 288.47,2125.53Z" fill="#9eac6c" stroke="none" stroke-width="0"/><line x1="274.7" y1="2105.3" x2="285.3" y2="2081.2" stroke="#9eac6c" stroke-width="2" stroke-linecap="round"/><ellipse cx="293.3" cy="2081.2" rx="8" ry="8" transform="rotate(0 293.3 2081.2)" fill="#9eac6c" stroke="none" stroke-width="0"/></g>
<rect x="423" y="1975.3" width="237.6" height="245.7" fill="#070404" stroke="none" stroke-width="0"/>
<g clip-path="url(#cp2_2)">
<line x1="538.9" y1="2109" x2="518.12" y2="2105.2" stroke="#98c832" stroke-width="2.55" stroke-linecap="round"/><path d="M518.74,2104.09 C501.83,2092.82 501.27,2078.81 474.14,2063.15 C454.89,2052.29 442.46,2051.82 437.89,2059.92 C433.31,2068.02 440.14,2078.41 459.4,2089.28 C486.82,2104.41 499.1,2097.65 517.49,2106.31Z" fill="#98c832" stroke="#e8801c" stroke-width="2.8"/><line x1="538.9" y1="2109" x2="450.53" y2="2068.35" stroke="#e0a020" stroke-width="1.6" opacity="0.8"/><line x1="538.9" y1="2109" x2="537.03" y2="2087.23" stroke="#98c832" stroke-width="3.4" stroke-linecap="round"/><path d="M538.47,2086.33 C530.41,2069.72 540.33,2055.62 525.6,2031.38 C514.96,2014.43 503.21,2009.99 492.7,2016.58 C482.2,2023.17 481.08,2035.68 491.72,2052.64 C507.13,2076.45 524.14,2073.65 535.59,2088.14Z" fill="#98c832" stroke="#e8801c" stroke-width="2.8"/><line x1="538.9" y1="2109" x2="501.26" y2="2027.15" stroke="#e0a020" stroke-width="1.6" opacity="0.8"/><line x1="538.9" y1="2109" x2="544.94" y2="2086.43" stroke="#98c832" stroke-width="2.72" stroke-linecap="round"/><path d="M546.27,2086.7 C550.61,2073.43 564.08,2071.02 568.67,2050.07 C571.69,2035.24 567.24,2026.61 557.52,2024.63 C547.8,2022.66 540.33,2028.86 537.31,2043.69 C533.35,2064.76 544.81,2072.25 543.61,2086.16Z" fill="#98c832" stroke="#e8801c" stroke-width="2.8"/><line x1="538.9" y1="2109" x2="555.99" y2="2033.3" stroke="#e0a020" stroke-width="1.6" opacity="0.8"/><line x1="538.9" y1="2109" x2="558.04" y2="2083.09" stroke="#98c832" stroke-width="3.57" stroke-linecap="round"/><path d="M559.5,2084.12 C573.68,2067.65 591.86,2070.83 611.47,2043.74 C625.06,2024.45 625.34,2010.2 614.69,2002.7 C604.05,1995.2 590.73,2000.25 577.13,2019.55 C558.22,2047.12 567.33,2063.17 556.58,2082.07Z" fill="#98c832" stroke="#e8801c" stroke-width="2.8"/><line x1="538.9" y1="2109" x2="606.5" y2="2014.54" stroke="#e0a020" stroke-width="1.6" opacity="0.8"/><line x1="538.9" y1="2109" x2="566.32" y2="2104.29" stroke="#98c832" stroke-width="2.2" stroke-linecap="round"/><path d="M566.54,2105.37 C584.56,2102.66 592.4,2108.04 620.02,2102.66 C639.49,2098.75 648.55,2093.43 647.44,2087.96 C646.34,2082.49 635.93,2081.1 616.46,2085.02 C588.92,2090.75 583.77,2098.74 566.1,2103.21Z" fill="#98c832" stroke="#e8801c" stroke-width="2.8"/><line x1="538.9" y1="2109" x2="635.71" y2="2090.46" stroke="#e0a020" stroke-width="1.6" opacity="0.8"/><line x1="538.9" y1="2109" x2="559.82" y2="2120.87" stroke="#98c832" stroke-width="2.89" stroke-linecap="round"/><path d="M559.02,2122.07 C573.46,2133.6 571.62,2148.57 595.18,2164.48 C611.95,2175.51 623.88,2175.63 629.67,2166.82 C635.47,2158.02 630.63,2147.11 613.87,2136.08 C589.93,2120.74 576.91,2128.35 560.61,2119.66Z" fill="#98c832" stroke="#e8801c" stroke-width="2.8"/><line x1="538.9" y1="2109" x2="619.12" y2="2159.57" stroke="#e0a020" stroke-width="1.6" opacity="0.8"/><line x1="538.9" y1="2109" x2="484.04" y2="2141.91" stroke="#98c832" stroke-width="4.25" stroke-linecap="round"/><ellipse cx="494.3" cy="2170.1" rx="30" ry="25" transform="rotate(70 494.3 2170.1)" fill="#98c832" stroke="#e8801c" stroke-width="2.8"/><line x1="538.9" y1="2109" x2="500.46" y2="2187.01" stroke="#e0a020" stroke-width="1.6" opacity="0.8"/><line x1="538.9" y1="2109" x2="553.7" y2="2142.2" stroke="#98c832" stroke-width="2.47" stroke-linecap="round"/><ellipse cx="553.7" cy="2160.2" rx="18" ry="14.5" transform="rotate(90 553.7 2160.2)" fill="#98c832" stroke="#e8801c" stroke-width="2.8"/><line x1="538.9" y1="2109" x2="566.43" y2="2072.66" stroke="#98c832" stroke-width="2.2" stroke-linecap="round"/><ellipse cx="560" cy="2065" rx="10" ry="7" transform="rotate(50 560 2065)" fill="#98c832" stroke="#e8801c" stroke-width="2.8"/><line x1="538.9" y1="2109" x2="521.54" y2="2081.08" stroke="#98c832" stroke-width="2.2" stroke-linecap="round"/><ellipse cx="530" cy="2078" rx="9" ry="6" transform="rotate(-20 530 2078)" fill="#98c832" stroke="#e8801c" stroke-width="2.8"/>
</g>
<rect x="667.3" y="1975.8" width="249.1" height="246.2" fill="#070404" stroke="none" stroke-width="0"/>
<g clip-path="url(#cp3_2)">
<line x1="789" y1="2117.4" x2="767.99" y2="2113.77" stroke="#1c4c8e" stroke-width="2.55" stroke-linecap="round"/><path d="M768.61,2112.66 C751.74,2101.48 751.13,2087.57 724.07,2072.05 C704.87,2061.29 692.5,2060.84 687.98,2068.9 C683.46,2076.96 690.29,2087.28 709.5,2098.05 C736.84,2113.05 749.04,2106.31 767.37,2114.88Z" fill="#1c4c8e" stroke="#1a4280" stroke-width="0.8"/><line x1="789" y1="2117.4" x2="787.01" y2="2096.12" stroke="#1c4c8e" stroke-width="3.4" stroke-linecap="round"/><path d="M788.45,2095.21 C780.42,2078.77 790.23,2064.75 775.56,2040.77 C764.97,2023.99 753.28,2019.63 742.87,2026.2 C732.45,2032.78 731.36,2045.2 741.96,2061.98 C757.3,2085.54 774.18,2082.71 785.57,2097.03Z" fill="#1c4c8e" stroke="#1a4280" stroke-width="0.8"/><line x1="789" y1="2117.4" x2="795.08" y2="2095.31" stroke="#1c4c8e" stroke-width="2.72" stroke-linecap="round"/><path d="M796.41,2095.58 C800.73,2082.45 814.1,2080.1 818.69,2059.38 C821.7,2044.71 817.29,2036.16 807.64,2034.18 C797.99,2032.19 790.56,2038.31 787.55,2052.98 C783.59,2073.83 794.95,2081.26 793.74,2095.03Z" fill="#1c4c8e" stroke="#1a4280" stroke-width="0.8"/><line x1="789" y1="2117.4" x2="808.31" y2="2092.06" stroke="#1c4c8e" stroke-width="3.57" stroke-linecap="round"/><path d="M809.76,2093.1 C823.9,2076.81 841.93,2080.04 861.49,2053.24 C875.05,2034.15 875.37,2020.01 864.83,2012.52 C854.28,2005.03 841.04,2009.98 827.47,2029.07 C808.6,2056.36 817.59,2072.32 806.85,2091.03Z" fill="#1c4c8e" stroke="#1a4280" stroke-width="0.8"/><line x1="789" y1="2117.4" x2="816.66" y2="2112.8" stroke="#1c4c8e" stroke-width="2.2" stroke-linecap="round"/><path d="M816.87,2113.88 C834.85,2111.2 842.65,2116.54 870.21,2111.23 C889.63,2107.35 898.68,2102.08 897.59,2096.64 C896.51,2091.2 886.13,2089.81 866.7,2093.69 C839.22,2099.36 834.07,2107.29 816.44,2111.72Z" fill="#1c4c8e" stroke="#1a4280" stroke-width="0.8"/><line x1="789" y1="2117.4" x2="810.12" y2="2128.98" stroke="#1c4c8e" stroke-width="2.89" stroke-linecap="round"/><path d="M809.33,2130.19 C823.73,2141.61 821.97,2156.49 845.48,2172.24 C862.2,2183.16 874.07,2183.24 879.79,2174.47 C885.52,2165.7 880.67,2154.87 863.94,2143.95 C840.07,2128.77 827.16,2136.37 810.91,2127.77Z" fill="#1c4c8e" stroke="#1a4280" stroke-width="0.8"/><line x1="789" y1="2117.4" x2="734.07" y2="2149.51" stroke="#1c4c8e" stroke-width="4.25" stroke-linecap="round"/><ellipse cx="744.27" cy="2177.52" rx="29.8" ry="24.84" transform="rotate(70 744.27 2177.52)" fill="#1c4c8e" stroke="#1a4280" stroke-width="0.8"/><line x1="789" y1="2117.4" x2="803.84" y2="2149.9" stroke="#1c4c8e" stroke-width="2.47" stroke-linecap="round"/><ellipse cx="803.84" cy="2167.78" rx="17.88" ry="14.41" transform="rotate(90 803.84 2167.78)" fill="#1c4c8e" stroke="#1a4280" stroke-width="0.8"/><line x1="789" y1="2117.4" x2="816.55" y2="2081.71" stroke="#1c4c8e" stroke-width="2.2" stroke-linecap="round"/><ellipse cx="810.16" cy="2074.1" rx="9.93" ry="6.95" transform="rotate(50 810.16 2074.1)" fill="#1c4c8e" stroke="#1a4280" stroke-width="0.8"/><line x1="789" y1="2117.4" x2="771.67" y2="2089.95" stroke="#1c4c8e" stroke-width="2.2" stroke-linecap="round"/><ellipse cx="780.07" cy="2086.9" rx="8.94" ry="5.96" transform="rotate(-20 780.07 2086.9)" fill="#1c4c8e" stroke="#1a4280" stroke-width="0.8"/>
</g>
<rect x="923" y="1975.8" width="241" height="246.2" fill="#070404" stroke="none" stroke-width="0"/>
<g clip-path="url(#cp4_2)">
<line x1="1041.1" y1="2118.3" x2="1020.55" y2="2114.56" stroke="#2f8c3a" stroke-width="2.55" stroke-linecap="round"/><path d="M1021.18,2113.45 C1004.47,2102.33 1003.91,2088.52 977.12,2073.07 C958.11,2062.35 945.84,2061.89 941.33,2069.88 C936.82,2077.88 943.56,2088.14 962.58,2098.86 C989.66,2113.79 1001.77,2107.13 1019.92,2115.67Z" fill="#2f8c3a" stroke="#2a7e34" stroke-width="0.8"/><line x1="1041.1" y1="2118.3" x2="1039.24" y2="2096.85" stroke="#2f8c3a" stroke-width="3.4" stroke-linecap="round"/><path d="M1040.68,2095.95 C1032.72,2079.56 1042.5,2065.65 1027.95,2041.74 C1017.45,2025.01 1005.84,2020.64 995.48,2027.14 C985.11,2033.65 984.01,2046 994.51,2062.73 C1009.73,2086.23 1026.5,2083.47 1037.8,2097.76Z" fill="#2f8c3a" stroke="#2a7e34" stroke-width="0.8"/><line x1="1041.1" y1="2118.3" x2="1047.07" y2="2096.06" stroke="#2f8c3a" stroke-width="2.72" stroke-linecap="round"/><path d="M1048.4,2096.33 C1052.68,2083.23 1065.96,2080.86 1070.49,2060.19 C1073.48,2045.56 1069.09,2037.05 1059.49,2035.09 C1049.9,2033.14 1042.53,2039.26 1039.55,2053.89 C1035.63,2074.68 1046.92,2082.06 1045.74,2095.79Z" fill="#2f8c3a" stroke="#2a7e34" stroke-width="0.8"/><line x1="1041.1" y1="2118.3" x2="1060.02" y2="2092.77" stroke="#2f8c3a" stroke-width="3.57" stroke-linecap="round"/><path d="M1061.48,2093.8 C1075.48,2077.55 1093.41,2080.69 1112.76,2053.96 C1126.19,2034.93 1126.47,2020.87 1115.96,2013.46 C1105.46,2006.05 1092.31,2011.03 1078.89,2030.07 C1060.21,2057.27 1069.18,2073.1 1058.57,2091.74Z" fill="#2f8c3a" stroke="#2a7e34" stroke-width="0.8"/><line x1="1041.1" y1="2118.3" x2="1068.21" y2="2113.66" stroke="#2f8c3a" stroke-width="2.2" stroke-linecap="round"/><path d="M1068.42,2114.74 C1086.22,2112.07 1093.96,2117.36 1121.23,2112.06 C1140.45,2108.19 1149.4,2102.95 1148.31,2097.55 C1147.23,2092.15 1136.95,2090.78 1117.72,2094.64 C1090.52,2100.29 1085.44,2108.17 1067.99,2112.58Z" fill="#2f8c3a" stroke="#2a7e34" stroke-width="0.8"/><line x1="1041.1" y1="2118.3" x2="1061.78" y2="2129.99" stroke="#2f8c3a" stroke-width="2.89" stroke-linecap="round"/><path d="M1060.99,2131.2 C1075.24,2142.58 1073.44,2157.33 1096.71,2173.03 C1113.26,2183.91 1125.04,2184.03 1130.76,2175.33 C1136.47,2166.64 1131.7,2155.87 1115.14,2144.99 C1091.5,2129.85 1078.67,2137.36 1062.57,2128.78Z" fill="#2f8c3a" stroke="#2a7e34" stroke-width="0.8"/><line x1="1041.1" y1="2118.3" x2="986.91" y2="2150.72" stroke="#2f8c3a" stroke-width="4.25" stroke-linecap="round"/><ellipse cx="997.04" cy="2178.54" rx="29.61" ry="24.68" transform="rotate(70 997.04 2178.54)" fill="#2f8c3a" stroke="#2a7e34" stroke-width="0.8"/><line x1="1041.1" y1="2118.3" x2="1055.72" y2="2151.02" stroke="#2f8c3a" stroke-width="2.47" stroke-linecap="round"/><ellipse cx="1055.72" cy="2168.78" rx="17.77" ry="14.31" transform="rotate(90 1055.72 2168.78)" fill="#2f8c3a" stroke="#2a7e34" stroke-width="0.8"/><line x1="1041.1" y1="2118.3" x2="1068.29" y2="2082.48" stroke="#2f8c3a" stroke-width="2.2" stroke-linecap="round"/><ellipse cx="1061.95" cy="2074.92" rx="9.87" ry="6.91" transform="rotate(50 1061.95 2074.92)" fill="#2f8c3a" stroke="#2a7e34" stroke-width="0.8"/><line x1="1041.1" y1="2118.3" x2="1023.96" y2="2090.77" stroke="#2f8c3a" stroke-width="2.2" stroke-linecap="round"/><ellipse cx="1032.31" cy="2087.73" rx="8.88" ry="5.92" transform="rotate(-20 1032.31 2087.73)" fill="#2f8c3a" stroke="#2a7e34" stroke-width="0.8"/>
</g>
<rect x="1170.2" y="1976.7" width="222.8" height="244.1" fill="#3a3736" stroke="none" stroke-width="0"/>
<rect x="149.3" y="2227.5" width="267.2" height="249" fill="#1a0f14" stroke="none" stroke-width="0"/>
<rect x="186.3" y="2262.4" width="196.3" height="190.7" rx="34" fill="#301512" stroke="#33282e" stroke-width="3.6"/>
<rect x="188.8" y="2264.9" width="191.3" height="185.7" rx="31" fill="#000" filter="url(#soiltex3)"/>
<g clip-path="url(#cp1_3)"><line x1="287.7" y1="2383.2" x2="266.73" y2="2368.43" stroke="#98ac6c" stroke-width="3.52" stroke-linecap="round"/><path d="M267.84,2367.06 C253.31,2352.5 258.58,2334.14 234.27,2313.95 C216.92,2299.94 202.99,2299.45 194.42,2310.06 C185.86,2320.67 189.28,2334.18 206.64,2348.19 C231.5,2367.69 248.34,2358.67 265.63,2369.8Z" fill="#98ac6c" stroke="none" stroke-width="0"/><line x1="287.7" y1="2383.2" x2="289.6" y2="2355.13" stroke="#98ac6c" stroke-width="4.64" stroke-linecap="round"/><path d="M291.87,2354.68 C289.93,2329.94 310.95,2316.65 304.13,2279.17 C298.91,2252.79 285.49,2241.74 267.85,2245.23 C250.22,2248.72 242.01,2264.05 247.23,2290.43 C255.19,2327.68 279.69,2331.97 287.32,2355.58Z" fill="#98ac6c" stroke="none" stroke-width="0"/><line x1="287.7" y1="2383.2" x2="306.8" y2="2354.5" stroke="#c4c894" stroke-width="2.88" stroke-linecap="round"/><ellipse cx="324.8" cy="2354.5" rx="18" ry="18" transform="rotate(0 324.8 2354.5)" fill="#c4c894" stroke="none" stroke-width="0"/><line x1="287.7" y1="2383.2" x2="279.31" y2="2374.02" stroke="#98ac6c" stroke-width="2.08" stroke-linecap="round"/><path d="M279.07,2373 C268.48,2374.18 262.34,2364.94 246.39,2368.46 C235.17,2371.12 230.7,2377.25 232.56,2385.1 C234.42,2392.94 241.17,2396.42 252.39,2393.76 C268.22,2389.74 269.56,2378.73 279.55,2375.03Z" fill="#98ac6c" stroke="none" stroke-width="0"/><line x1="287.7" y1="2383.2" x2="299.43" y2="2385.23" stroke="#98ac6c" stroke-width="3.36" stroke-linecap="round"/><path d="M298.83,2386.8 C319.37,2396.88 321.12,2415.52 353.87,2428.45 C377.09,2437.3 391.54,2434.27 396.18,2422.11 C400.81,2409.94 392.05,2398.06 368.83,2389.21 C335.78,2377.06 322.06,2389.81 300.03,2383.66Z" fill="#98ac6c" stroke="none" stroke-width="0"/><line x1="287.7" y1="2383.2" x2="300.9" y2="2431.4" stroke="#c4c894" stroke-width="2.4" stroke-linecap="round"/><ellipse cx="284.9" cy="2431.4" rx="16" ry="15" transform="rotate(0 284.9 2431.4)" fill="#c4c894" stroke="none" stroke-width="0"/><line x1="287.7" y1="2383.2" x2="305.32" y2="2406.75" stroke="#c4c894" stroke-width="3.2" stroke-linecap="round"/><path d="M304.43,2408.08 C316.86,2418.81 312.87,2435.4 333.57,2449.76 C348.35,2459.65 359.96,2458.29 366.86,2447.99 C373.77,2437.69 370.61,2426.42 355.84,2416.53 C334.69,2402.84 320.86,2412.83 306.21,2405.42Z" fill="#c4c894" stroke="none" stroke-width="0"/></g>
<rect x="423" y="2227.5" width="237.6" height="249.1" fill="#070404" stroke="none" stroke-width="0"/>
<g clip-path="url(#cp2_3)">
<line x1="538.9" y1="2377.5" x2="517.98" y2="2363.95" stroke="#d0c040" stroke-width="3.74" stroke-linecap="round"/><path d="M519.08,2362.44 C505.01,2349.48 509.71,2331.27 486.23,2313.64 C469.47,2301.45 456.17,2302.11 448.15,2313.14 C440.12,2324.17 443.58,2337.03 460.34,2349.22 C484.34,2366.14 500.22,2356.06 516.88,2365.46Z" fill="#d0c040" stroke="#e87020" stroke-width="2.2"/><line x1="538.9" y1="2377.5" x2="535.9" y2="2353.88" stroke="#8ece3c" stroke-width="4.08" stroke-linecap="round"/><path d="M537.93,2354.07 C542.53,2330.44 562.33,2323.52 566.24,2286.7 C568.65,2260.67 560.78,2246.81 545.96,2245.44 C531.15,2244.06 520.86,2256.23 518.44,2282.26 C515.5,2319.18 533.69,2329.62 533.86,2353.7Z" fill="#8ece3c" stroke="#f08a20" stroke-width="2.2"/><line x1="538.9" y1="2377.5" x2="551.6" y2="2352.8" stroke="#e2581e" stroke-width="3.06" stroke-linecap="round"/><ellipse cx="568.6" cy="2352.8" rx="17" ry="18" transform="rotate(0 568.6 2352.8)" fill="#e2581e" stroke="#e04818" stroke-width="2.2"/><line x1="538.9" y1="2377.5" x2="508.6" y2="2384.1" stroke="#8ece3c" stroke-width="2.2" stroke-linecap="round"/><ellipse cx="497.6" cy="2384.1" rx="11" ry="10" transform="rotate(0 497.6 2384.1)" fill="#8ece3c" stroke="#f08a20" stroke-width="2.2"/><line x1="538.9" y1="2377.5" x2="533.94" y2="2372.24" stroke="#8ece3c" stroke-width="2.2" stroke-linecap="round"/><path d="M533.8,2371.15 C525.16,2371.46 521.29,2365.97 508.07,2367.52 C498.75,2368.72 494.48,2372.34 495.11,2377.26 C495.75,2382.18 500.8,2384.59 510.12,2383.39 C523.3,2381.52 525.64,2375.23 534.08,2373.33Z" fill="#8ece3c" stroke="#f08a20" stroke-width="2.2"/><line x1="538.9" y1="2377.5" x2="562.02" y2="2424.38" stroke="#e2581e" stroke-width="3.4" stroke-linecap="round"/><ellipse cx="576.8" cy="2442" rx="23" ry="20" transform="rotate(50 576.8 2442)" fill="#e2581e" stroke="#e04818" stroke-width="2.2"/><line x1="538.9" y1="2377.5" x2="543.7" y2="2428.7" stroke="#e2581e" stroke-width="2.55" stroke-linecap="round"/><ellipse cx="525.7" cy="2428.7" rx="18" ry="15" transform="rotate(0 525.7 2428.7)" fill="#e2581e" stroke="#e04818" stroke-width="2.2"/><line x1="538.9" y1="2377.5" x2="545.88" y2="2385.74" stroke="#8ece3c" stroke-width="2.89" stroke-linecap="round"/><path d="M545.33,2387.08 C565.79,2397.35 568.3,2413.01 600.79,2426.78 C623.81,2436.28 637.79,2435.06 641.81,2425.32 C645.83,2415.57 636.78,2404.85 613.76,2395.35 C581.01,2382.21 568.18,2391.54 546.43,2384.4Z" fill="#8ece3c" stroke="#f08a20" stroke-width="2.2"/><line x1="538.9" y1="2377.5" x2="540.34" y2="2373.43" stroke="#8ece3c" stroke-width="2.2" stroke-linecap="round"/><ellipse cx="548" cy="2367" rx="10" ry="6" transform="rotate(-40 548 2367)" fill="#8ece3c" stroke="#f08a20" stroke-width="2.2"/>
</g>
<rect x="667.3" y="2228.4" width="249.1" height="248.6" fill="#070404" stroke="none" stroke-width="0"/>
<g clip-path="url(#cp3_3)">
<line x1="789.7" y1="2366.9" x2="768.78" y2="2353.35" stroke="#2a6a70" stroke-width="3.74" stroke-linecap="round"/><path d="M769.88,2351.84 C755.81,2338.88 760.51,2320.67 737.03,2303.04 C720.27,2290.85 706.97,2291.51 698.95,2302.54 C690.92,2313.57 694.38,2326.43 711.14,2338.62 C735.14,2355.54 751.02,2345.46 767.68,2354.86Z" fill="#2a6a70" stroke="#245e64" stroke-width="0.8"/><line x1="789.7" y1="2366.9" x2="786.7" y2="2343.28" stroke="#174490" stroke-width="4.08" stroke-linecap="round"/><path d="M788.73,2343.47 C793.33,2319.84 813.13,2312.92 817.04,2276.1 C819.45,2250.07 811.58,2236.21 796.76,2234.84 C781.95,2233.46 771.66,2245.63 769.24,2271.66 C766.3,2308.58 784.49,2319.02 784.66,2343.1Z" fill="#174490" stroke="#153c84" stroke-width="0.8"/><line x1="789.7" y1="2366.9" x2="802.4" y2="2342.2" stroke="#4a3a26" stroke-width="3.06" stroke-linecap="round"/><ellipse cx="819.4" cy="2342.2" rx="17" ry="18" transform="rotate(0 819.4 2342.2)" fill="#4a3a26" stroke="#3e3020" stroke-width="0.8"/><line x1="789.7" y1="2366.9" x2="759.4" y2="2373.5" stroke="#174490" stroke-width="2.2" stroke-linecap="round"/><ellipse cx="748.4" cy="2373.5" rx="11" ry="10" transform="rotate(0 748.4 2373.5)" fill="#174490" stroke="#153c84" stroke-width="0.8"/><line x1="789.7" y1="2366.9" x2="784.74" y2="2361.64" stroke="#174490" stroke-width="2.2" stroke-linecap="round"/><path d="M784.6,2360.55 C775.96,2360.86 772.09,2355.37 758.87,2356.92 C749.55,2358.12 745.28,2361.74 745.91,2366.66 C746.55,2371.58 751.6,2373.99 760.92,2372.79 C774.1,2370.92 776.44,2364.63 784.88,2362.73Z" fill="#174490" stroke="#153c84" stroke-width="0.8"/><line x1="789.7" y1="2366.9" x2="812.82" y2="2413.78" stroke="#4a3a26" stroke-width="3.4" stroke-linecap="round"/><ellipse cx="827.6" cy="2431.4" rx="23" ry="20" transform="rotate(50 827.6 2431.4)" fill="#4a3a26" stroke="#3e3020" stroke-width="0.8"/><line x1="789.7" y1="2366.9" x2="794.5" y2="2418.1" stroke="#4a3a26" stroke-width="2.55" stroke-linecap="round"/><ellipse cx="776.5" cy="2418.1" rx="18" ry="15" transform="rotate(0 776.5 2418.1)" fill="#4a3a26" stroke="#3e3020" stroke-width="0.8"/><line x1="789.7" y1="2366.9" x2="796.68" y2="2375.14" stroke="#174490" stroke-width="2.89" stroke-linecap="round"/><path d="M796.13,2376.48 C816.59,2386.75 819.1,2402.41 851.59,2416.18 C874.61,2425.68 888.59,2424.46 892.61,2414.72 C896.63,2404.97 887.58,2394.25 864.56,2384.75 C831.81,2371.61 818.98,2380.94 797.23,2373.8Z" fill="#174490" stroke="#153c84" stroke-width="0.8"/><line x1="789.7" y1="2366.9" x2="791.14" y2="2362.83" stroke="#174490" stroke-width="2.2" stroke-linecap="round"/><ellipse cx="798.8" cy="2356.4" rx="10" ry="6" transform="rotate(-40 798.8 2356.4)" fill="#174490" stroke="#153c84" stroke-width="0.8"/>
</g>
<rect x="923" y="2228.4" width="241" height="248.6" fill="#070404" stroke="none" stroke-width="0"/>
<g clip-path="url(#cp4_3)">
<line x1="1038.2" y1="2367.6" x2="1017.3" y2="2353.71" stroke="#3a8a50" stroke-width="3.74" stroke-linecap="round"/><path d="M1018.4,2352.2 C1004.23,2339.06 1009.06,2320.65 985.38,2302.76 C968.48,2290.39 955.03,2291.03 946.88,2302.17 C938.74,2313.3 942.19,2326.31 959.09,2338.68 C983.29,2355.84 999.39,2345.67 1016.2,2355.22Z" fill="#3a8a50" stroke="#327c46" stroke-width="0.8"/><line x1="1038.2" y1="2367.6" x2="1035.16" y2="2343.35" stroke="#358a3a" stroke-width="4.08" stroke-linecap="round"/><path d="M1037.19,2343.54 C1041.85,2319.57 1061.9,2312.55 1065.85,2275.2 C1068.29,2248.8 1060.33,2234.75 1045.34,2233.36 C1030.35,2231.98 1019.94,2244.32 1017.5,2270.72 C1014.52,2308.16 1032.95,2318.74 1033.13,2343.16Z" fill="#358a3a" stroke="#307e34" stroke-width="0.8"/><line x1="1038.2" y1="2367.6" x2="1050.82" y2="2342.43" stroke="#2a2448" stroke-width="3.06" stroke-linecap="round"/><ellipse cx="1068.02" cy="2342.43" rx="17.2" ry="18.21" transform="rotate(0 1068.02 2342.43)" fill="#2a2448" stroke="#241f40" stroke-width="0.8"/><line x1="1038.2" y1="2367.6" x2="1007.86" y2="2374.33" stroke="#358a3a" stroke-width="2.2" stroke-linecap="round"/><ellipse cx="996.73" cy="2374.33" rx="11.13" ry="10.11" transform="rotate(0 996.73 2374.33)" fill="#358a3a" stroke="#307e34" stroke-width="0.8"/><line x1="1038.2" y1="2367.6" x2="1033.29" y2="2362.26" stroke="#358a3a" stroke-width="2.2" stroke-linecap="round"/><path d="M1033.15,2361.17 C1024.43,2361.48 1020.52,2355.91 1007.18,2357.47 C997.77,2358.69 993.47,2362.34 994.11,2367.32 C994.75,2372.29 999.85,2374.74 1009.25,2373.52 C1022.55,2371.64 1024.92,2365.27 1033.44,2363.35Z" fill="#358a3a" stroke="#307e34" stroke-width="0.8"/><line x1="1038.2" y1="2367.6" x2="1061.3" y2="2415.5" stroke="#2a2448" stroke-width="3.4" stroke-linecap="round"/><ellipse cx="1076.25" cy="2433.33" rx="23.26" ry="20.23" transform="rotate(50 1076.25 2433.33)" fill="#2a2448" stroke="#241f40" stroke-width="0.8"/><line x1="1038.2" y1="2367.6" x2="1043.15" y2="2419.77" stroke="#2a2448" stroke-width="2.55" stroke-linecap="round"/><ellipse cx="1024.95" cy="2419.77" rx="18.21" ry="15.17" transform="rotate(0 1024.95 2419.77)" fill="#2a2448" stroke="#241f40" stroke-width="0.8"/><line x1="1038.2" y1="2367.6" x2="1045.02" y2="2376.06" stroke="#358a3a" stroke-width="2.89" stroke-linecap="round"/><path d="M1044.47,2377.4 C1065.12,2387.82 1067.62,2403.67 1100.41,2417.64 C1123.65,2427.27 1137.77,2426.05 1141.86,2416.2 C1145.94,2406.35 1136.82,2395.5 1113.58,2385.87 C1080.53,2372.54 1067.54,2381.97 1045.58,2374.73Z" fill="#358a3a" stroke="#307e34" stroke-width="0.8"/><line x1="1038.2" y1="2367.6" x2="1039.59" y2="2363.4" stroke="#358a3a" stroke-width="2.2" stroke-linecap="round"/><ellipse cx="1047.34" cy="2356.9" rx="10.11" ry="6.07" transform="rotate(-40 1047.34 2356.9)" fill="#358a3a" stroke="#307e34" stroke-width="0.8"/>
</g>
<rect x="1171" y="2227.2" width="223" height="249.1" fill="#3a3736" stroke="none" stroke-width="0"/>
<circle cx="1296.8" cy="2034.7" r="20.2" fill="none" stroke="#dd1414" stroke-width="2.8"/>
<circle cx="1223.2" cy="2094.2" r="21.7" fill="none" stroke="#dd1414" stroke-width="2.8"/>
<circle cx="1328.1" cy="2087.3" r="19" fill="none" stroke="#dd1414" stroke-width="2.8"/>
<circle cx="1310.2" cy="2134.2" r="21" fill="none" stroke="#dd1414" stroke-width="2.8"/>
<circle cx="1306.4" cy="2354.3" r="24" fill="#43403e" stroke="#dd1414" stroke-width="2.8"/>
<circle cx="1267.5" cy="2424.8" r="21" fill="#43403e" stroke="#dd1414" stroke-width="2.8"/>
<circle cx="1314" cy="2439.3" r="24" fill="#43403e" stroke="#dd1414" stroke-width="2.8"/>
<defs><linearGradient id="cbar" x1="0" y1="0" x2="0" y2="1"><stop offset="0" stop-color="#e0261a"/><stop offset="0.075" stop-color="#e8681e"/><stop offset="0.17" stop-color="#e8a020"/><stop offset="0.235" stop-color="#e6e22a"/><stop offset="0.33" stop-color="#a0cc34"/><stop offset="0.4" stop-color="#6ab82e"/><stop offset="0.49" stop-color="#5cb86a"/><stop offset="0.56" stop-color="#5ec0b0"/><stop offset="0.6" stop-color="#50c0d0"/><stop offset="0.66" stop-color="#20a8e0"/><stop offset="0.72" stop-color="#2868b4"/><stop offset="0.8" stop-color="#1e3e98"/><stop offset="0.86" stop-color="#4a3e98"/><stop offset="0.92" stop-color="#8a4498"/><stop offset="1" stop-color="#d83c98"/></linearGradient></defs>
<rect x="1421.5" y="1573.6" width="26" height="32.4" fill="#070404" stroke="none" stroke-width="0"/>
<rect x="1421.5" y="1606" width="26" height="799.7" fill="url(#cbar)" stroke="none" stroke-width="0"/>
</svg></body></html>
